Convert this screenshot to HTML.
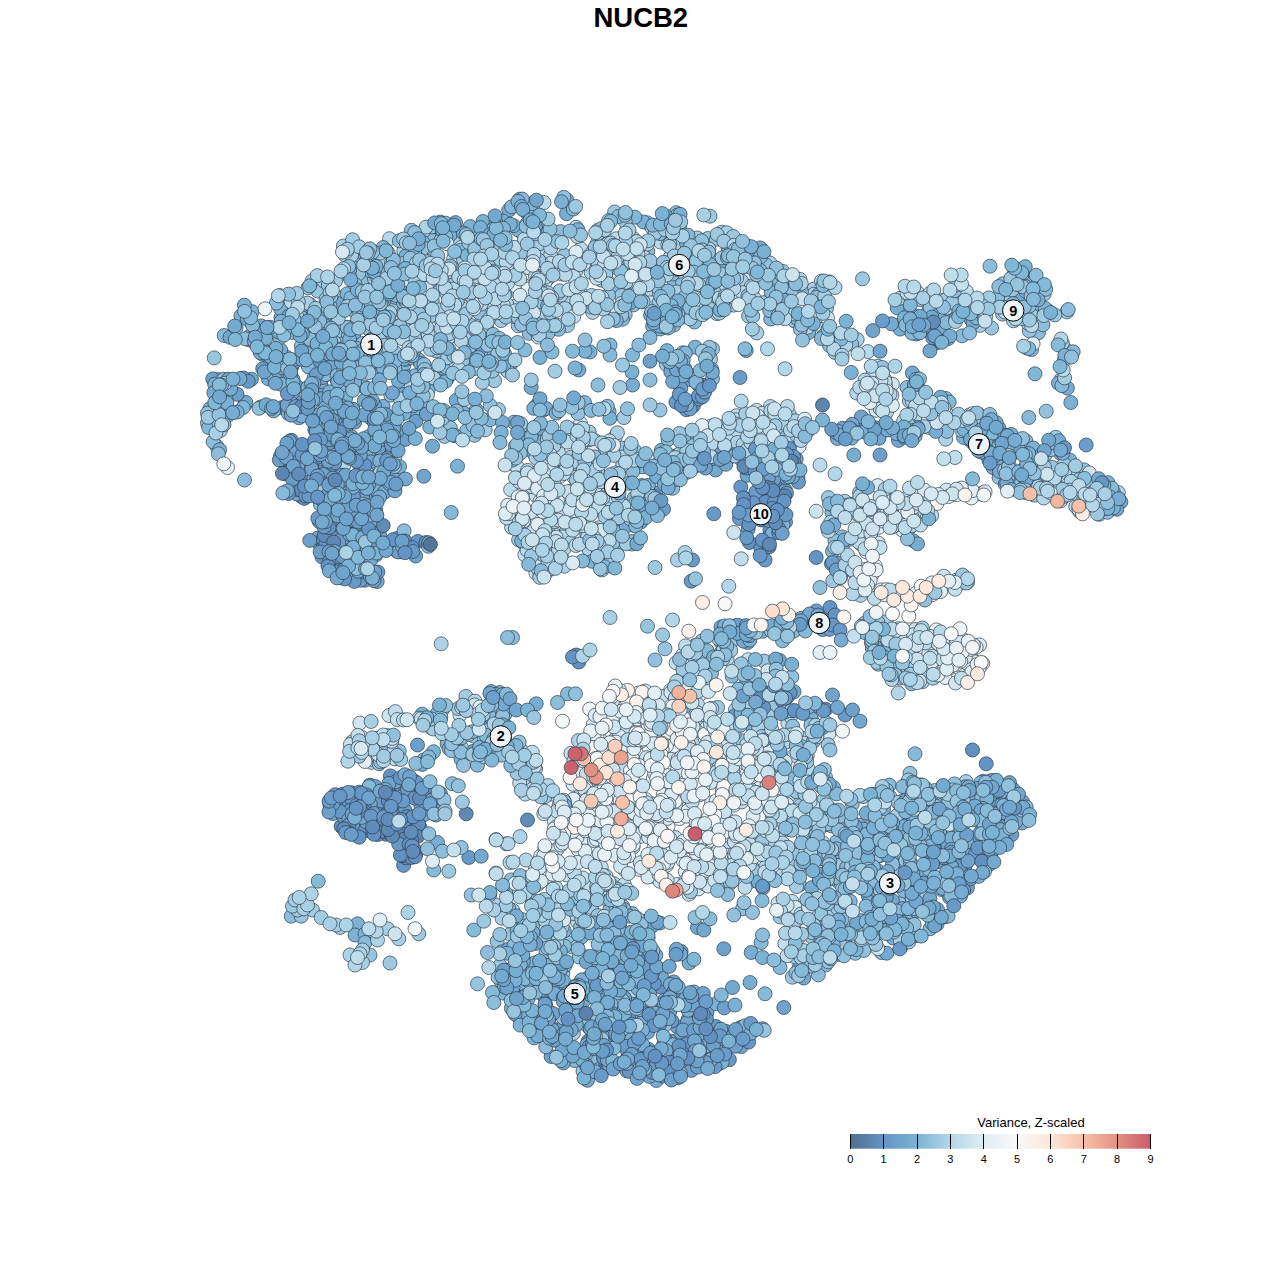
<!DOCTYPE html><html><head><meta charset="utf-8"><title>NUCB2</title><style>html,body{margin:0;padding:0;background:#fff}body{width:1280px;height:1280px;overflow:hidden;font-family:"Liberation Sans",sans-serif}svg{display:block}.p circle{r:7px}text{font-family:"Liberation Sans",sans-serif}</style></head><body><svg width="1280" height="1280" viewBox="0 0 1280 1280"><rect width="1280" height="1280" fill="#fff"/><text x="640.8" y="27" font-size="27.5" font-weight="bold" text-anchor="middle" fill="#000">NUCB2</text><g class="p" stroke="#2f3d4c" stroke-width="0.7"><g fill="#5c85b0"><circle cx="340.9" cy="577.5" r="7"/></g><g fill="#608cba"><circle cx="411.1" cy="848.7" r="7"/><circle cx="329.9" cy="805.1" r="7"/></g><g fill="#6290c0"><circle cx="353.4" cy="796.6" r="7"/><circle cx="588.1" cy="1041.3" r="7"/><circle cx="318.9" cy="421.2" r="7"/><circle cx="779.9" cy="469.7" r="7"/></g><g fill="#6494c5"><circle cx="400.6" cy="795.0" r="7"/><circle cx="687.1" cy="466.2" r="7"/><circle cx="390.4" cy="775.9" r="7"/><circle cx="660.7" cy="987.1" r="7"/><circle cx="377.7" cy="489.3" r="7"/><circle cx="693.4" cy="405.8" r="7"/><circle cx="598.3" cy="1060.5" r="7"/><circle cx="704.1" cy="385.3" r="7"/></g><g fill="#6697c7"><circle cx="740.7" cy="626.6" r="7"/><circle cx="383.3" cy="812.3" r="7"/><circle cx="630.3" cy="1003.3" r="7"/><circle cx="306.7" cy="482.0" r="7"/><circle cx="782.2" cy="453.9" r="7"/><circle cx="352.7" cy="811.2" r="7"/></g><g fill="#689ac8"><circle cx="319.1" cy="543.4" r="7"/><circle cx="325.2" cy="442.8" r="7"/><circle cx="575.7" cy="1052.3" r="7"/><circle cx="1015.8" cy="804.4" r="7"/><circle cx="729.4" cy="1059.7" r="7"/><circle cx="740.7" cy="1027.5" r="7"/></g><g fill="#6b9dca"><circle cx="673.4" cy="1071.4" r="7"/><circle cx="346.8" cy="818.3" r="7"/><circle cx="794.8" cy="468.9" r="7"/><circle cx="746.5" cy="498.9" r="7"/><circle cx="1013.8" cy="485.6" r="7"/></g><g fill="#6da0cb"><circle cx="551.1" cy="1056.5" r="7"/><circle cx="1114.5" cy="500.7" r="7"/><circle cx="590.0" cy="1028.7" r="7"/><circle cx="396.6" cy="791.2" r="7"/><circle cx="711.9" cy="466.2" r="7"/><circle cx="297.8" cy="491.7" r="7"/><circle cx="299.7" cy="458.7" r="7"/><circle cx="767.5" cy="545.9" r="7"/><circle cx="260.7" cy="406.9" r="7"/><circle cx="990.4" cy="856.1" r="7"/><circle cx="838.6" cy="436.0" r="7"/><circle cx="346.6" cy="440.1" r="7"/><circle cx="346.6" cy="497.1" r="7"/><circle cx="405.3" cy="439.4" r="7"/><circle cx="364.9" cy="580.2" r="7"/></g><g fill="#70a4cd"><circle cx="785.5" cy="522.0" r="7"/><circle cx="662.2" cy="1009.2" r="7"/><circle cx="331.1" cy="533.4" r="7"/><circle cx="788.3" cy="470.1" r="7"/><circle cx="829.4" cy="863.8" r="7"/><circle cx="316.1" cy="454.5" r="7"/><circle cx="354.8" cy="422.2" r="7"/><circle cx="283.5" cy="461.9" r="7"/><circle cx="702.2" cy="1036.6" r="7"/><circle cx="354.1" cy="567.9" r="7"/><circle cx="658.0" cy="305.2" r="7"/><circle cx="788.0" cy="696.2" r="7"/><circle cx="890.9" cy="904.9" r="7"/><circle cx="655.8" cy="493.0" r="7"/><circle cx="348.0" cy="483.4" r="7"/></g><g fill="#72a7cf"><circle cx="629.5" cy="995.4" r="7"/><circle cx="912.4" cy="373.0" r="7"/><circle cx="351.3" cy="502.2" r="7"/><circle cx="662.4" cy="978.3" r="7"/><circle cx="368.8" cy="830.9" r="7"/><circle cx="598.3" cy="917.6" r="7"/><circle cx="301.4" cy="307.8" r="7"/><circle cx="226.3" cy="390.0" r="7"/><circle cx="346.8" cy="552.5" r="7"/><circle cx="875.8" cy="427.9" r="7"/><circle cx="705.7" cy="1050.9" r="7"/><circle cx="998.9" cy="428.1" r="7"/><circle cx="397.2" cy="538.5" r="7"/><circle cx="381.2" cy="317.7" r="7"/><circle cx="290.4" cy="387.9" r="7"/></g><g fill="#74aad0"><circle cx="244.7" cy="405.0" r="7"/><circle cx="1013.3" cy="789.6" r="7"/><circle cx="712.4" cy="1042.3" r="7"/><circle cx="359.2" cy="817.7" r="7"/><circle cx="839.4" cy="954.4" r="7"/><circle cx="943.7" cy="851.6" r="7"/><circle cx="794.0" cy="691.7" r="7"/><circle cx="300.6" cy="468.0" r="7"/><circle cx="341.7" cy="357.7" r="7"/><circle cx="324.6" cy="452.5" r="7"/><circle cx="645.9" cy="937.2" r="7"/><circle cx="641.7" cy="1056.6" r="7"/><circle cx="721.0" cy="627.0" r="7"/><circle cx="708.5" cy="1066.6" r="7"/><circle cx="842.1" cy="838.5" r="7"/><circle cx="1020.2" cy="486.7" r="7"/><circle cx="763.8" cy="462.1" r="7"/><circle cx="541.7" cy="991.4" r="7"/><circle cx="331.9" cy="323.6" r="7"/><circle cx="351.7" cy="371.8" r="7"/><circle cx="245.9" cy="402.5" r="7"/></g><g fill="#77add2"><circle cx="283.0" cy="456.3" r="7"/><circle cx="338.9" cy="538.1" r="7"/><circle cx="860.7" cy="920.6" r="7"/><circle cx="354.4" cy="258.2" r="7"/><circle cx="899.5" cy="882.3" r="7"/><circle cx="1000.5" cy="460.2" r="7"/><circle cx="338.7" cy="493.3" r="7"/><circle cx="353.6" cy="549.5" r="7"/><circle cx="423.3" cy="810.7" r="7"/></g><g fill="#79b0d3"><circle cx="660.7" cy="323.5" r="7"/><circle cx="466.4" cy="363.7" r="7"/><circle cx="919.8" cy="392.2" r="7"/><circle cx="333.2" cy="361.2" r="7"/><circle cx="533.4" cy="452.7" r="7"/><circle cx="694.0" cy="992.0" r="7"/><circle cx="618.4" cy="1065.3" r="7"/><circle cx="853.7" cy="873.8" r="7"/><circle cx="907.5" cy="817.3" r="7"/><circle cx="1060.7" cy="453.6" r="7"/><circle cx="917.6" cy="935.6" r="7"/><circle cx="874.2" cy="891.9" r="7"/><circle cx="383.1" cy="406.4" r="7"/><circle cx="619.5" cy="927.8" r="7"/><circle cx="744.2" cy="269.0" r="7"/><circle cx="623.2" cy="1007.7" r="7"/></g><g fill="#7bb3d5"><circle cx="838.9" cy="947.3" r="7"/><circle cx="240.9" cy="316.0" r="7"/><circle cx="498.5" cy="971.1" r="7"/><circle cx="638.5" cy="1051.0" r="7"/><circle cx="536.1" cy="986.6" r="7"/><circle cx="1069.8" cy="460.0" r="7"/><circle cx="661.3" cy="450.3" r="7"/><circle cx="592.2" cy="1065.8" r="7"/><circle cx="997.3" cy="793.9" r="7"/><circle cx="499.1" cy="695.3" r="7"/><circle cx="729.4" cy="240.6" r="7"/><circle cx="417.4" cy="398.6" r="7"/><circle cx="484.4" cy="751.4" r="7"/><circle cx="695.2" cy="347.2" r="7"/><circle cx="709.9" cy="678.8" r="7"/><circle cx="220.4" cy="399.8" r="7"/><circle cx="320.9" cy="385.1" r="7"/><circle cx="598.8" cy="1011.9" r="7"/><circle cx="940.0" cy="841.8" r="7"/><circle cx="614.6" cy="917.0" r="7"/><circle cx="639.7" cy="958.3" r="7"/><circle cx="323.1" cy="313.5" r="7"/><circle cx="263.0" cy="349.8" r="7"/><circle cx="380.1" cy="422.8" r="7"/><circle cx="946.9" cy="799.5" r="7"/><circle cx="374.5" cy="405.9" r="7"/></g><g fill="#81b7d7"><circle cx="916.2" cy="379.3" r="7"/><circle cx="675.2" cy="307.8" r="7"/><circle cx="878.2" cy="930.6" r="7"/><circle cx="1107.9" cy="491.5" r="7"/><circle cx="221.1" cy="412.8" r="7"/><circle cx="804.2" cy="764.2" r="7"/><circle cx="499.4" cy="753.3" r="7"/><circle cx="997.9" cy="447.8" r="7"/><circle cx="399.6" cy="365.1" r="7"/><circle cx="499.4" cy="344.4" r="7"/><circle cx="502.6" cy="348.1" r="7"/><circle cx="502.6" cy="993.0" r="7"/><circle cx="353.6" cy="334.8" r="7"/></g><g fill="#86bad9"><circle cx="1013.7" cy="817.3" r="7"/><circle cx="535.0" cy="977.1" r="7"/><circle cx="428.2" cy="390.1" r="7"/><circle cx="962.1" cy="335.8" r="7"/><circle cx="641.1" cy="1017.5" r="7"/><circle cx="853.4" cy="878.6" r="7"/><circle cx="359.8" cy="541.8" r="7"/><circle cx="592.1" cy="1057.6" r="7"/><circle cx="368.6" cy="436.7" r="7"/><circle cx="632.1" cy="913.5" r="7"/><circle cx="881.6" cy="952.6" r="7"/><circle cx="531.0" cy="940.4" r="7"/><circle cx="301.5" cy="496.5" r="7"/><circle cx="1066.4" cy="467.8" r="7"/><circle cx="305.5" cy="406.3" r="7"/></g><g fill="#8cbedb"><circle cx="542.7" cy="320.7" r="7"/><circle cx="799.4" cy="885.0" r="7"/><circle cx="887.0" cy="643.8" r="7"/><circle cx="595.1" cy="476.8" r="7"/><circle cx="397.3" cy="310.0" r="7"/><circle cx="647.8" cy="251.3" r="7"/><circle cx="721.0" cy="642.0" r="7"/><circle cx="355.7" cy="312.4" r="7"/><circle cx="1018.9" cy="481.6" r="7"/><circle cx="363.5" cy="278.3" r="7"/><circle cx="324.4" cy="353.0" r="7"/><circle cx="889.1" cy="429.6" r="7"/><circle cx="585.5" cy="1054.9" r="7"/><circle cx="1117.3" cy="498.7" r="7"/><circle cx="617.8" cy="531.6" r="7"/><circle cx="721.4" cy="652.1" r="7"/><circle cx="673.9" cy="325.0" r="7"/><circle cx="1002.3" cy="801.1" r="7"/><circle cx="391.0" cy="274.0" r="7"/><circle cx="556.7" cy="437.1" r="7"/></g><g fill="#92c1dd"><circle cx="846.2" cy="830.7" r="7"/><circle cx="808.4" cy="848.0" r="7"/><circle cx="362.5" cy="317.5" r="7"/><circle cx="999.1" cy="477.4" r="7"/><circle cx="933.7" cy="834.3" r="7"/><circle cx="956.4" cy="803.6" r="7"/><circle cx="633.6" cy="304.9" r="7"/><circle cx="540.4" cy="318.7" r="7"/><circle cx="1045.0" cy="454.9" r="7"/><circle cx="384.5" cy="315.1" r="7"/></g><g fill="#97c5de"><circle cx="494.5" cy="364.2" r="7"/><circle cx="442.7" cy="709.3" r="7"/><circle cx="773.4" cy="708.0" r="7"/><circle cx="564.0" cy="261.1" r="7"/><circle cx="900.9" cy="811.8" r="7"/><circle cx="579.6" cy="913.2" r="7"/><circle cx="874.2" cy="907.0" r="7"/><circle cx="518.2" cy="325.8" r="7"/><circle cx="830.2" cy="882.9" r="7"/><circle cx="636.7" cy="511.2" r="7"/><circle cx="487.5" cy="310.9" r="7"/><circle cx="1030.0" cy="488.2" r="7"/><circle cx="686.8" cy="434.7" r="7"/><circle cx="606.6" cy="479.5" r="7"/><circle cx="817.4" cy="951.8" r="7"/><circle cx="679.4" cy="226.8" r="7"/><circle cx="609.8" cy="558.0" r="7"/><circle cx="805.4" cy="292.9" r="7"/><circle cx="770.3" cy="284.7" r="7"/><circle cx="828.7" cy="945.3" r="7"/><circle cx="697.7" cy="689.5" r="7"/></g><g fill="#9dc8e0"><circle cx="603.9" cy="252.0" r="7"/><circle cx="792.3" cy="977.2" r="7"/><circle cx="359.2" cy="310.9" r="7"/><circle cx="840.0" cy="511.6" r="7"/><circle cx="454.5" cy="264.3" r="7"/><circle cx="1064.1" cy="464.2" r="7"/><circle cx="535.8" cy="270.6" r="7"/><circle cx="855.5" cy="427.7" r="7"/><circle cx="473.8" cy="736.1" r="7"/><circle cx="605.4" cy="488.2" r="7"/><circle cx="666.4" cy="364.3" r="7"/><circle cx="419.8" cy="280.8" r="7"/><circle cx="647.3" cy="222.8" r="7"/><circle cx="522.2" cy="259.3" r="7"/><circle cx="389.3" cy="321.1" r="7"/><circle cx="829.6" cy="881.6" r="7"/><circle cx="529.6" cy="927.1" r="7"/><circle cx="447.3" cy="738.5" r="7"/><circle cx="878.2" cy="664.2" r="7"/><circle cx="621.4" cy="448.1" r="7"/></g><g fill="#a2cce2"><circle cx="1074.4" cy="485.4" r="7"/><circle cx="589.2" cy="432.0" r="7"/><circle cx="417.6" cy="322.1" r="7"/><circle cx="601.9" cy="570.0" r="7"/><circle cx="902.4" cy="800.9" r="7"/><circle cx="864.7" cy="623.2" r="7"/><circle cx="216.7" cy="446.1" r="7"/><circle cx="597.5" cy="891.5" r="7"/><circle cx="379.1" cy="269.5" r="7"/><circle cx="904.5" cy="649.4" r="7"/><circle cx="630.7" cy="252.0" r="7"/><circle cx="322.8" cy="324.6" r="7"/><circle cx="701.8" cy="641.1" r="7"/><circle cx="451.3" cy="274.4" r="7"/><circle cx="805.2" cy="766.6" r="7"/></g><g fill="#a8cfe4"><circle cx="1040.9" cy="310.9" r="7"/><circle cx="510.0" cy="463.2" r="7"/><circle cx="957.1" cy="585.2" r="7"/><circle cx="459.3" cy="286.5" r="7"/><circle cx="455.6" cy="267.6" r="7"/><circle cx="559.5" cy="457.7" r="7"/><circle cx="352.4" cy="741.8" r="7"/><circle cx="813.7" cy="289.1" r="7"/><circle cx="857.2" cy="339.6" r="7"/><circle cx="423.7" cy="716.4" r="7"/></g><g fill="#add3e6"><circle cx="710.8" cy="426.1" r="7"/><circle cx="782.5" cy="295.5" r="7"/><circle cx="1086.9" cy="490.2" r="7"/><circle cx="495.2" cy="904.8" r="7"/><circle cx="813.9" cy="294.2" r="7"/><circle cx="546.5" cy="252.5" r="7"/><circle cx="910.2" cy="420.3" r="7"/><circle cx="928.7" cy="675.7" r="7"/><circle cx="588.9" cy="549.3" r="7"/><circle cx="522.5" cy="766.4" r="7"/><circle cx="592.7" cy="312.4" r="7"/><circle cx="532.3" cy="782.1" r="7"/><circle cx="532.5" cy="901.9" r="7"/><circle cx="726.0" cy="883.5" r="7"/><circle cx="845.8" cy="945.6" r="7"/></g><g fill="#b3d6e8"><circle cx="894.9" cy="669.7" r="7"/><circle cx="683.3" cy="675.8" r="7"/><circle cx="789.7" cy="795.0" r="7"/><circle cx="425.1" cy="335.3" r="7"/><circle cx="610.0" cy="452.2" r="7"/><circle cx="306.5" cy="403.3" r="7"/><circle cx="727.2" cy="658.9" r="7"/><circle cx="706.0" cy="443.8" r="7"/><circle cx="651.5" cy="803.6" r="7"/><circle cx="394.8" cy="457.3" r="7"/></g><g fill="#b7d9e9"><circle cx="719.0" cy="276.6" r="7"/><circle cx="860.5" cy="543.9" r="7"/><circle cx="707.5" cy="362.3" r="7"/><circle cx="568.1" cy="512.6" r="7"/><circle cx="549.1" cy="271.0" r="7"/><circle cx="646.2" cy="732.1" r="7"/><circle cx="808.1" cy="768.8" r="7"/><circle cx="576.0" cy="270.9" r="7"/><circle cx="737.4" cy="715.9" r="7"/><circle cx="738.6" cy="852.1" r="7"/><circle cx="779.2" cy="310.3" r="7"/><circle cx="389.5" cy="238.7" r="7"/><circle cx="578.0" cy="495.1" r="7"/><circle cx="551.2" cy="540.8" r="7"/><circle cx="759.3" cy="786.8" r="7"/><circle cx="547.2" cy="279.2" r="7"/><circle cx="550.7" cy="254.8" r="7"/></g><g fill="#bcdbea"><circle cx="780.0" cy="428.9" r="7"/><circle cx="613.0" cy="271.4" r="7"/><circle cx="792.5" cy="783.1" r="7"/><circle cx="766.1" cy="438.1" r="7"/><circle cx="558.0" cy="454.2" r="7"/><circle cx="688.2" cy="675.0" r="7"/><circle cx="437.3" cy="259.2" r="7"/><circle cx="580.9" cy="249.0" r="7"/><circle cx="826.2" cy="334.8" r="7"/></g><g fill="#c0ddec"><circle cx="727.3" cy="870.9" r="7"/><circle cx="891.0" cy="524.6" r="7"/><circle cx="722.8" cy="756.9" r="7"/><circle cx="802.6" cy="738.3" r="7"/><circle cx="746.1" cy="852.8" r="7"/><circle cx="931.7" cy="515.5" r="7"/><circle cx="791.9" cy="901.4" r="7"/></g><g fill="#c4dfed"><circle cx="494.1" cy="262.4" r="7"/><circle cx="949.0" cy="493.2" r="7"/><circle cx="728.2" cy="852.7" r="7"/><circle cx="779.0" cy="836.9" r="7"/><circle cx="624.7" cy="238.7" r="7"/><circle cx="586.0" cy="886.9" r="7"/></g><g fill="#c9e2ee"><circle cx="574.9" cy="772.5" r="7"/><circle cx="938.2" cy="310.0" r="7"/><circle cx="884.5" cy="508.3" r="7"/><circle cx="628.0" cy="290.4" r="7"/><circle cx="589.4" cy="745.0" r="7"/><circle cx="794.4" cy="755.4" r="7"/><circle cx="415.8" cy="239.2" r="7"/></g><g fill="#cde4ef"><circle cx="884.8" cy="407.6" r="7"/><circle cx="574.1" cy="477.6" r="7"/><circle cx="728.6" cy="284.4" r="7"/><circle cx="534.2" cy="530.3" r="7"/><circle cx="535.9" cy="572.9" r="7"/><circle cx="708.9" cy="847.1" r="7"/><circle cx="921.2" cy="595.2" r="7"/></g><g fill="#d2e6f1"><circle cx="624.8" cy="869.9" r="7"/><circle cx="645.2" cy="691.0" r="7"/><circle cx="640.1" cy="836.4" r="7"/><circle cx="714.4" cy="767.7" r="7"/><circle cx="559.9" cy="476.4" r="7"/><circle cx="436.9" cy="725.5" r="7"/><circle cx="540.6" cy="856.1" r="7"/><circle cx="761.7" cy="774.9" r="7"/><circle cx="884.8" cy="499.6" r="7"/><circle cx="892.4" cy="384.2" r="7"/><circle cx="946.4" cy="490.1" r="7"/><circle cx="699.9" cy="794.8" r="7"/></g><g fill="#d6e8f2"><circle cx="580.5" cy="423.4" r="7"/><circle cx="621.2" cy="825.5" r="7"/><circle cx="559.9" cy="831.5" r="7"/><circle cx="828.9" cy="733.8" r="7"/><circle cx="544.9" cy="848.3" r="7"/></g><g fill="#daebf3"><circle cx="937.9" cy="633.8" r="7"/><circle cx="558.0" cy="869.3" r="7"/></g><g fill="#dfedf4"><circle cx="968.2" cy="670.7" r="7"/><circle cx="902.0" cy="529.9" r="7"/><circle cx="682.2" cy="782.4" r="7"/><circle cx="683.2" cy="860.8" r="7"/></g><g fill="#e1eef5"><circle cx="708.4" cy="763.2" r="7"/><circle cx="676.8" cy="771.4" r="7"/><circle cx="645.9" cy="807.0" r="7"/></g><g fill="#e4eff5"><circle cx="951.6" cy="643.6" r="7"/><circle cx="609.7" cy="839.1" r="7"/><circle cx="625.6" cy="824.3" r="7"/><circle cx="743.9" cy="839.7" r="7"/><circle cx="590.2" cy="811.3" r="7"/></g><g fill="#e7f1f6"><circle cx="952.2" cy="653.6" r="7"/><circle cx="936.3" cy="629.9" r="7"/><circle cx="564.5" cy="817.0" r="7"/><circle cx="651.5" cy="819.6" r="7"/><circle cx="618.5" cy="761.6" r="7"/></g><g fill="#e9f2f6"><circle cx="720.2" cy="839.6" r="7"/><circle cx="663.3" cy="794.8" r="7"/></g><g fill="#ecf3f7"><circle cx="694.0" cy="739.9" r="7"/></g><g fill="#eff4f7"><circle cx="666.8" cy="733.6" r="7"/><circle cx="904.8" cy="511.3" r="7"/></g><g fill="#f4f7f8"><circle cx="596.5" cy="779.4" r="7"/></g><g fill="#f7f8f9"><circle cx="638.3" cy="693.1" r="7"/></g><g fill="#faf7f6"><circle cx="700.9" cy="836.4" r="7"/><circle cx="597.3" cy="734.0" r="7"/></g><g fill="#fbf2ec"><circle cx="678.0" cy="798.8" r="7"/></g><g fill="#fcf0e9"><circle cx="592.0" cy="754.4" r="7"/></g><g fill="#fcece2"><circle cx="595.7" cy="724.4" r="7"/><circle cx="599.3" cy="783.2" r="7"/></g><g fill="#fbf4ef"><circle cx="627.9" cy="758.7" r="7"/></g><g fill="#f9f9f9"><circle cx="725.0" cy="753.2" r="7"/></g><g fill="#f1f6f8"><circle cx="736.6" cy="773.8" r="7"/><circle cx="715.2" cy="830.1" r="7"/><circle cx="737.3" cy="801.3" r="7"/></g><g fill="#eff4f7"><circle cx="605.1" cy="780.3" r="7"/><circle cx="637.6" cy="719.2" r="7"/></g><g fill="#e9f2f6"><circle cx="966.2" cy="671.9" r="7"/><circle cx="963.4" cy="644.7" r="7"/><circle cx="583.6" cy="523.6" r="7"/><circle cx="603.5" cy="792.9" r="7"/></g><g fill="#e4eff5"><circle cx="759.9" cy="779.3" r="7"/><circle cx="686.1" cy="841.3" r="7"/><circle cx="697.6" cy="763.5" r="7"/></g><g fill="#e1eef5"><circle cx="710.2" cy="822.4" r="7"/><circle cx="656.6" cy="740.6" r="7"/><circle cx="925.7" cy="514.2" r="7"/></g><g fill="#dfedf4"><circle cx="758.3" cy="837.2" r="7"/><circle cx="950.1" cy="663.8" r="7"/><circle cx="644.0" cy="823.4" r="7"/><circle cx="786.9" cy="804.4" r="7"/><circle cx="670.5" cy="690.4" r="7"/><circle cx="628.1" cy="745.3" r="7"/><circle cx="608.2" cy="504.5" r="7"/><circle cx="582.3" cy="839.8" r="7"/></g><g fill="#daebf3"><circle cx="599.5" cy="757.3" r="7"/><circle cx="686.9" cy="846.5" r="7"/><circle cx="553.5" cy="851.1" r="7"/></g><g fill="#d6e8f2"><circle cx="891.9" cy="507.3" r="7"/><circle cx="763.1" cy="849.0" r="7"/><circle cx="865.6" cy="393.6" r="7"/><circle cx="543.6" cy="856.1" r="7"/><circle cx="651.8" cy="728.6" r="7"/><circle cx="634.9" cy="834.1" r="7"/><circle cx="872.0" cy="574.7" r="7"/><circle cx="605.0" cy="302.4" r="7"/><circle cx="854.0" cy="572.1" r="7"/></g><g fill="#d2e6f1"><circle cx="451.3" cy="335.2" r="7"/><circle cx="721.9" cy="810.6" r="7"/></g><g fill="#cde4ef"><circle cx="389.0" cy="715.5" r="7"/><circle cx="915.2" cy="629.5" r="7"/><circle cx="885.4" cy="385.4" r="7"/></g><g fill="#c9e2ee"><circle cx="555.6" cy="498.3" r="7"/><circle cx="459.9" cy="715.1" r="7"/><circle cx="891.6" cy="512.7" r="7"/><circle cx="581.0" cy="790.2" r="7"/><circle cx="523.5" cy="877.4" r="7"/><circle cx="461.6" cy="265.4" r="7"/><circle cx="589.8" cy="443.3" r="7"/><circle cx="479.5" cy="276.5" r="7"/></g><g fill="#c4dfed"><circle cx="914.1" cy="293.6" r="7"/><circle cx="511.0" cy="913.9" r="7"/><circle cx="784.9" cy="943.6" r="7"/><circle cx="661.5" cy="696.4" r="7"/><circle cx="599.2" cy="527.7" r="7"/><circle cx="550.8" cy="263.3" r="7"/><circle cx="566.4" cy="874.9" r="7"/><circle cx="517.3" cy="467.2" r="7"/></g><g fill="#c0ddec"><circle cx="727.7" cy="873.9" r="7"/><circle cx="575.5" cy="458.3" r="7"/><circle cx="582.9" cy="878.0" r="7"/><circle cx="930.9" cy="409.9" r="7"/><circle cx="616.7" cy="791.8" r="7"/><circle cx="884.6" cy="379.0" r="7"/><circle cx="550.8" cy="523.7" r="7"/><circle cx="633.0" cy="847.3" r="7"/></g><g fill="#bcdbea"><circle cx="577.4" cy="921.7" r="7"/><circle cx="705.1" cy="465.6" r="7"/><circle cx="608.2" cy="743.9" r="7"/><circle cx="511.6" cy="527.3" r="7"/><circle cx="532.9" cy="879.8" r="7"/><circle cx="533.1" cy="243.1" r="7"/><circle cx="917.1" cy="292.1" r="7"/><circle cx="510.6" cy="489.6" r="7"/></g><g fill="#b7d9e9"><circle cx="765.7" cy="803.9" r="7"/><circle cx="558.0" cy="467.7" r="7"/><circle cx="1039.1" cy="305.6" r="7"/><circle cx="589.9" cy="263.9" r="7"/><circle cx="918.7" cy="673.6" r="7"/><circle cx="506.6" cy="292.7" r="7"/><circle cx="371.4" cy="762.4" r="7"/><circle cx="373.9" cy="760.0" r="7"/><circle cx="561.1" cy="523.0" r="7"/><circle cx="574.3" cy="873.5" r="7"/><circle cx="803.1" cy="835.5" r="7"/><circle cx="878.4" cy="370.8" r="7"/><circle cx="437.6" cy="316.7" r="7"/></g><g fill="#b3d6e8"><circle cx="740.0" cy="794.0" r="7"/><circle cx="791.1" cy="852.3" r="7"/><circle cx="824.8" cy="309.6" r="7"/><circle cx="814.6" cy="823.5" r="7"/><circle cx="722.0" cy="291.7" r="7"/><circle cx="595.1" cy="440.7" r="7"/><circle cx="1059.8" cy="490.1" r="7"/><circle cx="600.6" cy="880.2" r="7"/><circle cx="1064.8" cy="348.8" r="7"/><circle cx="1075.7" cy="506.5" r="7"/><circle cx="721.6" cy="448.7" r="7"/><circle cx="772.7" cy="816.4" r="7"/><circle cx="1000.1" cy="436.5" r="7"/><circle cx="558.3" cy="539.5" r="7"/><circle cx="496.8" cy="362.5" r="7"/><circle cx="776.8" cy="849.7" r="7"/><circle cx="623.5" cy="993.4" r="7"/><circle cx="549.6" cy="794.3" r="7"/><circle cx="563.4" cy="560.3" r="7"/></g><g fill="#add3e6"><circle cx="564.5" cy="566.2" r="7"/><circle cx="752.6" cy="868.2" r="7"/><circle cx="482.2" cy="322.4" r="7"/><circle cx="627.0" cy="260.6" r="7"/><circle cx="596.1" cy="481.5" r="7"/><circle cx="860.6" cy="506.3" r="7"/><circle cx="806.3" cy="812.8" r="7"/><circle cx="567.8" cy="507.4" r="7"/><circle cx="780.3" cy="818.4" r="7"/><circle cx="807.3" cy="793.9" r="7"/><circle cx="723.3" cy="650.1" r="7"/></g><g fill="#a8cfe4"><circle cx="551.4" cy="443.5" r="7"/><circle cx="756.8" cy="332.9" r="7"/><circle cx="812.3" cy="811.2" r="7"/><circle cx="393.5" cy="301.5" r="7"/><circle cx="723.0" cy="880.5" r="7"/><circle cx="343.4" cy="246.0" r="7"/><circle cx="819.0" cy="882.6" r="7"/><circle cx="889.9" cy="796.8" r="7"/><circle cx="591.1" cy="272.5" r="7"/><circle cx="795.8" cy="782.8" r="7"/><circle cx="622.7" cy="906.5" r="7"/><circle cx="566.2" cy="532.1" r="7"/><circle cx="535.5" cy="768.7" r="7"/><circle cx="561.9" cy="274.1" r="7"/><circle cx="850.5" cy="504.4" r="7"/><circle cx="713.6" cy="291.2" r="7"/><circle cx="791.7" cy="866.0" r="7"/><circle cx="1066.3" cy="488.7" r="7"/><circle cx="840.5" cy="577.6" r="7"/><circle cx="718.7" cy="638.9" r="7"/></g><g fill="#a2cce2"><circle cx="544.3" cy="899.4" r="7"/><circle cx="408.9" cy="287.3" r="7"/><circle cx="465.9" cy="696.4" r="7"/><circle cx="733.5" cy="305.1" r="7"/><circle cx="501.2" cy="320.6" r="7"/><circle cx="915.1" cy="416.2" r="7"/><circle cx="530.4" cy="562.3" r="7"/><circle cx="518.6" cy="539.9" r="7"/><circle cx="323.6" cy="441.3" r="7"/><circle cx="537.6" cy="884.6" r="7"/><circle cx="768.1" cy="715.6" r="7"/><circle cx="777.2" cy="801.3" r="7"/><circle cx="684.4" cy="443.1" r="7"/><circle cx="686.5" cy="472.5" r="7"/><circle cx="597.7" cy="230.3" r="7"/><circle cx="461.6" cy="747.8" r="7"/><circle cx="970.6" cy="430.9" r="7"/><circle cx="539.8" cy="243.6" r="7"/><circle cx="789.4" cy="414.4" r="7"/><circle cx="824.9" cy="920.3" r="7"/><circle cx="923.5" cy="397.9" r="7"/><circle cx="825.5" cy="777.2" r="7"/><circle cx="979.6" cy="321.7" r="7"/><circle cx="383.5" cy="338.8" r="7"/><circle cx="560.7" cy="470.1" r="7"/></g><g fill="#9dc8e0"><circle cx="857.8" cy="507.4" r="7"/><circle cx="828.4" cy="497.6" r="7"/><circle cx="706.5" cy="306.4" r="7"/><circle cx="385.7" cy="354.6" r="7"/><circle cx="567.5" cy="325.5" r="7"/><circle cx="764.0" cy="302.6" r="7"/><circle cx="1016.7" cy="487.2" r="7"/><circle cx="584.0" cy="1017.6" r="7"/><circle cx="707.9" cy="238.5" r="7"/><circle cx="991.6" cy="840.2" r="7"/><circle cx="583.0" cy="1071.1" r="7"/><circle cx="987.7" cy="451.2" r="7"/><circle cx="826.5" cy="308.3" r="7"/><circle cx="539.8" cy="573.3" r="7"/><circle cx="730.4" cy="882.9" r="7"/><circle cx="1060.9" cy="379.9" r="7"/><circle cx="371.6" cy="292.2" r="7"/><circle cx="1086.3" cy="505.3" r="7"/></g><g fill="#97c5de"><circle cx="692.7" cy="257.5" r="7"/><circle cx="1004.3" cy="809.6" r="7"/><circle cx="510.2" cy="934.4" r="7"/><circle cx="207.4" cy="423.1" r="7"/><circle cx="773.5" cy="675.6" r="7"/><circle cx="471.1" cy="362.9" r="7"/><circle cx="823.5" cy="800.3" r="7"/><circle cx="834.7" cy="892.4" r="7"/><circle cx="706.0" cy="450.1" r="7"/><circle cx="572.2" cy="946.9" r="7"/><circle cx="829.8" cy="816.3" r="7"/><circle cx="716.4" cy="239.3" r="7"/><circle cx="310.3" cy="304.7" r="7"/><circle cx="913.7" cy="839.9" r="7"/><circle cx="925.7" cy="890.7" r="7"/><circle cx="625.2" cy="314.8" r="7"/><circle cx="668.0" cy="475.9" r="7"/><circle cx="928.1" cy="851.8" r="7"/><circle cx="801.6" cy="317.5" r="7"/><circle cx="562.8" cy="973.6" r="7"/><circle cx="526.8" cy="552.1" r="7"/><circle cx="796.1" cy="791.6" r="7"/><circle cx="1056.2" cy="493.5" r="7"/><circle cx="903.7" cy="838.9" r="7"/><circle cx="497.2" cy="941.4" r="7"/><circle cx="694.6" cy="288.0" r="7"/><circle cx="660.1" cy="272.9" r="7"/><circle cx="388.3" cy="253.2" r="7"/></g><g fill="#92c1dd"><circle cx="356.2" cy="255.6" r="7"/><circle cx="528.8" cy="231.2" r="7"/><circle cx="964.0" cy="837.8" r="7"/><circle cx="852.4" cy="857.4" r="7"/><circle cx="723.2" cy="1056.1" r="7"/><circle cx="851.7" cy="344.2" r="7"/><circle cx="474.4" cy="435.3" r="7"/><circle cx="801.2" cy="827.6" r="7"/><circle cx="895.3" cy="851.9" r="7"/><circle cx="567.3" cy="942.4" r="7"/><circle cx="1051.3" cy="449.6" r="7"/><circle cx="1084.2" cy="469.9" r="7"/><circle cx="754.8" cy="273.0" r="7"/><circle cx="527.7" cy="886.2" r="7"/><circle cx="384.1" cy="753.5" r="7"/><circle cx="518.4" cy="204.6" r="7"/><circle cx="480.9" cy="338.7" r="7"/><circle cx="800.8" cy="321.2" r="7"/><circle cx="880.3" cy="880.4" r="7"/><circle cx="501.9" cy="951.8" r="7"/><circle cx="957.7" cy="849.9" r="7"/></g><g fill="#8cbedb"><circle cx="1013.8" cy="275.0" r="7"/><circle cx="352.2" cy="267.2" r="7"/><circle cx="679.7" cy="281.6" r="7"/><circle cx="586.7" cy="957.4" r="7"/><circle cx="971.5" cy="441.6" r="7"/><circle cx="514.0" cy="422.2" r="7"/><circle cx="694.7" cy="645.7" r="7"/><circle cx="672.7" cy="488.3" r="7"/><circle cx="695.8" cy="437.0" r="7"/><circle cx="543.3" cy="410.1" r="7"/><circle cx="560.5" cy="231.6" r="7"/><circle cx="1023.1" cy="448.2" r="7"/><circle cx="868.3" cy="895.9" r="7"/><circle cx="1051.6" cy="442.5" r="7"/><circle cx="490.2" cy="227.5" r="7"/><circle cx="1037.2" cy="316.8" r="7"/><circle cx="999.9" cy="462.3" r="7"/><circle cx="506.9" cy="223.1" r="7"/><circle cx="777.7" cy="278.5" r="7"/><circle cx="751.5" cy="744.2" r="7"/></g><g fill="#86bad9"><circle cx="810.0" cy="709.5" r="7"/><circle cx="694.5" cy="322.0" r="7"/><circle cx="930.1" cy="928.7" r="7"/><circle cx="821.0" cy="962.0" r="7"/><circle cx="626.7" cy="465.7" r="7"/><circle cx="932.2" cy="923.2" r="7"/><circle cx="955.6" cy="846.9" r="7"/><circle cx="945.7" cy="398.4" r="7"/><circle cx="404.1" cy="321.5" r="7"/><circle cx="902.2" cy="858.5" r="7"/><circle cx="709.9" cy="305.9" r="7"/><circle cx="841.0" cy="432.5" r="7"/><circle cx="501.0" cy="981.2" r="7"/><circle cx="631.4" cy="1016.7" r="7"/><circle cx="473.3" cy="256.7" r="7"/><circle cx="404.0" cy="365.0" r="7"/><circle cx="674.0" cy="281.1" r="7"/><circle cx="1006.0" cy="829.1" r="7"/><circle cx="558.5" cy="329.3" r="7"/><circle cx="415.7" cy="413.9" r="7"/><circle cx="418.9" cy="360.0" r="7"/><circle cx="609.1" cy="411.6" r="7"/><circle cx="320.4" cy="504.4" r="7"/><circle cx="984.8" cy="436.2" r="7"/><circle cx="694.0" cy="682.3" r="7"/><circle cx="224.2" cy="335.5" r="7"/><circle cx="824.4" cy="298.2" r="7"/></g><g fill="#81b7d7"><circle cx="428.3" cy="370.7" r="7"/><circle cx="925.5" cy="795.3" r="7"/><circle cx="664.9" cy="306.5" r="7"/><circle cx="649.7" cy="919.3" r="7"/><circle cx="642.3" cy="1011.2" r="7"/><circle cx="262.8" cy="354.3" r="7"/><circle cx="1008.6" cy="804.0" r="7"/><circle cx="491.1" cy="691.5" r="7"/><circle cx="697.2" cy="1038.9" r="7"/></g><g fill="#7bb3d5"><circle cx="413.6" cy="385.7" r="7"/><circle cx="360.2" cy="465.3" r="7"/><circle cx="1003.4" cy="817.6" r="7"/><circle cx="440.3" cy="222.1" r="7"/><circle cx="500.2" cy="727.4" r="7"/><circle cx="912.7" cy="806.0" r="7"/><circle cx="1058.5" cy="383.2" r="7"/><circle cx="447.1" cy="743.9" r="7"/><circle cx="913.4" cy="934.7" r="7"/><circle cx="628.3" cy="1018.6" r="7"/><circle cx="883.8" cy="847.1" r="7"/><circle cx="486.6" cy="328.0" r="7"/><circle cx="422.1" cy="714.2" r="7"/><circle cx="511.4" cy="1008.4" r="7"/><circle cx="433.5" cy="751.7" r="7"/></g><g fill="#79b0d3"><circle cx="837.2" cy="884.8" r="7"/><circle cx="335.1" cy="325.9" r="7"/><circle cx="696.4" cy="1056.7" r="7"/><circle cx="828.2" cy="811.6" r="7"/><circle cx="328.0" cy="481.3" r="7"/><circle cx="734.8" cy="261.5" r="7"/><circle cx="655.8" cy="955.3" r="7"/><circle cx="647.7" cy="501.0" r="7"/><circle cx="660.1" cy="923.0" r="7"/><circle cx="333.1" cy="346.5" r="7"/><circle cx="996.0" cy="800.8" r="7"/><circle cx="1070.8" cy="402.5" r="7"/><circle cx="747.7" cy="246.2" r="7"/><circle cx="461.0" cy="759.0" r="7"/><circle cx="337.5" cy="398.7" r="7"/><circle cx="684.6" cy="316.7" r="7"/><circle cx="678.0" cy="1061.7" r="7"/><circle cx="883.6" cy="808.9" r="7"/><circle cx="355.2" cy="565.9" r="7"/></g><g fill="#77add2"><circle cx="734.8" cy="275.6" r="7"/><circle cx="366.0" cy="451.5" r="7"/><circle cx="518.7" cy="1017.1" r="7"/><circle cx="772.4" cy="494.7" r="7"/><circle cx="598.6" cy="1072.8" r="7"/><circle cx="381.2" cy="424.6" r="7"/><circle cx="377.2" cy="581.5" r="7"/><circle cx="544.5" cy="996.6" r="7"/><circle cx="656.4" cy="1080.5" r="7"/><circle cx="643.4" cy="962.7" r="7"/><circle cx="284.1" cy="371.8" r="7"/><circle cx="268.4" cy="378.9" r="7"/><circle cx="587.5" cy="978.4" r="7"/></g><g fill="#74aad0"><circle cx="739.2" cy="1033.3" r="7"/><circle cx="322.7" cy="377.5" r="7"/><circle cx="334.8" cy="504.5" r="7"/><circle cx="872.3" cy="907.0" r="7"/><circle cx="349.3" cy="486.9" r="7"/><circle cx="309.1" cy="344.2" r="7"/><circle cx="327.9" cy="540.8" r="7"/><circle cx="315.3" cy="426.0" r="7"/><circle cx="918.3" cy="841.8" r="7"/><circle cx="797.8" cy="628.1" r="7"/><circle cx="677.2" cy="1043.0" r="7"/><circle cx="715.5" cy="470.0" r="7"/><circle cx="613.2" cy="966.0" r="7"/></g><g fill="#72a7cf"><circle cx="980.4" cy="795.5" r="7"/><circle cx="354.5" cy="447.8" r="7"/><circle cx="922.2" cy="391.7" r="7"/><circle cx="932.3" cy="333.3" r="7"/><circle cx="359.3" cy="566.4" r="7"/><circle cx="785.4" cy="449.1" r="7"/><circle cx="900.9" cy="436.7" r="7"/><circle cx="643.6" cy="964.9" r="7"/><circle cx="689.3" cy="379.5" r="7"/><circle cx="331.5" cy="491.9" r="7"/><circle cx="1022.5" cy="801.7" r="7"/><circle cx="741.3" cy="1046.6" r="7"/><circle cx="587.5" cy="1080.3" r="7"/><circle cx="1035.9" cy="469.9" r="7"/><circle cx="632.1" cy="977.9" r="7"/><circle cx="725.4" cy="630.9" r="7"/><circle cx="520.5" cy="992.0" r="7"/></g><g fill="#70a4cd"><circle cx="320.7" cy="449.4" r="7"/><circle cx="352.9" cy="409.2" r="7"/><circle cx="299.2" cy="410.8" r="7"/><circle cx="341.4" cy="469.4" r="7"/><circle cx="842.6" cy="428.3" r="7"/><circle cx="844.8" cy="433.0" r="7"/><circle cx="709.5" cy="1027.0" r="7"/><circle cx="983.2" cy="781.3" r="7"/><circle cx="936.7" cy="342.7" r="7"/><circle cx="673.8" cy="990.7" r="7"/></g><g fill="#6da0cb"><circle cx="354.1" cy="414.5" r="7"/><circle cx="326.1" cy="424.4" r="7"/><circle cx="564.1" cy="1047.6" r="7"/><circle cx="596.4" cy="1013.8" r="7"/><circle cx="415.9" cy="421.2" r="7"/><circle cx="311.6" cy="449.1" r="7"/><circle cx="607.9" cy="1052.7" r="7"/><circle cx="388.1" cy="546.3" r="7"/><circle cx="415.7" cy="556.0" r="7"/><circle cx="742.6" cy="692.4" r="7"/><circle cx="613.3" cy="979.9" r="7"/><circle cx="720.4" cy="454.4" r="7"/><circle cx="900.6" cy="934.6" r="7"/></g><g fill="#6b9dca"><circle cx="964.8" cy="866.9" r="7"/><circle cx="649.4" cy="1057.3" r="7"/><circle cx="360.6" cy="580.2" r="7"/><circle cx="357.8" cy="457.6" r="7"/><circle cx="380.8" cy="454.7" r="7"/><circle cx="847.8" cy="437.7" r="7"/><circle cx="681.4" cy="1057.2" r="7"/><circle cx="980.2" cy="421.5" r="7"/></g><g fill="#689ac8"><circle cx="377.9" cy="474.5" r="7"/><circle cx="393.6" cy="785.6" r="7"/><circle cx="743.3" cy="627.2" r="7"/><circle cx="769.8" cy="459.8" r="7"/><circle cx="789.2" cy="464.6" r="7"/><circle cx="683.3" cy="1063.0" r="7"/><circle cx="376.3" cy="518.5" r="7"/><circle cx="360.7" cy="795.5" r="7"/></g><g fill="#6697c7"><circle cx="291.5" cy="440.3" r="7"/><circle cx="369.1" cy="821.3" r="7"/><circle cx="396.9" cy="806.5" r="7"/><circle cx="713.2" cy="458.5" r="7"/><circle cx="353.5" cy="809.7" r="7"/><circle cx="695.0" cy="1035.2" r="7"/><circle cx="715.2" cy="1057.3" r="7"/><circle cx="375.7" cy="510.5" r="7"/><circle cx="692.0" cy="1021.8" r="7"/><circle cx="740.8" cy="487.0" r="7"/></g><g fill="#6494c5"><circle cx="352.4" cy="533.0" r="7"/><circle cx="351.4" cy="819.7" r="7"/><circle cx="698.5" cy="399.1" r="7"/></g><g fill="#6290c0"><circle cx="749.4" cy="542.5" r="7"/><circle cx="603.5" cy="1058.0" r="7"/></g><g fill="#608cba"><circle cx="340.7" cy="809.1" r="7"/></g><g fill="#5c85b0"><circle cx="363.1" cy="819.3" r="7"/></g><g fill="#5a81ab"><circle cx="782.3" cy="495.7" r="7"/></g><g fill="#5e89b5"><circle cx="363.8" cy="821.0" r="7"/><circle cx="416.0" cy="854.0" r="7"/></g><g fill="#6290c0"><circle cx="410.0" cy="840.5" r="7"/><circle cx="382.2" cy="457.2" r="7"/></g><g fill="#6494c5"><circle cx="290.5" cy="445.3" r="7"/><circle cx="790.1" cy="692.8" r="7"/><circle cx="307.0" cy="414.1" r="7"/><circle cx="395.3" cy="812.6" r="7"/></g><g fill="#6697c7"><circle cx="696.7" cy="1041.0" r="7"/><circle cx="334.0" cy="483.3" r="7"/><circle cx="727.9" cy="1033.1" r="7"/></g><g fill="#689ac8"><circle cx="715.9" cy="1026.5" r="7"/><circle cx="328.6" cy="472.5" r="7"/><circle cx="858.8" cy="428.2" r="7"/><circle cx="691.6" cy="1011.5" r="7"/><circle cx="671.7" cy="984.1" r="7"/><circle cx="386.9" cy="813.9" r="7"/></g><g fill="#6b9dca"><circle cx="585.9" cy="980.0" r="7"/><circle cx="387.1" cy="821.3" r="7"/><circle cx="583.9" cy="956.6" r="7"/><circle cx="667.7" cy="1013.4" r="7"/><circle cx="378.9" cy="448.0" r="7"/><circle cx="816.4" cy="610.9" r="7"/><circle cx="672.2" cy="1003.2" r="7"/><circle cx="645.5" cy="1001.1" r="7"/><circle cx="954.5" cy="869.6" r="7"/><circle cx="328.6" cy="506.5" r="7"/><circle cx="693.1" cy="451.1" r="7"/></g><g fill="#6da0cb"><circle cx="332.3" cy="545.1" r="7"/><circle cx="328.5" cy="446.4" r="7"/><circle cx="967.4" cy="887.9" r="7"/><circle cx="677.0" cy="1026.7" r="7"/><circle cx="338.8" cy="532.1" r="7"/><circle cx="652.7" cy="972.4" r="7"/><circle cx="358.4" cy="816.1" r="7"/><circle cx="398.7" cy="826.2" r="7"/><circle cx="326.3" cy="395.8" r="7"/><circle cx="374.0" cy="580.7" r="7"/><circle cx="413.8" cy="790.0" r="7"/></g><g fill="#70a4cd"><circle cx="218.2" cy="379.6" r="7"/><circle cx="568.3" cy="1048.2" r="7"/><circle cx="397.6" cy="430.4" r="7"/><circle cx="304.5" cy="334.6" r="7"/><circle cx="647.6" cy="992.7" r="7"/><circle cx="585.7" cy="1048.8" r="7"/><circle cx="673.8" cy="981.9" r="7"/><circle cx="937.1" cy="924.1" r="7"/><circle cx="392.7" cy="477.3" r="7"/><circle cx="861.3" cy="417.0" r="7"/><circle cx="570.3" cy="1006.5" r="7"/></g><g fill="#72a7cf"><circle cx="632.0" cy="999.8" r="7"/><circle cx="747.7" cy="642.5" r="7"/><circle cx="798.0" cy="477.2" r="7"/><circle cx="361.4" cy="493.2" r="7"/><circle cx="884.8" cy="889.7" r="7"/><circle cx="950.5" cy="846.0" r="7"/><circle cx="326.7" cy="528.4" r="7"/><circle cx="608.1" cy="1067.9" r="7"/><circle cx="647.7" cy="990.3" r="7"/><circle cx="372.1" cy="347.4" r="7"/><circle cx="859.6" cy="865.2" r="7"/><circle cx="539.4" cy="229.2" r="7"/><circle cx="473.4" cy="751.3" r="7"/><circle cx="216.3" cy="398.3" r="7"/></g><g fill="#74aad0"><circle cx="364.6" cy="386.9" r="7"/><circle cx="394.2" cy="489.0" r="7"/><circle cx="321.1" cy="465.7" r="7"/><circle cx="908.2" cy="919.2" r="7"/><circle cx="692.4" cy="1028.3" r="7"/><circle cx="803.3" cy="757.5" r="7"/><circle cx="546.4" cy="982.9" r="7"/><circle cx="379.9" cy="439.9" r="7"/></g><g fill="#77add2"><circle cx="650.6" cy="315.2" r="7"/><circle cx="959.8" cy="843.4" r="7"/><circle cx="948.4" cy="838.2" r="7"/><circle cx="508.8" cy="210.2" r="7"/><circle cx="886.5" cy="926.2" r="7"/><circle cx="1003.4" cy="785.8" r="7"/><circle cx="944.9" cy="916.8" r="7"/><circle cx="775.5" cy="690.9" r="7"/><circle cx="341.6" cy="575.5" r="7"/><circle cx="953.3" cy="830.1" r="7"/><circle cx="370.2" cy="417.7" r="7"/><circle cx="810.9" cy="619.7" r="7"/><circle cx="625.7" cy="958.8" r="7"/><circle cx="1067.4" cy="388.1" r="7"/></g><g fill="#79b0d3"><circle cx="417.5" cy="785.0" r="7"/><circle cx="688.1" cy="1019.3" r="7"/><circle cx="542.4" cy="993.9" r="7"/><circle cx="482.9" cy="221.5" r="7"/><circle cx="725.3" cy="628.6" r="7"/><circle cx="439.1" cy="236.7" r="7"/><circle cx="593.7" cy="982.6" r="7"/><circle cx="867.9" cy="827.5" r="7"/><circle cx="647.0" cy="508.8" r="7"/><circle cx="283.1" cy="297.2" r="7"/><circle cx="655.4" cy="1013.3" r="7"/><circle cx="328.2" cy="492.0" r="7"/><circle cx="299.0" cy="417.8" r="7"/><circle cx="375.8" cy="490.0" r="7"/><circle cx="1103.1" cy="501.2" r="7"/><circle cx="988.0" cy="455.3" r="7"/><circle cx="970.4" cy="819.5" r="7"/><circle cx="542.0" cy="990.8" r="7"/></g><g fill="#7bb3d5"><circle cx="225.8" cy="392.6" r="7"/><circle cx="510.0" cy="365.2" r="7"/><circle cx="341.6" cy="518.4" r="7"/><circle cx="609.9" cy="418.2" r="7"/><circle cx="524.0" cy="1003.1" r="7"/><circle cx="883.5" cy="907.9" r="7"/><circle cx="811.2" cy="718.3" r="7"/><circle cx="626.8" cy="1070.8" r="7"/><circle cx="459.3" cy="366.1" r="7"/><circle cx="896.9" cy="863.0" r="7"/><circle cx="643.3" cy="221.9" r="7"/><circle cx="930.2" cy="813.9" r="7"/><circle cx="971.4" cy="319.9" r="7"/><circle cx="753.3" cy="728.2" r="7"/><circle cx="517.5" cy="886.7" r="7"/><circle cx="574.9" cy="1021.4" r="7"/><circle cx="363.0" cy="491.5" r="7"/><circle cx="579.6" cy="987.1" r="7"/><circle cx="404.6" cy="282.4" r="7"/><circle cx="1011.2" cy="434.5" r="7"/><circle cx="808.6" cy="332.6" r="7"/><circle cx="869.0" cy="902.0" r="7"/></g><g fill="#81b7d7"><circle cx="685.1" cy="302.9" r="7"/><circle cx="908.1" cy="782.6" r="7"/><circle cx="770.7" cy="319.0" r="7"/><circle cx="616.1" cy="545.8" r="7"/><circle cx="660.1" cy="329.0" r="7"/><circle cx="564.3" cy="930.9" r="7"/><circle cx="375.7" cy="555.2" r="7"/><circle cx="977.5" cy="790.0" r="7"/><circle cx="388.3" cy="304.2" r="7"/><circle cx="565.1" cy="965.4" r="7"/><circle cx="1022.5" cy="819.7" r="7"/><circle cx="348.9" cy="520.6" r="7"/><circle cx="910.7" cy="911.9" r="7"/><circle cx="801.5" cy="291.5" r="7"/><circle cx="423.6" cy="402.2" r="7"/><circle cx="866.9" cy="864.3" r="7"/><circle cx="991.6" cy="444.0" r="7"/><circle cx="527.4" cy="213.3" r="7"/><circle cx="663.3" cy="326.6" r="7"/><circle cx="543.5" cy="226.5" r="7"/><circle cx="608.3" cy="979.4" r="7"/><circle cx="486.9" cy="370.8" r="7"/><circle cx="274.3" cy="377.0" r="7"/></g><g fill="#86bad9"><circle cx="426.5" cy="379.8" r="7"/><circle cx="622.5" cy="319.3" r="7"/><circle cx="343.7" cy="344.2" r="7"/><circle cx="1031.6" cy="349.6" r="7"/><circle cx="769.7" cy="310.6" r="7"/><circle cx="371.6" cy="370.5" r="7"/><circle cx="604.0" cy="941.0" r="7"/><circle cx="825.6" cy="965.0" r="7"/><circle cx="980.9" cy="811.2" r="7"/><circle cx="836.9" cy="841.4" r="7"/><circle cx="434.0" cy="226.8" r="7"/><circle cx="312.1" cy="402.6" r="7"/><circle cx="368.1" cy="308.7" r="7"/><circle cx="884.1" cy="903.0" r="7"/><circle cx="793.7" cy="631.2" r="7"/><circle cx="987.3" cy="826.7" r="7"/><circle cx="291.8" cy="367.0" r="7"/><circle cx="942.3" cy="838.1" r="7"/><circle cx="875.4" cy="634.3" r="7"/><circle cx="596.9" cy="974.9" r="7"/><circle cx="619.9" cy="945.0" r="7"/><circle cx="381.7" cy="349.4" r="7"/></g><g fill="#8cbedb"><circle cx="619.2" cy="925.3" r="7"/><circle cx="406.4" cy="359.3" r="7"/><circle cx="213.1" cy="441.8" r="7"/><circle cx="428.9" cy="237.5" r="7"/><circle cx="616.4" cy="550.9" r="7"/><circle cx="527.3" cy="223.2" r="7"/><circle cx="540.1" cy="433.9" r="7"/><circle cx="401.1" cy="261.5" r="7"/><circle cx="860.5" cy="847.1" r="7"/><circle cx="487.0" cy="256.8" r="7"/><circle cx="818.3" cy="974.9" r="7"/><circle cx="676.3" cy="212.7" r="7"/><circle cx="719.9" cy="305.5" r="7"/><circle cx="440.1" cy="371.1" r="7"/><circle cx="339.2" cy="338.2" r="7"/><circle cx="539.8" cy="990.2" r="7"/><circle cx="682.6" cy="282.1" r="7"/></g><g fill="#92c1dd"><circle cx="618.1" cy="243.9" r="7"/><circle cx="450.2" cy="427.8" r="7"/><circle cx="421.7" cy="291.7" r="7"/><circle cx="489.0" cy="239.6" r="7"/><circle cx="810.9" cy="725.1" r="7"/><circle cx="314.1" cy="377.8" r="7"/><circle cx="798.2" cy="972.4" r="7"/><circle cx="701.5" cy="1002.9" r="7"/><circle cx="613.0" cy="542.9" r="7"/><circle cx="259.1" cy="408.3" r="7"/><circle cx="889.1" cy="837.3" r="7"/><circle cx="773.4" cy="748.3" r="7"/></g><g fill="#97c5de"><circle cx="1022.1" cy="482.9" r="7"/><circle cx="521.9" cy="919.6" r="7"/><circle cx="634.4" cy="450.5" r="7"/><circle cx="831.4" cy="825.9" r="7"/><circle cx="602.8" cy="1033.6" r="7"/><circle cx="317.7" cy="291.0" r="7"/><circle cx="477.7" cy="340.2" r="7"/><circle cx="538.9" cy="302.0" r="7"/><circle cx="799.3" cy="916.1" r="7"/><circle cx="486.5" cy="740.6" r="7"/><circle cx="991.5" cy="328.0" r="7"/><circle cx="562.2" cy="460.1" r="7"/><circle cx="643.1" cy="295.2" r="7"/><circle cx="828.2" cy="961.8" r="7"/><circle cx="274.3" cy="359.9" r="7"/><circle cx="863.3" cy="796.6" r="7"/><circle cx="534.3" cy="322.2" r="7"/><circle cx="633.0" cy="259.2" r="7"/><circle cx="498.1" cy="235.8" r="7"/><circle cx="440.8" cy="240.5" r="7"/><circle cx="876.5" cy="657.0" r="7"/><circle cx="733.1" cy="639.8" r="7"/><circle cx="838.9" cy="899.1" r="7"/><circle cx="828.1" cy="334.9" r="7"/><circle cx="763.0" cy="734.6" r="7"/><circle cx="546.4" cy="572.4" r="7"/></g><g fill="#9dc8e0"><circle cx="554.2" cy="554.1" r="7"/><circle cx="580.5" cy="927.3" r="7"/><circle cx="602.5" cy="501.6" r="7"/><circle cx="604.7" cy="551.2" r="7"/><circle cx="717.6" cy="707.5" r="7"/><circle cx="464.4" cy="251.1" r="7"/><circle cx="577.1" cy="946.6" r="7"/><circle cx="804.3" cy="859.9" r="7"/><circle cx="1007.6" cy="297.9" r="7"/><circle cx="617.0" cy="214.2" r="7"/><circle cx="345.2" cy="255.1" r="7"/><circle cx="553.5" cy="988.2" r="7"/><circle cx="838.6" cy="865.0" r="7"/><circle cx="764.2" cy="661.1" r="7"/><circle cx="379.1" cy="763.7" r="7"/><circle cx="804.4" cy="317.1" r="7"/></g><g fill="#a2cce2"><circle cx="454.8" cy="256.3" r="7"/><circle cx="418.3" cy="285.8" r="7"/><circle cx="507.0" cy="307.8" r="7"/><circle cx="220.5" cy="430.4" r="7"/><circle cx="709.3" cy="308.4" r="7"/><circle cx="454.4" cy="283.6" r="7"/><circle cx="515.4" cy="760.7" r="7"/><circle cx="816.4" cy="921.0" r="7"/><circle cx="690.1" cy="318.9" r="7"/><circle cx="825.6" cy="327.6" r="7"/><circle cx="659.7" cy="270.4" r="7"/><circle cx="553.5" cy="975.3" r="7"/><circle cx="457.5" cy="240.1" r="7"/><circle cx="811.8" cy="936.9" r="7"/><circle cx="545.0" cy="796.7" r="7"/><circle cx="529.9" cy="756.2" r="7"/><circle cx="387.3" cy="735.6" r="7"/><circle cx="792.3" cy="738.8" r="7"/><circle cx="969.8" cy="414.9" r="7"/><circle cx="652.0" cy="227.8" r="7"/><circle cx="494.8" cy="256.7" r="7"/></g><g fill="#a8cfe4"><circle cx="527.1" cy="782.8" r="7"/><circle cx="765.0" cy="626.1" r="7"/><circle cx="739.6" cy="265.7" r="7"/><circle cx="433.6" cy="377.9" r="7"/><circle cx="1090.8" cy="479.8" r="7"/><circle cx="1076.5" cy="493.6" r="7"/><circle cx="536.6" cy="334.8" r="7"/><circle cx="406.1" cy="304.1" r="7"/><circle cx="312.1" cy="280.9" r="7"/><circle cx="458.3" cy="708.5" r="7"/><circle cx="351.6" cy="255.2" r="7"/><circle cx="1099.3" cy="514.3" r="7"/><circle cx="597.7" cy="471.0" r="7"/></g><g fill="#add3e6"><circle cx="642.1" cy="255.4" r="7"/><circle cx="371.9" cy="751.9" r="7"/><circle cx="403.8" cy="250.7" r="7"/><circle cx="431.0" cy="286.6" r="7"/><circle cx="860.5" cy="392.8" r="7"/><circle cx="849.7" cy="876.1" r="7"/><circle cx="624.4" cy="513.0" r="7"/><circle cx="645.7" cy="293.5" r="7"/><circle cx="915.3" cy="665.7" r="7"/><circle cx="474.8" cy="711.1" r="7"/><circle cx="1083.6" cy="499.5" r="7"/><circle cx="510.1" cy="277.3" r="7"/></g><g fill="#b3d6e8"><circle cx="577.4" cy="236.5" r="7"/><circle cx="523.9" cy="285.2" r="7"/><circle cx="420.9" cy="304.9" r="7"/><circle cx="886.6" cy="412.1" r="7"/><circle cx="605.1" cy="886.1" r="7"/><circle cx="687.4" cy="702.2" r="7"/><circle cx="1027.7" cy="303.3" r="7"/><circle cx="502.1" cy="312.1" r="7"/><circle cx="612.8" cy="566.6" r="7"/><circle cx="424.9" cy="229.9" r="7"/><circle cx="942.2" cy="580.4" r="7"/><circle cx="653.2" cy="281.1" r="7"/><circle cx="781.9" cy="434.6" r="7"/><circle cx="1027.9" cy="313.6" r="7"/><circle cx="685.2" cy="699.3" r="7"/><circle cx="711.8" cy="439.1" r="7"/><circle cx="895.8" cy="921.6" r="7"/><circle cx="675.0" cy="1063.6" r="7"/><circle cx="700.4" cy="739.2" r="7"/><circle cx="859.9" cy="499.5" r="7"/></g><g fill="#b7d9e9"><circle cx="590.4" cy="254.6" r="7"/><circle cx="578.8" cy="479.0" r="7"/><circle cx="728.4" cy="433.8" r="7"/><circle cx="343.8" cy="465.5" r="7"/><circle cx="632.7" cy="990.6" r="7"/><circle cx="515.0" cy="306.3" r="7"/><circle cx="615.3" cy="436.8" r="7"/><circle cx="506.8" cy="304.4" r="7"/><circle cx="562.8" cy="536.9" r="7"/><circle cx="756.6" cy="422.7" r="7"/><circle cx="375.5" cy="738.8" r="7"/><circle cx="744.1" cy="278.9" r="7"/><circle cx="563.2" cy="453.9" r="7"/></g><g fill="#bcdbea"><circle cx="737.9" cy="431.7" r="7"/><circle cx="395.0" cy="758.9" r="7"/><circle cx="501.2" cy="354.6" r="7"/><circle cx="721.9" cy="426.8" r="7"/><circle cx="907.3" cy="497.7" r="7"/><circle cx="596.8" cy="451.9" r="7"/><circle cx="874.4" cy="598.4" r="7"/><circle cx="489.9" cy="300.2" r="7"/><circle cx="734.6" cy="754.8" r="7"/></g><g fill="#c0ddec"><circle cx="619.5" cy="1004.5" r="7"/><circle cx="594.5" cy="473.1" r="7"/><circle cx="877.9" cy="366.2" r="7"/><circle cx="787.8" cy="723.0" r="7"/><circle cx="651.0" cy="302.8" r="7"/><circle cx="538.8" cy="551.9" r="7"/><circle cx="661.4" cy="870.4" r="7"/><circle cx="467.2" cy="293.7" r="7"/><circle cx="442.6" cy="337.2" r="7"/><circle cx="582.5" cy="295.0" r="7"/></g><g fill="#c4dfed"><circle cx="710.1" cy="748.8" r="7"/><circle cx="676.1" cy="662.9" r="7"/><circle cx="346.8" cy="251.1" r="7"/><circle cx="871.2" cy="538.4" r="7"/><circle cx="731.3" cy="847.7" r="7"/><circle cx="758.5" cy="844.7" r="7"/><circle cx="682.7" cy="812.6" r="7"/></g><g fill="#c9e2ee"><circle cx="561.5" cy="905.1" r="7"/><circle cx="919.7" cy="500.5" r="7"/><circle cx="598.0" cy="863.3" r="7"/><circle cx="556.3" cy="561.9" r="7"/><circle cx="804.3" cy="743.3" r="7"/></g><g fill="#cde4ef"><circle cx="545.1" cy="282.4" r="7"/><circle cx="557.2" cy="849.2" r="7"/><circle cx="545.8" cy="522.0" r="7"/><circle cx="873.6" cy="398.2" r="7"/><circle cx="778.3" cy="806.5" r="7"/><circle cx="528.9" cy="486.9" r="7"/><circle cx="554.3" cy="821.3" r="7"/><circle cx="891.9" cy="395.1" r="7"/></g><g fill="#d2e6f1"><circle cx="692.3" cy="885.2" r="7"/></g><g fill="#d6e8f2"><circle cx="680.7" cy="691.7" r="7"/><circle cx="870.0" cy="544.2" r="7"/><circle cx="535.5" cy="868.8" r="7"/><circle cx="929.5" cy="636.3" r="7"/><circle cx="877.7" cy="485.6" r="7"/><circle cx="539.7" cy="545.6" r="7"/><circle cx="595.1" cy="745.2" r="7"/><circle cx="620.5" cy="802.8" r="7"/></g><g fill="#daebf3"><circle cx="949.9" cy="667.9" r="7"/><circle cx="711.5" cy="802.8" r="7"/><circle cx="868.2" cy="525.3" r="7"/></g><g fill="#dfedf4"><circle cx="564.0" cy="825.8" r="7"/><circle cx="716.2" cy="800.8" r="7"/><circle cx="573.6" cy="799.2" r="7"/><circle cx="582.8" cy="305.8" r="7"/><circle cx="889.0" cy="501.4" r="7"/></g><g fill="#e1eef5"><circle cx="581.1" cy="481.3" r="7"/><circle cx="577.0" cy="837.7" r="7"/><circle cx="744.5" cy="858.8" r="7"/><circle cx="723.9" cy="807.5" r="7"/><circle cx="578.8" cy="770.9" r="7"/><circle cx="923.0" cy="666.3" r="7"/></g><g fill="#e4eff5"><circle cx="696.4" cy="853.3" r="7"/><circle cx="597.3" cy="761.5" r="7"/></g><g fill="#e7f1f6"><circle cx="897.0" cy="591.2" r="7"/><circle cx="546.2" cy="865.5" r="7"/><circle cx="726.4" cy="832.0" r="7"/><circle cx="546.6" cy="876.7" r="7"/></g><g fill="#e9f2f6"><circle cx="662.3" cy="758.9" r="7"/><circle cx="672.6" cy="749.9" r="7"/><circle cx="609.1" cy="796.7" r="7"/><circle cx="654.6" cy="819.7" r="7"/><circle cx="761.5" cy="750.0" r="7"/><circle cx="562.1" cy="518.2" r="7"/></g><g fill="#ecf3f7"><circle cx="948.7" cy="646.7" r="7"/><circle cx="591.4" cy="793.5" r="7"/><circle cx="611.9" cy="800.6" r="7"/><circle cx="637.6" cy="737.6" r="7"/></g><g fill="#f1f6f8"><circle cx="666.5" cy="745.8" r="7"/><circle cx="725.8" cy="784.7" r="7"/><circle cx="600.2" cy="753.2" r="7"/></g><g fill="#f9f9f9"><circle cx="569.1" cy="820.1" r="7"/><circle cx="641.3" cy="764.0" r="7"/></g><g fill="#faf7f6"><circle cx="657.4" cy="837.9" r="7"/></g><g fill="#fcece2"><circle cx="616.9" cy="759.2" r="7"/></g><g fill="#fbf2ec"><circle cx="608.8" cy="756.6" r="7"/><circle cx="607.8" cy="787.3" r="7"/></g><g fill="#fbf4ef"><circle cx="649.7" cy="722.6" r="7"/><circle cx="642.1" cy="692.1" r="7"/></g><g fill="#faf7f6"><circle cx="620.9" cy="805.8" r="7"/></g><g fill="#f7f8f9"><circle cx="645.9" cy="774.9" r="7"/><circle cx="737.0" cy="785.1" r="7"/></g><g fill="#f4f7f8"><circle cx="605.6" cy="814.6" r="7"/><circle cx="522.4" cy="516.4" r="7"/></g><g fill="#f1f6f8"><circle cx="603.1" cy="749.7" r="7"/></g><g fill="#eff4f7"><circle cx="734.5" cy="738.5" r="7"/><circle cx="648.6" cy="746.9" r="7"/><circle cx="621.5" cy="717.9" r="7"/><circle cx="598.5" cy="714.6" r="7"/></g><g fill="#e9f2f6"><circle cx="527.6" cy="289.2" r="7"/><circle cx="557.5" cy="500.8" r="7"/><circle cx="514.4" cy="285.5" r="7"/><circle cx="616.7" cy="708.3" r="7"/></g><g fill="#e7f1f6"><circle cx="706.4" cy="833.2" r="7"/><circle cx="702.2" cy="721.7" r="7"/><circle cx="639.3" cy="869.4" r="7"/></g><g fill="#e4eff5"><circle cx="622.5" cy="746.6" r="7"/><circle cx="679.4" cy="818.6" r="7"/><circle cx="722.0" cy="849.0" r="7"/></g><g fill="#e1eef5"><circle cx="969.8" cy="488.8" r="7"/><circle cx="663.4" cy="818.4" r="7"/><circle cx="654.0" cy="848.0" r="7"/><circle cx="633.1" cy="787.1" r="7"/></g><g fill="#dfedf4"><circle cx="685.4" cy="871.9" r="7"/><circle cx="688.1" cy="734.7" r="7"/><circle cx="799.1" cy="446.6" r="7"/><circle cx="614.4" cy="280.7" r="7"/><circle cx="430.7" cy="727.4" r="7"/><circle cx="688.2" cy="759.7" r="7"/></g><g fill="#daebf3"><circle cx="621.2" cy="813.5" r="7"/><circle cx="979.6" cy="644.9" r="7"/><circle cx="676.0" cy="793.3" r="7"/><circle cx="751.2" cy="849.4" r="7"/><circle cx="972.8" cy="413.6" r="7"/></g><g fill="#d6e8f2"><circle cx="783.4" cy="788.6" r="7"/><circle cx="707.3" cy="825.0" r="7"/><circle cx="599.3" cy="853.6" r="7"/><circle cx="573.0" cy="784.3" r="7"/><circle cx="712.2" cy="847.1" r="7"/></g><g fill="#d2e6f1"><circle cx="542.3" cy="522.9" r="7"/><circle cx="748.1" cy="279.9" r="7"/><circle cx="787.8" cy="907.9" r="7"/><circle cx="654.8" cy="756.5" r="7"/><circle cx="583.8" cy="535.6" r="7"/><circle cx="520.0" cy="295.3" r="7"/><circle cx="539.6" cy="473.5" r="7"/><circle cx="778.7" cy="299.1" r="7"/><circle cx="717.9" cy="832.5" r="7"/><circle cx="377.5" cy="738.5" r="7"/><circle cx="561.5" cy="515.7" r="7"/></g><g fill="#cde4ef"><circle cx="743.2" cy="832.5" r="7"/><circle cx="720.1" cy="234.5" r="7"/><circle cx="555.3" cy="890.2" r="7"/><circle cx="683.2" cy="730.6" r="7"/><circle cx="578.3" cy="849.8" r="7"/><circle cx="876.1" cy="403.1" r="7"/></g><g fill="#c9e2ee"><circle cx="713.8" cy="763.8" r="7"/><circle cx="672.1" cy="792.3" r="7"/><circle cx="931.3" cy="500.1" r="7"/><circle cx="1016.3" cy="483.6" r="7"/><circle cx="524.9" cy="554.9" r="7"/><circle cx="534.5" cy="766.5" r="7"/><circle cx="878.7" cy="403.1" r="7"/></g><g fill="#c4dfed"><circle cx="895.1" cy="525.6" r="7"/><circle cx="535.9" cy="495.5" r="7"/><circle cx="927.5" cy="516.6" r="7"/><circle cx="723.8" cy="266.4" r="7"/><circle cx="775.7" cy="828.2" r="7"/><circle cx="601.3" cy="867.3" r="7"/><circle cx="570.9" cy="753.4" r="7"/></g><g fill="#c0ddec"><circle cx="461.5" cy="247.3" r="7"/><circle cx="610.7" cy="786.1" r="7"/><circle cx="555.8" cy="887.8" r="7"/><circle cx="733.9" cy="748.5" r="7"/><circle cx="1024.1" cy="809.4" r="7"/><circle cx="630.6" cy="808.6" r="7"/><circle cx="555.4" cy="304.7" r="7"/><circle cx="362.8" cy="296.5" r="7"/><circle cx="696.1" cy="730.3" r="7"/></g><g fill="#bcdbea"><circle cx="823.5" cy="329.2" r="7"/><circle cx="615.0" cy="509.9" r="7"/><circle cx="788.2" cy="915.5" r="7"/><circle cx="791.3" cy="442.4" r="7"/><circle cx="468.8" cy="710.2" r="7"/><circle cx="579.6" cy="497.5" r="7"/><circle cx="443.6" cy="284.7" r="7"/><circle cx="573.5" cy="276.5" r="7"/><circle cx="843.4" cy="504.6" r="7"/><circle cx="736.5" cy="300.2" r="7"/><circle cx="375.7" cy="305.9" r="7"/><circle cx="865.8" cy="852.0" r="7"/></g><g fill="#b7d9e9"><circle cx="418.9" cy="330.3" r="7"/><circle cx="527.6" cy="470.4" r="7"/><circle cx="781.2" cy="419.6" r="7"/><circle cx="476.5" cy="276.4" r="7"/><circle cx="532.1" cy="486.7" r="7"/><circle cx="898.7" cy="628.7" r="7"/><circle cx="928.4" cy="427.3" r="7"/></g><g fill="#b3d6e8"><circle cx="669.9" cy="257.8" r="7"/><circle cx="550.9" cy="922.0" r="7"/><circle cx="1074.1" cy="476.6" r="7"/><circle cx="903.9" cy="835.2" r="7"/><circle cx="497.8" cy="275.8" r="7"/><circle cx="956.3" cy="580.1" r="7"/><circle cx="565.3" cy="464.7" r="7"/><circle cx="684.9" cy="685.9" r="7"/><circle cx="565.6" cy="301.1" r="7"/><circle cx="547.8" cy="785.5" r="7"/></g><g fill="#add3e6"><circle cx="770.3" cy="859.4" r="7"/><circle cx="968.4" cy="438.5" r="7"/><circle cx="778.2" cy="315.4" r="7"/><circle cx="545.1" cy="528.5" r="7"/><circle cx="783.3" cy="423.0" r="7"/><circle cx="472.7" cy="273.3" r="7"/><circle cx="613.8" cy="883.6" r="7"/><circle cx="795.3" cy="420.8" r="7"/><circle cx="622.4" cy="457.0" r="7"/><circle cx="414.3" cy="301.6" r="7"/><circle cx="945.7" cy="439.2" r="7"/><circle cx="510.0" cy="313.6" r="7"/><circle cx="790.6" cy="716.4" r="7"/><circle cx="597.9" cy="262.1" r="7"/><circle cx="560.9" cy="295.1" r="7"/><circle cx="914.6" cy="892.7" r="7"/><circle cx="461.6" cy="707.3" r="7"/><circle cx="877.1" cy="516.3" r="7"/><circle cx="596.8" cy="529.9" r="7"/><circle cx="861.2" cy="514.0" r="7"/></g><g fill="#a8cfe4"><circle cx="679.0" cy="233.6" r="7"/><circle cx="880.4" cy="807.5" r="7"/><circle cx="718.9" cy="763.0" r="7"/><circle cx="793.3" cy="289.1" r="7"/><circle cx="601.6" cy="280.2" r="7"/><circle cx="922.6" cy="681.7" r="7"/><circle cx="917.5" cy="409.5" r="7"/><circle cx="307.3" cy="303.1" r="7"/><circle cx="736.6" cy="283.5" r="7"/><circle cx="512.7" cy="910.3" r="7"/><circle cx="775.6" cy="846.2" r="7"/><circle cx="443.0" cy="286.7" r="7"/><circle cx="930.0" cy="299.2" r="7"/><circle cx="685.0" cy="708.9" r="7"/><circle cx="676.6" cy="291.9" r="7"/></g><g fill="#a2cce2"><circle cx="904.3" cy="655.4" r="7"/><circle cx="598.8" cy="483.8" r="7"/><circle cx="326.1" cy="299.2" r="7"/><circle cx="751.7" cy="289.7" r="7"/><circle cx="754.4" cy="708.1" r="7"/><circle cx="1031.0" cy="314.3" r="7"/><circle cx="1055.7" cy="437.3" r="7"/><circle cx="705.8" cy="460.2" r="7"/><circle cx="877.2" cy="662.4" r="7"/><circle cx="383.6" cy="264.0" r="7"/><circle cx="815.5" cy="299.9" r="7"/><circle cx="750.2" cy="295.0" r="7"/><circle cx="839.5" cy="917.9" r="7"/><circle cx="489.4" cy="261.7" r="7"/></g><g fill="#9dc8e0"><circle cx="811.5" cy="705.0" r="7"/><circle cx="923.1" cy="672.3" r="7"/><circle cx="514.9" cy="316.8" r="7"/><circle cx="539.1" cy="321.0" r="7"/><circle cx="498.5" cy="409.7" r="7"/><circle cx="824.5" cy="335.1" r="7"/><circle cx="481.4" cy="359.7" r="7"/><circle cx="432.3" cy="300.6" r="7"/><circle cx="410.2" cy="357.6" r="7"/><circle cx="812.1" cy="932.6" r="7"/><circle cx="659.0" cy="303.0" r="7"/><circle cx="1034.6" cy="495.2" r="7"/><circle cx="582.6" cy="921.4" r="7"/><circle cx="1044.2" cy="293.9" r="7"/><circle cx="540.9" cy="796.9" r="7"/><circle cx="825.6" cy="824.7" r="7"/><circle cx="722.9" cy="659.0" r="7"/><circle cx="800.6" cy="805.5" r="7"/><circle cx="712.6" cy="348.8" r="7"/><circle cx="499.0" cy="255.4" r="7"/></g><g fill="#97c5de"><circle cx="624.0" cy="270.6" r="7"/><circle cx="1041.6" cy="463.1" r="7"/><circle cx="899.7" cy="903.5" r="7"/><circle cx="621.8" cy="315.3" r="7"/><circle cx="709.5" cy="274.1" r="7"/><circle cx="701.4" cy="1045.1" r="7"/><circle cx="623.4" cy="298.9" r="7"/><circle cx="816.8" cy="853.2" r="7"/><circle cx="214.2" cy="357.9" r="7"/><circle cx="493.8" cy="246.7" r="7"/><circle cx="934.6" cy="790.5" r="7"/><circle cx="374.5" cy="278.9" r="7"/><circle cx="892.5" cy="667.4" r="7"/><circle cx="534.6" cy="901.4" r="7"/><circle cx="840.0" cy="944.3" r="7"/><circle cx="357.5" cy="319.9" r="7"/></g><g fill="#92c1dd"><circle cx="712.2" cy="275.6" r="7"/><circle cx="682.6" cy="352.8" r="7"/><circle cx="380.5" cy="761.9" r="7"/><circle cx="828.4" cy="823.9" r="7"/><circle cx="407.7" cy="332.3" r="7"/><circle cx="377.7" cy="277.3" r="7"/><circle cx="1006.2" cy="476.2" r="7"/><circle cx="664.2" cy="266.2" r="7"/><circle cx="626.5" cy="230.5" r="7"/><circle cx="792.7" cy="726.2" r="7"/><circle cx="479.5" cy="313.0" r="7"/><circle cx="794.6" cy="321.0" r="7"/><circle cx="730.7" cy="725.0" r="7"/><circle cx="506.0" cy="317.2" r="7"/><circle cx="391.3" cy="306.6" r="7"/></g><g fill="#8cbedb"><circle cx="747.1" cy="286.4" r="7"/><circle cx="466.7" cy="430.7" r="7"/><circle cx="958.3" cy="810.3" r="7"/><circle cx="899.6" cy="852.8" r="7"/><circle cx="449.5" cy="367.5" r="7"/><circle cx="842.5" cy="536.9" r="7"/><circle cx="821.7" cy="950.3" r="7"/><circle cx="519.8" cy="199.2" r="7"/><circle cx="1113.4" cy="497.4" r="7"/><circle cx="1037.2" cy="291.1" r="7"/><circle cx="677.0" cy="309.2" r="7"/><circle cx="545.8" cy="1046.8" r="7"/><circle cx="906.0" cy="787.7" r="7"/><circle cx="395.4" cy="297.3" r="7"/><circle cx="422.6" cy="259.0" r="7"/><circle cx="595.5" cy="926.5" r="7"/><circle cx="839.1" cy="851.7" r="7"/><circle cx="712.5" cy="378.8" r="7"/><circle cx="881.7" cy="907.8" r="7"/><circle cx="404.1" cy="530.8" r="7"/><circle cx="319.5" cy="355.7" r="7"/></g><g fill="#86bad9"><circle cx="900.4" cy="818.7" r="7"/><circle cx="792.4" cy="778.8" r="7"/><circle cx="499.7" cy="692.6" r="7"/><circle cx="532.6" cy="926.2" r="7"/><circle cx="285.6" cy="307.4" r="7"/><circle cx="804.2" cy="968.9" r="7"/><circle cx="370.6" cy="572.9" r="7"/><circle cx="382.6" cy="428.3" r="7"/><circle cx="930.3" cy="853.1" r="7"/><circle cx="887.4" cy="844.5" r="7"/><circle cx="757.5" cy="734.5" r="7"/><circle cx="330.3" cy="317.1" r="7"/><circle cx="380.5" cy="432.4" r="7"/><circle cx="404.1" cy="271.2" r="7"/><circle cx="850.2" cy="830.5" r="7"/><circle cx="782.5" cy="640.8" r="7"/><circle cx="805.3" cy="631.0" r="7"/><circle cx="557.4" cy="953.5" r="7"/><circle cx="899.5" cy="678.0" r="7"/></g><g fill="#81b7d7"><circle cx="831.1" cy="809.7" r="7"/><circle cx="455.8" cy="230.1" r="7"/><circle cx="782.8" cy="317.3" r="7"/><circle cx="846.7" cy="867.3" r="7"/><circle cx="668.1" cy="328.0" r="7"/><circle cx="961.5" cy="302.6" r="7"/><circle cx="304.5" cy="409.9" r="7"/><circle cx="884.4" cy="652.6" r="7"/><circle cx="403.4" cy="402.2" r="7"/><circle cx="600.4" cy="990.1" r="7"/><circle cx="623.9" cy="909.3" r="7"/><circle cx="227.9" cy="415.3" r="7"/><circle cx="757.6" cy="253.5" r="7"/><circle cx="252.0" cy="338.1" r="7"/><circle cx="532.5" cy="203.5" r="7"/><circle cx="743.4" cy="260.7" r="7"/><circle cx="385.0" cy="422.0" r="7"/><circle cx="1083.2" cy="485.2" r="7"/><circle cx="527.3" cy="964.4" r="7"/><circle cx="770.9" cy="266.6" r="7"/><circle cx="471.4" cy="235.2" r="7"/><circle cx="374.9" cy="318.8" r="7"/></g><g fill="#7bb3d5"><circle cx="345.0" cy="524.0" r="7"/><circle cx="1016.2" cy="794.6" r="7"/><circle cx="323.9" cy="494.7" r="7"/><circle cx="945.0" cy="826.7" r="7"/><circle cx="834.8" cy="936.2" r="7"/><circle cx="906.7" cy="314.3" r="7"/><circle cx="763.0" cy="887.9" r="7"/><circle cx="447.3" cy="378.3" r="7"/><circle cx="450.1" cy="234.9" r="7"/><circle cx="641.3" cy="949.9" r="7"/><circle cx="1040.8" cy="452.4" r="7"/><circle cx="911.2" cy="931.1" r="7"/><circle cx="949.7" cy="832.5" r="7"/><circle cx="534.1" cy="1037.9" r="7"/><circle cx="836.5" cy="848.7" r="7"/><circle cx="907.7" cy="889.7" r="7"/><circle cx="609.1" cy="1016.9" r="7"/><circle cx="1107.9" cy="482.7" r="7"/><circle cx="445.6" cy="381.2" r="7"/><circle cx="523.1" cy="983.9" r="7"/><circle cx="423.6" cy="760.0" r="7"/></g><g fill="#79b0d3"><circle cx="969.9" cy="801.1" r="7"/><circle cx="963.5" cy="437.4" r="7"/><circle cx="522.0" cy="1012.4" r="7"/><circle cx="859.0" cy="825.2" r="7"/><circle cx="410.1" cy="403.7" r="7"/><circle cx="477.2" cy="355.7" r="7"/><circle cx="586.9" cy="1044.7" r="7"/><circle cx="542.0" cy="961.7" r="7"/><circle cx="537.0" cy="405.2" r="7"/><circle cx="659.4" cy="462.3" r="7"/><circle cx="864.9" cy="935.7" r="7"/><circle cx="502.9" cy="221.0" r="7"/><circle cx="912.3" cy="870.0" r="7"/></g><g fill="#77add2"><circle cx="583.6" cy="1000.6" r="7"/><circle cx="610.2" cy="987.8" r="7"/><circle cx="799.3" cy="967.0" r="7"/><circle cx="1021.8" cy="823.0" r="7"/><circle cx="922.6" cy="876.3" r="7"/><circle cx="510.2" cy="749.1" r="7"/><circle cx="711.0" cy="269.0" r="7"/><circle cx="822.4" cy="874.1" r="7"/><circle cx="956.5" cy="829.3" r="7"/><circle cx="396.6" cy="551.1" r="7"/><circle cx="342.9" cy="804.9" r="7"/><circle cx="918.8" cy="389.1" r="7"/><circle cx="341.1" cy="325.8" r="7"/><circle cx="323.0" cy="346.2" r="7"/></g><g fill="#74aad0"><circle cx="369.4" cy="532.5" r="7"/><circle cx="671.0" cy="365.2" r="7"/><circle cx="784.5" cy="699.8" r="7"/><circle cx="624.5" cy="1040.5" r="7"/><circle cx="985.1" cy="453.6" r="7"/><circle cx="422.3" cy="764.4" r="7"/><circle cx="654.5" cy="496.5" r="7"/><circle cx="550.8" cy="1026.7" r="7"/><circle cx="998.9" cy="806.0" r="7"/><circle cx="886.7" cy="953.2" r="7"/><circle cx="993.2" cy="467.7" r="7"/><circle cx="363.3" cy="512.4" r="7"/><circle cx="703.0" cy="1066.2" r="7"/><circle cx="495.9" cy="222.4" r="7"/><circle cx="372.5" cy="400.7" r="7"/><circle cx="941.4" cy="889.6" r="7"/><circle cx="320.2" cy="311.8" r="7"/><circle cx="989.9" cy="460.3" r="7"/><circle cx="630.6" cy="1034.7" r="7"/><circle cx="1035.2" cy="463.8" r="7"/></g><g fill="#72a7cf"><circle cx="529.4" cy="964.0" r="7"/><circle cx="640.2" cy="1034.8" r="7"/><circle cx="333.0" cy="813.5" r="7"/><circle cx="391.5" cy="486.8" r="7"/><circle cx="340.4" cy="495.6" r="7"/><circle cx="356.8" cy="564.8" r="7"/><circle cx="317.8" cy="538.1" r="7"/><circle cx="500.9" cy="968.6" r="7"/><circle cx="495.9" cy="694.4" r="7"/><circle cx="1018.5" cy="794.2" r="7"/><circle cx="649.4" cy="1076.4" r="7"/><circle cx="562.6" cy="987.7" r="7"/></g><g fill="#70a4cd"><circle cx="339.5" cy="557.4" r="7"/><circle cx="642.2" cy="976.5" r="7"/><circle cx="1009.5" cy="782.6" r="7"/><circle cx="357.6" cy="495.5" r="7"/><circle cx="625.9" cy="947.5" r="7"/><circle cx="675.2" cy="456.2" r="7"/><circle cx="297.6" cy="486.3" r="7"/><circle cx="360.7" cy="513.6" r="7"/><circle cx="629.2" cy="1049.9" r="7"/><circle cx="741.8" cy="455.9" r="7"/><circle cx="230.0" cy="337.3" r="7"/><circle cx="678.5" cy="1039.3" r="7"/><circle cx="706.0" cy="1031.3" r="7"/><circle cx="664.9" cy="1064.0" r="7"/></g><g fill="#6da0cb"><circle cx="212.7" cy="378.9" r="7"/><circle cx="624.6" cy="998.0" r="7"/><circle cx="739.9" cy="630.1" r="7"/><circle cx="707.0" cy="1012.5" r="7"/><circle cx="759.3" cy="470.8" r="7"/><circle cx="705.7" cy="1019.4" r="7"/><circle cx="682.5" cy="1000.6" r="7"/><circle cx="545.5" cy="1004.2" r="7"/><circle cx="680.8" cy="388.3" r="7"/><circle cx="305.0" cy="340.0" r="7"/><circle cx="352.6" cy="491.9" r="7"/><circle cx="796.2" cy="471.2" r="7"/><circle cx="408.2" cy="855.2" r="7"/></g><g fill="#6b9dca"><circle cx="358.9" cy="547.8" r="7"/><circle cx="376.2" cy="522.9" r="7"/><circle cx="358.8" cy="809.5" r="7"/><circle cx="300.7" cy="329.9" r="7"/><circle cx="650.0" cy="513.0" r="7"/><circle cx="686.3" cy="409.7" r="7"/><circle cx="916.9" cy="331.7" r="7"/><circle cx="331.3" cy="513.5" r="7"/></g><g fill="#689ac8"><circle cx="631.9" cy="982.1" r="7"/><circle cx="351.6" cy="455.1" r="7"/><circle cx="589.0" cy="1046.7" r="7"/><circle cx="617.1" cy="1032.3" r="7"/><circle cx="314.8" cy="429.8" r="7"/></g><g fill="#6697c7"><circle cx="586.5" cy="1017.4" r="7"/><circle cx="359.9" cy="822.8" r="7"/><circle cx="398.9" cy="837.9" r="7"/><circle cx="296.1" cy="447.5" r="7"/><circle cx="760.8" cy="548.6" r="7"/><circle cx="748.2" cy="528.9" r="7"/></g><g fill="#6494c5"><circle cx="331.1" cy="559.5" r="7"/><circle cx="378.6" cy="822.7" r="7"/></g><g fill="#6290c0"><circle cx="369.9" cy="785.2" r="7"/><circle cx="360.8" cy="827.6" r="7"/><circle cx="400.0" cy="551.6" r="7"/><circle cx="785.2" cy="467.2" r="7"/></g><g fill="#608cba"><circle cx="304.2" cy="498.4" r="7"/><circle cx="373.6" cy="828.7" r="7"/></g><g fill="#5e89b5"><circle cx="694.7" cy="1064.4" r="7"/><circle cx="769.1" cy="546.9" r="7"/><circle cx="778.1" cy="481.9" r="7"/></g><g fill="#608cba"><circle cx="776.3" cy="447.2" r="7"/><circle cx="782.6" cy="701.2" r="7"/></g><g fill="#6290c0"><circle cx="648.2" cy="957.6" r="7"/><circle cx="652.0" cy="1072.4" r="7"/><circle cx="977.2" cy="816.2" r="7"/><circle cx="697.5" cy="383.8" r="7"/><circle cx="761.1" cy="520.0" r="7"/><circle cx="323.3" cy="547.6" r="7"/></g><g fill="#6494c5"><circle cx="790.9" cy="470.1" r="7"/><circle cx="343.3" cy="567.4" r="7"/><circle cx="769.9" cy="529.9" r="7"/><circle cx="848.6" cy="430.4" r="7"/><circle cx="629.6" cy="1012.2" r="7"/></g><g fill="#6697c7"><circle cx="389.0" cy="791.5" r="7"/><circle cx="680.3" cy="397.2" r="7"/><circle cx="349.4" cy="807.9" r="7"/><circle cx="628.9" cy="1015.3" r="7"/><circle cx="788.4" cy="458.5" r="7"/></g><g fill="#689ac8"><circle cx="720.2" cy="1058.9" r="7"/><circle cx="1001.8" cy="808.9" r="7"/><circle cx="280.6" cy="456.0" r="7"/><circle cx="364.0" cy="803.1" r="7"/><circle cx="767.6" cy="514.8" r="7"/><circle cx="325.9" cy="523.5" r="7"/></g><g fill="#6b9dca"><circle cx="634.2" cy="1041.0" r="7"/><circle cx="382.0" cy="801.1" r="7"/><circle cx="643.9" cy="1058.4" r="7"/><circle cx="785.4" cy="490.2" r="7"/><circle cx="700.1" cy="996.7" r="7"/><circle cx="336.1" cy="418.3" r="7"/><circle cx="291.1" cy="450.3" r="7"/><circle cx="367.2" cy="557.6" r="7"/><circle cx="362.1" cy="532.1" r="7"/><circle cx="647.3" cy="967.3" r="7"/><circle cx="365.4" cy="498.7" r="7"/></g><g fill="#6da0cb"><circle cx="440.3" cy="793.3" r="7"/><circle cx="403.1" cy="795.8" r="7"/><circle cx="1011.7" cy="834.7" r="7"/><circle cx="377.9" cy="572.0" r="7"/><circle cx="980.5" cy="444.3" r="7"/><circle cx="970.8" cy="878.8" r="7"/><circle cx="641.9" cy="485.5" r="7"/><circle cx="776.1" cy="517.8" r="7"/><circle cx="1003.5" cy="812.9" r="7"/><circle cx="336.7" cy="456.1" r="7"/><circle cx="274.6" cy="409.2" r="7"/><circle cx="857.1" cy="432.3" r="7"/><circle cx="957.2" cy="845.4" r="7"/></g><g fill="#70a4cd"><circle cx="319.3" cy="521.6" r="7"/><circle cx="368.4" cy="443.4" r="7"/><circle cx="515.1" cy="1014.2" r="7"/><circle cx="841.3" cy="821.6" r="7"/><circle cx="681.2" cy="1046.0" r="7"/><circle cx="798.8" cy="619.8" r="7"/><circle cx="317.5" cy="461.6" r="7"/><circle cx="949.5" cy="897.4" r="7"/><circle cx="362.5" cy="497.2" r="7"/><circle cx="676.5" cy="1046.0" r="7"/><circle cx="771.7" cy="443.0" r="7"/></g><g fill="#72a7cf"><circle cx="615.4" cy="980.6" r="7"/><circle cx="1021.5" cy="277.6" r="7"/><circle cx="371.2" cy="524.6" r="7"/><circle cx="670.8" cy="371.9" r="7"/><circle cx="591.9" cy="1022.2" r="7"/><circle cx="898.5" cy="440.4" r="7"/><circle cx="326.7" cy="335.4" r="7"/><circle cx="877.1" cy="910.2" r="7"/><circle cx="664.5" cy="1000.1" r="7"/><circle cx="393.7" cy="428.7" r="7"/><circle cx="342.2" cy="497.1" r="7"/><circle cx="796.2" cy="459.1" r="7"/><circle cx="538.6" cy="1013.1" r="7"/><circle cx="988.7" cy="865.0" r="7"/><circle cx="384.3" cy="492.3" r="7"/><circle cx="663.4" cy="1045.4" r="7"/><circle cx="424.4" cy="814.6" r="7"/><circle cx="746.5" cy="679.4" r="7"/></g><g fill="#74aad0"><circle cx="291.7" cy="409.5" r="7"/><circle cx="567.5" cy="1050.4" r="7"/><circle cx="296.7" cy="494.0" r="7"/><circle cx="364.4" cy="400.5" r="7"/><circle cx="767.9" cy="511.7" r="7"/><circle cx="547.9" cy="1010.4" r="7"/><circle cx="1033.6" cy="277.0" r="7"/><circle cx="504.2" cy="355.6" r="7"/><circle cx="601.6" cy="1043.4" r="7"/><circle cx="261.1" cy="325.9" r="7"/><circle cx="535.2" cy="1024.1" r="7"/><circle cx="317.7" cy="443.3" r="7"/><circle cx="698.7" cy="453.1" r="7"/><circle cx="993.4" cy="849.4" r="7"/><circle cx="373.2" cy="440.1" r="7"/><circle cx="304.5" cy="492.0" r="7"/></g><g fill="#77add2"><circle cx="595.3" cy="991.4" r="7"/><circle cx="334.7" cy="349.7" r="7"/><circle cx="386.9" cy="458.7" r="7"/><circle cx="1003.2" cy="287.3" r="7"/><circle cx="893.2" cy="938.0" r="7"/><circle cx="585.8" cy="986.9" r="7"/><circle cx="999.4" cy="469.3" r="7"/><circle cx="926.8" cy="912.6" r="7"/><circle cx="364.0" cy="571.7" r="7"/><circle cx="362.9" cy="346.4" r="7"/><circle cx="1022.4" cy="294.5" r="7"/><circle cx="811.8" cy="887.7" r="7"/><circle cx="935.1" cy="840.8" r="7"/><circle cx="326.0" cy="492.2" r="7"/><circle cx="502.6" cy="694.5" r="7"/><circle cx="1001.8" cy="804.3" r="7"/><circle cx="827.9" cy="876.1" r="7"/><circle cx="997.3" cy="791.5" r="7"/><circle cx="467.6" cy="353.8" r="7"/><circle cx="822.2" cy="727.9" r="7"/><circle cx="897.3" cy="307.9" r="7"/><circle cx="690.0" cy="1020.6" r="7"/><circle cx="449.1" cy="748.6" r="7"/></g><g fill="#79b0d3"><circle cx="956.0" cy="862.6" r="7"/><circle cx="879.5" cy="855.8" r="7"/><circle cx="676.3" cy="1055.1" r="7"/><circle cx="533.8" cy="408.3" r="7"/><circle cx="358.7" cy="345.3" r="7"/><circle cx="1025.1" cy="278.0" r="7"/><circle cx="595.0" cy="1071.8" r="7"/><circle cx="936.1" cy="803.7" r="7"/><circle cx="953.0" cy="860.0" r="7"/><circle cx="370.1" cy="270.9" r="7"/></g><g fill="#7bb3d5"><circle cx="1004.7" cy="460.1" r="7"/><circle cx="913.3" cy="540.8" r="7"/><circle cx="959.1" cy="857.1" r="7"/><circle cx="1028.3" cy="467.4" r="7"/><circle cx="920.6" cy="829.5" r="7"/><circle cx="694.8" cy="1023.3" r="7"/><circle cx="537.9" cy="975.2" r="7"/><circle cx="357.0" cy="518.7" r="7"/><circle cx="583.9" cy="1078.0" r="7"/><circle cx="851.6" cy="438.1" r="7"/><circle cx="280.9" cy="317.5" r="7"/><circle cx="526.9" cy="441.9" r="7"/><circle cx="866.5" cy="886.1" r="7"/></g><g fill="#81b7d7"><circle cx="701.9" cy="653.1" r="7"/><circle cx="901.9" cy="945.8" r="7"/><circle cx="584.5" cy="402.6" r="7"/><circle cx="852.3" cy="842.1" r="7"/><circle cx="634.9" cy="217.2" r="7"/><circle cx="499.6" cy="228.0" r="7"/><circle cx="812.1" cy="950.7" r="7"/><circle cx="915.9" cy="800.6" r="7"/><circle cx="408.5" cy="376.7" r="7"/><circle cx="385.3" cy="289.4" r="7"/><circle cx="989.1" cy="444.6" r="7"/><circle cx="354.7" cy="356.3" r="7"/><circle cx="786.9" cy="291.0" r="7"/><circle cx="752.4" cy="500.3" r="7"/><circle cx="208.7" cy="427.6" r="7"/><circle cx="850.2" cy="901.3" r="7"/><circle cx="833.5" cy="787.6" r="7"/><circle cx="383.7" cy="301.3" r="7"/><circle cx="882.4" cy="655.7" r="7"/></g><g fill="#86bad9"><circle cx="534.0" cy="432.9" r="7"/><circle cx="361.1" cy="306.9" r="7"/><circle cx="865.1" cy="632.7" r="7"/><circle cx="683.7" cy="439.1" r="7"/><circle cx="836.5" cy="793.9" r="7"/><circle cx="785.1" cy="438.1" r="7"/><circle cx="867.4" cy="935.3" r="7"/><circle cx="340.3" cy="395.3" r="7"/><circle cx="642.2" cy="466.8" r="7"/><circle cx="832.5" cy="551.3" r="7"/><circle cx="574.6" cy="1060.6" r="7"/><circle cx="467.4" cy="232.2" r="7"/><circle cx="866.1" cy="906.1" r="7"/><circle cx="622.1" cy="1032.8" r="7"/><circle cx="609.7" cy="909.7" r="7"/><circle cx="732.1" cy="676.1" r="7"/><circle cx="445.6" cy="223.2" r="7"/><circle cx="389.8" cy="323.9" r="7"/><circle cx="390.7" cy="332.1" r="7"/><circle cx="403.5" cy="302.8" r="7"/><circle cx="1061.9" cy="385.7" r="7"/><circle cx="850.4" cy="951.0" r="7"/><circle cx="461.8" cy="737.7" r="7"/></g><g fill="#8cbedb"><circle cx="997.7" cy="297.3" r="7"/><circle cx="501.7" cy="236.0" r="7"/><circle cx="829.5" cy="345.5" r="7"/><circle cx="607.4" cy="406.3" r="7"/><circle cx="826.4" cy="953.6" r="7"/><circle cx="470.5" cy="346.0" r="7"/><circle cx="946.9" cy="431.4" r="7"/><circle cx="989.7" cy="430.4" r="7"/><circle cx="790.2" cy="312.7" r="7"/><circle cx="801.5" cy="746.5" r="7"/><circle cx="394.9" cy="369.1" r="7"/><circle cx="597.9" cy="486.8" r="7"/><circle cx="505.0" cy="714.2" r="7"/><circle cx="852.3" cy="803.8" r="7"/><circle cx="838.5" cy="829.8" r="7"/><circle cx="897.9" cy="818.1" r="7"/><circle cx="218.9" cy="422.8" r="7"/><circle cx="995.5" cy="447.4" r="7"/><circle cx="709.7" cy="257.0" r="7"/><circle cx="948.6" cy="830.1" r="7"/><circle cx="841.0" cy="816.2" r="7"/><circle cx="415.7" cy="259.5" r="7"/></g><g fill="#92c1dd"><circle cx="791.2" cy="291.5" r="7"/><circle cx="975.9" cy="429.2" r="7"/><circle cx="337.4" cy="331.0" r="7"/><circle cx="696.4" cy="242.3" r="7"/><circle cx="855.3" cy="953.3" r="7"/><circle cx="652.9" cy="950.6" r="7"/><circle cx="342.7" cy="558.9" r="7"/><circle cx="861.2" cy="626.4" r="7"/><circle cx="463.5" cy="765.4" r="7"/><circle cx="325.4" cy="366.0" r="7"/><circle cx="365.7" cy="256.5" r="7"/><circle cx="946.1" cy="312.1" r="7"/><circle cx="575.9" cy="541.9" r="7"/><circle cx="549.5" cy="927.4" r="7"/><circle cx="506.1" cy="726.2" r="7"/><circle cx="572.6" cy="898.9" r="7"/><circle cx="684.8" cy="297.3" r="7"/><circle cx="451.6" cy="750.7" r="7"/><circle cx="667.5" cy="238.9" r="7"/><circle cx="411.4" cy="230.3" r="7"/><circle cx="473.0" cy="425.5" r="7"/><circle cx="591.2" cy="307.1" r="7"/><circle cx="431.9" cy="226.9" r="7"/><circle cx="480.6" cy="725.2" r="7"/><circle cx="494.8" cy="338.3" r="7"/><circle cx="864.0" cy="950.4" r="7"/><circle cx="651.7" cy="311.4" r="7"/><circle cx="347.7" cy="365.1" r="7"/><circle cx="399.2" cy="751.1" r="7"/><circle cx="815.4" cy="832.1" r="7"/><circle cx="632.1" cy="544.0" r="7"/><circle cx="550.5" cy="322.2" r="7"/><circle cx="1022.8" cy="469.9" r="7"/><circle cx="752.6" cy="436.0" r="7"/><circle cx="947.2" cy="805.2" r="7"/><circle cx="367.3" cy="259.0" r="7"/></g><g fill="#97c5de"><circle cx="805.5" cy="951.5" r="7"/><circle cx="579.2" cy="957.0" r="7"/><circle cx="971.3" cy="799.6" r="7"/><circle cx="709.4" cy="347.3" r="7"/><circle cx="369.5" cy="329.6" r="7"/><circle cx="607.3" cy="890.5" r="7"/><circle cx="536.1" cy="428.7" r="7"/><circle cx="513.8" cy="920.4" r="7"/><circle cx="342.4" cy="297.6" r="7"/><circle cx="610.0" cy="1019.6" r="7"/><circle cx="710.8" cy="1059.6" r="7"/><circle cx="546.0" cy="951.9" r="7"/><circle cx="679.5" cy="433.4" r="7"/></g><g fill="#9dc8e0"><circle cx="832.8" cy="580.8" r="7"/><circle cx="619.6" cy="267.5" r="7"/><circle cx="469.1" cy="734.3" r="7"/><circle cx="936.3" cy="806.4" r="7"/><circle cx="370.7" cy="323.8" r="7"/><circle cx="518.2" cy="317.7" r="7"/><circle cx="334.1" cy="342.3" r="7"/><circle cx="632.7" cy="525.0" r="7"/><circle cx="1012.0" cy="290.1" r="7"/><circle cx="775.6" cy="293.1" r="7"/><circle cx="443.8" cy="368.1" r="7"/></g><g fill="#a2cce2"><circle cx="473.1" cy="230.5" r="7"/><circle cx="347.2" cy="357.4" r="7"/><circle cx="296.9" cy="472.9" r="7"/><circle cx="645.8" cy="921.4" r="7"/><circle cx="704.2" cy="276.2" r="7"/><circle cx="504.3" cy="292.7" r="7"/><circle cx="721.9" cy="232.2" r="7"/><circle cx="897.8" cy="802.3" r="7"/><circle cx="896.6" cy="815.9" r="7"/><circle cx="623.9" cy="417.6" r="7"/></g><g fill="#a8cfe4"><circle cx="474.6" cy="368.6" r="7"/><circle cx="886.0" cy="621.8" r="7"/><circle cx="1041.5" cy="469.3" r="7"/><circle cx="540.5" cy="560.4" r="7"/><circle cx="573.9" cy="430.6" r="7"/><circle cx="726.7" cy="232.7" r="7"/><circle cx="741.4" cy="281.0" r="7"/><circle cx="751.2" cy="286.6" r="7"/><circle cx="628.5" cy="263.3" r="7"/><circle cx="885.2" cy="489.1" r="7"/><circle cx="865.3" cy="842.7" r="7"/><circle cx="910.9" cy="667.2" r="7"/><circle cx="876.1" cy="843.1" r="7"/><circle cx="382.0" cy="304.9" r="7"/><circle cx="675.1" cy="243.5" r="7"/><circle cx="966.1" cy="781.6" r="7"/></g><g fill="#add3e6"><circle cx="718.7" cy="738.7" r="7"/><circle cx="758.7" cy="727.8" r="7"/><circle cx="356.9" cy="754.9" r="7"/><circle cx="840.6" cy="887.9" r="7"/><circle cx="541.1" cy="789.5" r="7"/><circle cx="478.5" cy="303.2" r="7"/><circle cx="401.5" cy="271.4" r="7"/><circle cx="922.9" cy="405.3" r="7"/><circle cx="815.8" cy="725.2" r="7"/><circle cx="505.6" cy="915.9" r="7"/><circle cx="844.8" cy="501.3" r="7"/><circle cx="426.1" cy="227.1" r="7"/><circle cx="607.2" cy="501.0" r="7"/><circle cx="297.0" cy="305.0" r="7"/><circle cx="875.9" cy="519.7" r="7"/></g><g fill="#b3d6e8"><circle cx="576.1" cy="227.3" r="7"/><circle cx="711.4" cy="444.0" r="7"/><circle cx="593.3" cy="489.9" r="7"/><circle cx="786.0" cy="741.9" r="7"/><circle cx="474.5" cy="261.0" r="7"/><circle cx="503.2" cy="304.9" r="7"/><circle cx="1048.2" cy="310.9" r="7"/><circle cx="474.9" cy="701.1" r="7"/><circle cx="410.9" cy="387.1" r="7"/><circle cx="782.5" cy="875.1" r="7"/><circle cx="927.8" cy="300.4" r="7"/><circle cx="1118.3" cy="492.5" r="7"/></g><g fill="#b7d9e9"><circle cx="558.3" cy="551.0" r="7"/><circle cx="575.1" cy="517.6" r="7"/><circle cx="616.3" cy="238.7" r="7"/><circle cx="564.6" cy="917.5" r="7"/><circle cx="660.4" cy="242.1" r="7"/><circle cx="466.6" cy="266.6" r="7"/><circle cx="524.2" cy="786.0" r="7"/><circle cx="808.5" cy="865.4" r="7"/><circle cx="563.8" cy="800.2" r="7"/><circle cx="596.9" cy="893.5" r="7"/><circle cx="570.1" cy="491.4" r="7"/><circle cx="604.2" cy="408.7" r="7"/><circle cx="462.2" cy="281.6" r="7"/><circle cx="393.3" cy="752.6" r="7"/><circle cx="565.3" cy="274.4" r="7"/></g><g fill="#bcdbea"><circle cx="704.2" cy="689.6" r="7"/><circle cx="507.4" cy="283.4" r="7"/><circle cx="867.6" cy="516.3" r="7"/><circle cx="461.6" cy="286.8" r="7"/><circle cx="770.4" cy="406.5" r="7"/><circle cx="434.8" cy="720.1" r="7"/><circle cx="644.1" cy="257.1" r="7"/><circle cx="787.4" cy="406.5" r="7"/><circle cx="570.2" cy="432.8" r="7"/><circle cx="731.1" cy="870.6" r="7"/><circle cx="733.3" cy="859.3" r="7"/></g><g fill="#c0ddec"><circle cx="615.3" cy="834.2" r="7"/><circle cx="694.4" cy="752.3" r="7"/><circle cx="1040.4" cy="478.0" r="7"/><circle cx="729.6" cy="860.6" r="7"/><circle cx="554.5" cy="521.5" r="7"/><circle cx="813.0" cy="806.2" r="7"/></g><g fill="#c4dfed"><circle cx="722.3" cy="790.0" r="7"/><circle cx="530.9" cy="482.5" r="7"/><circle cx="732.7" cy="877.0" r="7"/><circle cx="604.1" cy="265.4" r="7"/><circle cx="803.0" cy="829.5" r="7"/><circle cx="748.2" cy="659.7" r="7"/><circle cx="558.4" cy="520.0" r="7"/><circle cx="675.1" cy="837.5" r="7"/><circle cx="767.1" cy="784.4" r="7"/><circle cx="556.1" cy="537.2" r="7"/></g><g fill="#c9e2ee"><circle cx="600.5" cy="787.7" r="7"/><circle cx="548.0" cy="275.5" r="7"/><circle cx="711.8" cy="754.9" r="7"/><circle cx="590.0" cy="473.5" r="7"/><circle cx="913.5" cy="634.7" r="7"/></g><g fill="#cde4ef"><circle cx="378.1" cy="754.4" r="7"/><circle cx="731.9" cy="754.1" r="7"/><circle cx="671.0" cy="759.2" r="7"/><circle cx="643.5" cy="268.4" r="7"/><circle cx="877.7" cy="948.6" r="7"/><circle cx="583.9" cy="263.4" r="7"/><circle cx="693.8" cy="758.2" r="7"/></g><g fill="#d2e6f1"><circle cx="710.6" cy="782.5" r="7"/><circle cx="804.0" cy="907.5" r="7"/><circle cx="865.3" cy="569.4" r="7"/><circle cx="873.1" cy="374.8" r="7"/><circle cx="790.5" cy="734.9" r="7"/><circle cx="698.4" cy="888.9" r="7"/><circle cx="978.0" cy="417.2" r="7"/></g><g fill="#d6e8f2"><circle cx="406.2" cy="279.8" r="7"/><circle cx="593.3" cy="724.5" r="7"/><circle cx="957.4" cy="491.1" r="7"/></g><g fill="#daebf3"><circle cx="662.2" cy="749.8" r="7"/><circle cx="703.1" cy="785.4" r="7"/><circle cx="614.9" cy="855.3" r="7"/><circle cx="980.3" cy="494.0" r="7"/><circle cx="595.1" cy="822.6" r="7"/><circle cx="679.6" cy="850.9" r="7"/><circle cx="892.3" cy="405.3" r="7"/><circle cx="947.7" cy="638.7" r="7"/></g><g fill="#dfedf4"><circle cx="571.4" cy="448.2" r="7"/><circle cx="633.3" cy="844.7" r="7"/><circle cx="944.8" cy="666.4" r="7"/><circle cx="678.1" cy="759.1" r="7"/><circle cx="665.4" cy="853.2" r="7"/><circle cx="554.3" cy="476.3" r="7"/><circle cx="728.0" cy="819.6" r="7"/><circle cx="753.1" cy="816.1" r="7"/></g><g fill="#e1eef5"><circle cx="982.9" cy="492.8" r="7"/><circle cx="667.2" cy="775.5" r="7"/><circle cx="702.2" cy="425.6" r="7"/><circle cx="932.1" cy="582.9" r="7"/><circle cx="958.0" cy="667.1" r="7"/></g><g fill="#e4eff5"><circle cx="569.5" cy="838.3" r="7"/></g><g fill="#e9f2f6"><circle cx="746.9" cy="773.6" r="7"/><circle cx="613.0" cy="716.2" r="7"/><circle cx="945.6" cy="645.5" r="7"/></g><g fill="#eff4f7"><circle cx="688.2" cy="713.0" r="7"/></g><g fill="#f4f7f8"><circle cx="698.0" cy="785.2" r="7"/><circle cx="589.7" cy="709.0" r="7"/><circle cx="660.8" cy="754.2" r="7"/></g><g fill="#f9f9f9"><circle cx="962.5" cy="642.0" r="7"/></g><g fill="#faf5f3"><circle cx="612.1" cy="732.6" r="7"/><circle cx="705.1" cy="738.3" r="7"/></g><g fill="#faf7f6"><circle cx="617.6" cy="808.5" r="7"/></g><g fill="#f4f7f8"><circle cx="654.8" cy="737.0" r="7"/></g><g fill="#f1f6f8"><circle cx="608.0" cy="782.8" r="7"/><circle cx="704.8" cy="734.3" r="7"/><circle cx="589.6" cy="747.7" r="7"/></g><g fill="#eff4f7"><circle cx="577.7" cy="825.4" r="7"/></g><g fill="#ecf3f7"><circle cx="615.1" cy="691.8" r="7"/><circle cx="585.6" cy="754.0" r="7"/></g><g fill="#e9f2f6"><circle cx="797.2" cy="939.8" r="7"/></g><g fill="#e7f1f6"><circle cx="896.3" cy="498.2" r="7"/><circle cx="667.6" cy="815.9" r="7"/><circle cx="681.2" cy="757.4" r="7"/><circle cx="632.2" cy="757.9" r="7"/><circle cx="872.1" cy="566.1" r="7"/><circle cx="703.3" cy="877.4" r="7"/></g><g fill="#e4eff5"><circle cx="942.5" cy="656.1" r="7"/><circle cx="776.3" cy="791.6" r="7"/><circle cx="557.5" cy="810.0" r="7"/><circle cx="570.1" cy="814.3" r="7"/></g><g fill="#e1eef5"><circle cx="953.7" cy="493.9" r="7"/><circle cx="600.5" cy="820.8" r="7"/><circle cx="924.6" cy="592.2" r="7"/><circle cx="730.7" cy="776.7" r="7"/><circle cx="683.1" cy="841.5" r="7"/></g><g fill="#dfedf4"><circle cx="602.3" cy="785.0" r="7"/><circle cx="962.4" cy="639.1" r="7"/><circle cx="597.8" cy="805.2" r="7"/><circle cx="745.0" cy="884.3" r="7"/><circle cx="629.3" cy="779.9" r="7"/><circle cx="522.3" cy="500.2" r="7"/><circle cx="585.4" cy="830.8" r="7"/></g><g fill="#daebf3"><circle cx="768.3" cy="750.7" r="7"/><circle cx="595.2" cy="715.2" r="7"/><circle cx="911.9" cy="502.0" r="7"/><circle cx="771.3" cy="802.4" r="7"/><circle cx="959.4" cy="652.0" r="7"/></g><g fill="#d6e8f2"><circle cx="697.5" cy="717.7" r="7"/><circle cx="715.9" cy="842.6" r="7"/><circle cx="773.8" cy="764.0" r="7"/><circle cx="648.6" cy="837.2" r="7"/><circle cx="699.2" cy="695.2" r="7"/><circle cx="910.1" cy="527.4" r="7"/><circle cx="928.7" cy="653.5" r="7"/><circle cx="511.6" cy="885.6" r="7"/></g><g fill="#d2e6f1"><circle cx="767.8" cy="670.8" r="7"/><circle cx="506.7" cy="269.5" r="7"/><circle cx="362.1" cy="737.6" r="7"/><circle cx="579.5" cy="537.6" r="7"/><circle cx="912.5" cy="518.6" r="7"/><circle cx="562.5" cy="472.0" r="7"/><circle cx="539.4" cy="868.1" r="7"/><circle cx="373.1" cy="743.6" r="7"/></g><g fill="#cde4ef"><circle cx="530.2" cy="512.6" r="7"/><circle cx="900.0" cy="637.3" r="7"/><circle cx="878.1" cy="543.0" r="7"/></g><g fill="#c9e2ee"><circle cx="761.8" cy="431.8" r="7"/><circle cx="594.4" cy="840.7" r="7"/><circle cx="756.6" cy="410.4" r="7"/><circle cx="882.5" cy="401.1" r="7"/><circle cx="543.0" cy="489.7" r="7"/><circle cx="666.6" cy="865.3" r="7"/><circle cx="646.4" cy="757.6" r="7"/></g><g fill="#c4dfed"><circle cx="662.8" cy="855.3" r="7"/><circle cx="586.3" cy="774.2" r="7"/><circle cx="799.9" cy="780.7" r="7"/><circle cx="762.0" cy="413.3" r="7"/><circle cx="678.3" cy="790.1" r="7"/><circle cx="946.5" cy="413.5" r="7"/><circle cx="626.3" cy="256.7" r="7"/><circle cx="740.6" cy="859.5" r="7"/></g><g fill="#c0ddec"><circle cx="448.7" cy="337.5" r="7"/><circle cx="786.4" cy="441.9" r="7"/><circle cx="580.0" cy="483.7" r="7"/><circle cx="770.3" cy="826.0" r="7"/><circle cx="710.4" cy="724.2" r="7"/><circle cx="558.5" cy="292.8" r="7"/><circle cx="624.3" cy="884.5" r="7"/><circle cx="395.4" cy="711.6" r="7"/><circle cx="461.8" cy="261.2" r="7"/><circle cx="966.3" cy="291.3" r="7"/><circle cx="590.6" cy="495.4" r="7"/><circle cx="697.5" cy="704.4" r="7"/><circle cx="639.7" cy="716.4" r="7"/><circle cx="506.7" cy="518.0" r="7"/></g><g fill="#bcdbea"><circle cx="542.0" cy="573.3" r="7"/><circle cx="441.4" cy="365.4" r="7"/><circle cx="579.0" cy="881.7" r="7"/><circle cx="602.6" cy="495.1" r="7"/><circle cx="855.8" cy="535.8" r="7"/><circle cx="675.5" cy="805.7" r="7"/><circle cx="736.6" cy="415.7" r="7"/><circle cx="519.8" cy="279.0" r="7"/><circle cx="857.3" cy="879.4" r="7"/></g><g fill="#b7d9e9"><circle cx="579.4" cy="432.4" r="7"/><circle cx="453.6" cy="258.9" r="7"/><circle cx="892.6" cy="526.8" r="7"/><circle cx="606.1" cy="876.1" r="7"/><circle cx="940.5" cy="631.9" r="7"/><circle cx="383.4" cy="760.7" r="7"/><circle cx="781.6" cy="903.7" r="7"/><circle cx="599.0" cy="249.8" r="7"/><circle cx="598.9" cy="509.7" r="7"/></g><g fill="#b3d6e8"><circle cx="788.9" cy="871.5" r="7"/><circle cx="582.6" cy="428.3" r="7"/><circle cx="765.7" cy="867.0" r="7"/><circle cx="552.1" cy="936.7" r="7"/><circle cx="794.9" cy="916.7" r="7"/><circle cx="453.6" cy="300.3" r="7"/><circle cx="481.3" cy="267.6" r="7"/><circle cx="900.9" cy="324.3" r="7"/><circle cx="716.8" cy="313.6" r="7"/><circle cx="497.1" cy="312.8" r="7"/><circle cx="598.2" cy="1023.4" r="7"/><circle cx="701.4" cy="261.9" r="7"/></g><g fill="#add3e6"><circle cx="556.9" cy="917.3" r="7"/><circle cx="620.7" cy="250.4" r="7"/><circle cx="907.3" cy="419.5" r="7"/><circle cx="462.9" cy="278.1" r="7"/><circle cx="544.0" cy="332.7" r="7"/><circle cx="372.7" cy="749.1" r="7"/><circle cx="461.3" cy="276.0" r="7"/><circle cx="961.9" cy="430.6" r="7"/><circle cx="1026.2" cy="492.8" r="7"/><circle cx="667.8" cy="244.6" r="7"/><circle cx="570.9" cy="457.3" r="7"/><circle cx="626.1" cy="282.3" r="7"/><circle cx="771.6" cy="844.3" r="7"/><circle cx="523.0" cy="542.4" r="7"/><circle cx="389.9" cy="312.6" r="7"/></g><g fill="#a8cfe4"><circle cx="591.5" cy="907.5" r="7"/><circle cx="507.8" cy="371.1" r="7"/><circle cx="308.0" cy="287.7" r="7"/><circle cx="766.7" cy="736.2" r="7"/><circle cx="559.6" cy="473.2" r="7"/><circle cx="606.9" cy="254.5" r="7"/><circle cx="723.4" cy="459.7" r="7"/><circle cx="449.5" cy="333.6" r="7"/><circle cx="708.9" cy="248.9" r="7"/><circle cx="441.2" cy="328.3" r="7"/><circle cx="633.1" cy="255.2" r="7"/><circle cx="678.6" cy="271.7" r="7"/><circle cx="922.3" cy="628.0" r="7"/><circle cx="591.6" cy="295.4" r="7"/><circle cx="1026.7" cy="347.9" r="7"/><circle cx="710.5" cy="358.9" r="7"/><circle cx="570.7" cy="542.6" r="7"/><circle cx="535.9" cy="457.7" r="7"/></g><g fill="#a2cce2"><circle cx="649.5" cy="858.4" r="7"/><circle cx="830.4" cy="911.8" r="7"/><circle cx="485.2" cy="429.9" r="7"/><circle cx="335.5" cy="281.0" r="7"/><circle cx="745.1" cy="295.0" r="7"/><circle cx="784.9" cy="300.1" r="7"/><circle cx="412.9" cy="291.9" r="7"/><circle cx="603.9" cy="549.2" r="7"/><circle cx="597.4" cy="243.0" r="7"/><circle cx="352.6" cy="239.7" r="7"/><circle cx="359.2" cy="246.8" r="7"/><circle cx="702.4" cy="351.3" r="7"/><circle cx="608.1" cy="243.4" r="7"/><circle cx="989.9" cy="436.6" r="7"/><circle cx="542.8" cy="291.1" r="7"/><circle cx="569.5" cy="890.5" r="7"/><circle cx="411.1" cy="303.1" r="7"/><circle cx="660.8" cy="290.7" r="7"/><circle cx="562.2" cy="927.2" r="7"/><circle cx="575.9" cy="463.5" r="7"/></g><g fill="#9dc8e0"><circle cx="793.0" cy="279.8" r="7"/><circle cx="525.0" cy="247.5" r="7"/><circle cx="906.0" cy="800.2" r="7"/><circle cx="614.6" cy="212.0" r="7"/><circle cx="857.1" cy="514.0" r="7"/><circle cx="416.6" cy="278.0" r="7"/><circle cx="899.1" cy="874.5" r="7"/><circle cx="783.8" cy="472.7" r="7"/><circle cx="463.2" cy="290.3" r="7"/><circle cx="488.6" cy="266.2" r="7"/><circle cx="851.3" cy="866.3" r="7"/><circle cx="835.0" cy="352.5" r="7"/><circle cx="960.4" cy="421.6" r="7"/><circle cx="420.9" cy="313.0" r="7"/><circle cx="910.4" cy="674.2" r="7"/><circle cx="796.8" cy="435.6" r="7"/><circle cx="967.6" cy="582.2" r="7"/><circle cx="828.1" cy="744.7" r="7"/></g><g fill="#97c5de"><circle cx="886.9" cy="666.6" r="7"/><circle cx="389.6" cy="739.5" r="7"/><circle cx="358.5" cy="273.7" r="7"/><circle cx="816.7" cy="705.4" r="7"/><circle cx="622.8" cy="1001.0" r="7"/><circle cx="522.0" cy="941.4" r="7"/><circle cx="631.8" cy="294.9" r="7"/><circle cx="831.9" cy="819.6" r="7"/><circle cx="1002.8" cy="283.8" r="7"/><circle cx="565.0" cy="990.8" r="7"/><circle cx="984.5" cy="871.6" r="7"/><circle cx="498.9" cy="742.8" r="7"/><circle cx="659.1" cy="288.9" r="7"/><circle cx="515.7" cy="888.8" r="7"/><circle cx="477.3" cy="239.9" r="7"/><circle cx="741.2" cy="663.8" r="7"/><circle cx="640.0" cy="506.0" r="7"/></g><g fill="#92c1dd"><circle cx="302.5" cy="318.1" r="7"/><circle cx="1040.2" cy="483.4" r="7"/><circle cx="867.0" cy="924.0" r="7"/><circle cx="598.1" cy="944.2" r="7"/><circle cx="390.8" cy="395.2" r="7"/><circle cx="579.9" cy="983.3" r="7"/><circle cx="301.4" cy="346.2" r="7"/><circle cx="1107.5" cy="512.3" r="7"/><circle cx="844.0" cy="955.8" r="7"/><circle cx="607.5" cy="956.4" r="7"/></g><g fill="#8cbedb"><circle cx="414.6" cy="232.6" r="7"/><circle cx="482.3" cy="745.5" r="7"/><circle cx="511.1" cy="879.9" r="7"/><circle cx="461.0" cy="752.2" r="7"/><circle cx="617.7" cy="992.8" r="7"/><circle cx="1045.7" cy="289.3" r="7"/><circle cx="547.9" cy="333.5" r="7"/><circle cx="672.5" cy="274.0" r="7"/><circle cx="508.5" cy="907.8" r="7"/><circle cx="421.7" cy="245.3" r="7"/><circle cx="1033.1" cy="329.1" r="7"/><circle cx="989.1" cy="304.7" r="7"/><circle cx="887.5" cy="888.5" r="7"/><circle cx="436.2" cy="351.0" r="7"/><circle cx="974.8" cy="856.8" r="7"/><circle cx="1029.3" cy="306.1" r="7"/><circle cx="388.4" cy="317.3" r="7"/><circle cx="578.0" cy="991.7" r="7"/><circle cx="564.5" cy="946.2" r="7"/><circle cx="728.1" cy="248.5" r="7"/><circle cx="874.4" cy="885.7" r="7"/><circle cx="854.8" cy="849.7" r="7"/><circle cx="526.3" cy="888.6" r="7"/><circle cx="521.0" cy="446.9" r="7"/><circle cx="877.6" cy="870.6" r="7"/></g><g fill="#86bad9"><circle cx="472.8" cy="731.6" r="7"/><circle cx="859.3" cy="930.0" r="7"/><circle cx="923.5" cy="839.9" r="7"/><circle cx="522.2" cy="199.1" r="7"/><circle cx="677.2" cy="215.2" r="7"/><circle cx="904.2" cy="891.0" r="7"/><circle cx="820.7" cy="941.7" r="7"/><circle cx="689.0" cy="375.0" r="7"/><circle cx="831.9" cy="512.3" r="7"/><circle cx="872.3" cy="648.2" r="7"/><circle cx="395.6" cy="295.4" r="7"/><circle cx="367.0" cy="388.6" r="7"/><circle cx="600.7" cy="966.6" r="7"/><circle cx="842.1" cy="919.4" r="7"/><circle cx="236.0" cy="328.0" r="7"/><circle cx="856.1" cy="862.7" r="7"/><circle cx="343.9" cy="388.6" r="7"/></g><g fill="#81b7d7"><circle cx="422.7" cy="242.2" r="7"/><circle cx="980.9" cy="782.6" r="7"/><circle cx="781.5" cy="768.5" r="7"/><circle cx="652.7" cy="326.2" r="7"/><circle cx="782.9" cy="524.8" r="7"/><circle cx="851.2" cy="930.4" r="7"/><circle cx="615.2" cy="288.8" r="7"/><circle cx="521.1" cy="231.7" r="7"/><circle cx="726.5" cy="241.3" r="7"/><circle cx="596.3" cy="961.3" r="7"/><circle cx="225.3" cy="407.1" r="7"/><circle cx="632.9" cy="468.9" r="7"/><circle cx="620.3" cy="931.8" r="7"/><circle cx="710.1" cy="1066.6" r="7"/><circle cx="763.1" cy="255.6" r="7"/><circle cx="962.6" cy="788.1" r="7"/><circle cx="537.2" cy="983.4" r="7"/><circle cx="308.4" cy="366.7" r="7"/></g><g fill="#7bb3d5"><circle cx="574.2" cy="988.7" r="7"/><circle cx="326.7" cy="429.1" r="7"/><circle cx="291.6" cy="467.8" r="7"/><circle cx="920.5" cy="790.3" r="7"/><circle cx="534.3" cy="447.1" r="7"/><circle cx="285.7" cy="356.8" r="7"/><circle cx="349.6" cy="270.4" r="7"/><circle cx="399.5" cy="466.6" r="7"/><circle cx="309.2" cy="347.5" r="7"/><circle cx="595.7" cy="1047.0" r="7"/><circle cx="249.3" cy="340.0" r="7"/><circle cx="406.1" cy="255.9" r="7"/><circle cx="863.4" cy="829.1" r="7"/><circle cx="856.1" cy="949.7" r="7"/><circle cx="638.6" cy="512.3" r="7"/><circle cx="314.0" cy="341.8" r="7"/><circle cx="586.3" cy="1065.2" r="7"/><circle cx="338.3" cy="349.0" r="7"/><circle cx="712.6" cy="283.2" r="7"/><circle cx="249.3" cy="336.5" r="7"/><circle cx="355.2" cy="364.9" r="7"/><circle cx="325.3" cy="325.9" r="7"/><circle cx="517.1" cy="930.2" r="7"/></g><g fill="#79b0d3"><circle cx="219.6" cy="449.7" r="7"/><circle cx="719.9" cy="1031.4" r="7"/><circle cx="665.5" cy="215.9" r="7"/><circle cx="914.7" cy="399.3" r="7"/><circle cx="855.1" cy="872.1" r="7"/><circle cx="810.7" cy="842.9" r="7"/><circle cx="678.1" cy="300.9" r="7"/><circle cx="551.7" cy="990.7" r="7"/><circle cx="292.2" cy="364.0" r="7"/><circle cx="925.3" cy="847.1" r="7"/><circle cx="642.6" cy="991.9" r="7"/><circle cx="748.6" cy="629.1" r="7"/><circle cx="214.7" cy="384.2" r="7"/></g><g fill="#77add2"><circle cx="935.7" cy="431.4" r="7"/><circle cx="379.7" cy="535.4" r="7"/><circle cx="528.4" cy="980.8" r="7"/><circle cx="670.4" cy="984.4" r="7"/><circle cx="626.1" cy="526.0" r="7"/><circle cx="967.8" cy="304.1" r="7"/><circle cx="607.0" cy="954.0" r="7"/><circle cx="609.5" cy="1065.9" r="7"/><circle cx="904.8" cy="826.2" r="7"/><circle cx="546.1" cy="408.5" r="7"/><circle cx="348.1" cy="417.3" r="7"/><circle cx="455.6" cy="222.6" r="7"/><circle cx="692.1" cy="241.3" r="7"/><circle cx="942.8" cy="888.4" r="7"/><circle cx="1005.9" cy="794.8" r="7"/><circle cx="641.0" cy="1023.3" r="7"/></g><g fill="#74aad0"><circle cx="938.8" cy="340.8" r="7"/><circle cx="760.1" cy="247.9" r="7"/><circle cx="811.1" cy="963.1" r="7"/><circle cx="293.3" cy="322.9" r="7"/><circle cx="370.7" cy="559.8" r="7"/><circle cx="421.0" cy="806.3" r="7"/><circle cx="434.7" cy="222.9" r="7"/><circle cx="718.5" cy="1063.8" r="7"/><circle cx="1005.3" cy="842.3" r="7"/><circle cx="336.0" cy="500.4" r="7"/><circle cx="637.6" cy="961.7" r="7"/><circle cx="515.0" cy="1005.2" r="7"/><circle cx="743.5" cy="641.2" r="7"/><circle cx="698.1" cy="1058.9" r="7"/><circle cx="320.6" cy="458.4" r="7"/><circle cx="657.3" cy="316.4" r="7"/><circle cx="966.8" cy="853.4" r="7"/><circle cx="656.8" cy="1058.3" r="7"/><circle cx="889.1" cy="924.2" r="7"/><circle cx="368.9" cy="484.2" r="7"/><circle cx="875.8" cy="845.7" r="7"/><circle cx="585.0" cy="1021.2" r="7"/><circle cx="346.9" cy="493.1" r="7"/></g><g fill="#72a7cf"><circle cx="652.1" cy="926.0" r="7"/><circle cx="762.0" cy="513.9" r="7"/><circle cx="642.8" cy="1055.1" r="7"/><circle cx="260.4" cy="352.8" r="7"/><circle cx="592.4" cy="1028.7" r="7"/><circle cx="879.0" cy="438.2" r="7"/><circle cx="803.8" cy="978.0" r="7"/><circle cx="647.6" cy="1032.3" r="7"/><circle cx="892.4" cy="900.6" r="7"/><circle cx="1017.7" cy="476.8" r="7"/><circle cx="395.6" cy="781.7" r="7"/><circle cx="649.5" cy="951.0" r="7"/><circle cx="878.6" cy="894.0" r="7"/><circle cx="607.5" cy="1060.0" r="7"/><circle cx="247.2" cy="319.3" r="7"/></g><g fill="#70a4cd"><circle cx="703.3" cy="993.5" r="7"/><circle cx="564.1" cy="1025.5" r="7"/><circle cx="547.0" cy="976.2" r="7"/><circle cx="336.9" cy="379.4" r="7"/><circle cx="669.8" cy="1048.9" r="7"/><circle cx="648.5" cy="1049.3" r="7"/><circle cx="316.9" cy="425.1" r="7"/><circle cx="312.5" cy="460.1" r="7"/><circle cx="370.4" cy="461.8" r="7"/><circle cx="375.1" cy="516.7" r="7"/><circle cx="640.8" cy="522.1" r="7"/><circle cx="389.0" cy="783.4" r="7"/><circle cx="657.5" cy="922.4" r="7"/></g><g fill="#6da0cb"><circle cx="327.8" cy="476.6" r="7"/><circle cx="767.6" cy="470.3" r="7"/><circle cx="364.0" cy="546.0" r="7"/><circle cx="660.8" cy="1017.1" r="7"/><circle cx="594.4" cy="1018.3" r="7"/></g><g fill="#6b9dca"><circle cx="369.7" cy="364.8" r="7"/><circle cx="347.4" cy="482.6" r="7"/><circle cx="317.6" cy="448.5" r="7"/><circle cx="591.4" cy="990.9" r="7"/><circle cx="294.6" cy="460.2" r="7"/><circle cx="288.6" cy="446.6" r="7"/><circle cx="606.1" cy="961.6" r="7"/><circle cx="352.7" cy="824.3" r="7"/></g><g fill="#689ac8"><circle cx="698.4" cy="396.0" r="7"/><circle cx="328.1" cy="547.1" r="7"/><circle cx="781.0" cy="463.8" r="7"/><circle cx="656.5" cy="1064.3" r="7"/><circle cx="317.8" cy="518.3" r="7"/></g><g fill="#6697c7"><circle cx="785.7" cy="477.6" r="7"/><circle cx="319.7" cy="360.7" r="7"/><circle cx="629.3" cy="1071.4" r="7"/><circle cx="403.6" cy="865.4" r="7"/><circle cx="649.0" cy="1014.4" r="7"/><circle cx="406.1" cy="829.4" r="7"/><circle cx="725.6" cy="1046.7" r="7"/><circle cx="746.7" cy="503.9" r="7"/></g><g fill="#6494c5"><circle cx="352.0" cy="792.8" r="7"/><circle cx="825.6" cy="709.3" r="7"/><circle cx="365.0" cy="465.5" r="7"/></g><g fill="#6290c0"><circle cx="390.5" cy="812.3" r="7"/></g><g fill="#608cba"><circle cx="405.9" cy="857.8" r="7"/><circle cx="290.3" cy="392.9" r="7"/><circle cx="388.6" cy="816.8" r="7"/></g><g fill="#5e89b5"><circle cx="741.9" cy="1035.0" r="7"/></g><g fill="#5c85b0"><circle cx="402.8" cy="855.6" r="7"/></g><g fill="#5e89b5"><circle cx="396.2" cy="826.1" r="7"/></g><g fill="#608cba"><circle cx="341.1" cy="826.3" r="7"/></g><g fill="#6290c0"><circle cx="297.5" cy="489.5" r="7"/><circle cx="406.6" cy="852.2" r="7"/></g><g fill="#6494c5"><circle cx="420.1" cy="827.5" r="7"/><circle cx="329.5" cy="544.6" r="7"/><circle cx="400.2" cy="777.7" r="7"/><circle cx="395.2" cy="803.0" r="7"/></g><g fill="#6697c7"><circle cx="706.5" cy="1019.0" r="7"/><circle cx="332.9" cy="537.8" r="7"/><circle cx="992.4" cy="812.8" r="7"/><circle cx="372.8" cy="831.4" r="7"/></g><g fill="#689ac8"><circle cx="354.2" cy="581.4" r="7"/><circle cx="703.1" cy="1013.8" r="7"/><circle cx="727.1" cy="453.8" r="7"/><circle cx="675.9" cy="402.1" r="7"/><circle cx="426.9" cy="794.6" r="7"/><circle cx="679.3" cy="394.4" r="7"/><circle cx="386.0" cy="414.6" r="7"/><circle cx="414.4" cy="781.3" r="7"/><circle cx="324.5" cy="541.1" r="7"/><circle cx="332.5" cy="451.4" r="7"/><circle cx="327.6" cy="401.5" r="7"/></g><g fill="#6b9dca"><circle cx="282.2" cy="407.5" r="7"/><circle cx="393.7" cy="545.6" r="7"/><circle cx="671.8" cy="1020.9" r="7"/><circle cx="398.7" cy="821.8" r="7"/><circle cx="407.6" cy="789.5" r="7"/><circle cx="406.1" cy="546.5" r="7"/><circle cx="734.7" cy="626.0" r="7"/><circle cx="664.7" cy="1071.6" r="7"/><circle cx="339.6" cy="540.6" r="7"/><circle cx="363.0" cy="486.9" r="7"/><circle cx="623.5" cy="1042.2" r="7"/><circle cx="356.5" cy="532.8" r="7"/><circle cx="331.3" cy="427.3" r="7"/></g><g fill="#6da0cb"><circle cx="737.8" cy="625.2" r="7"/><circle cx="342.5" cy="480.0" r="7"/><circle cx="237.1" cy="394.3" r="7"/><circle cx="344.8" cy="481.3" r="7"/><circle cx="926.3" cy="324.9" r="7"/><circle cx="691.4" cy="1070.4" r="7"/><circle cx="661.9" cy="1026.5" r="7"/><circle cx="773.9" cy="479.4" r="7"/></g><g fill="#70a4cd"><circle cx="705.4" cy="468.0" r="7"/><circle cx="779.6" cy="660.4" r="7"/><circle cx="687.3" cy="1022.3" r="7"/><circle cx="974.5" cy="441.4" r="7"/><circle cx="334.4" cy="433.4" r="7"/><circle cx="287.6" cy="471.9" r="7"/><circle cx="588.8" cy="1026.2" r="7"/><circle cx="947.8" cy="844.6" r="7"/><circle cx="1005.9" cy="799.4" r="7"/><circle cx="296.5" cy="449.5" r="7"/></g><g fill="#72a7cf"><circle cx="913.3" cy="315.1" r="7"/><circle cx="762.0" cy="460.5" r="7"/><circle cx="294.1" cy="399.6" r="7"/><circle cx="673.9" cy="1066.0" r="7"/><circle cx="552.4" cy="1029.8" r="7"/><circle cx="365.8" cy="516.7" r="7"/><circle cx="693.0" cy="1034.0" r="7"/><circle cx="746.2" cy="625.6" r="7"/><circle cx="1017.8" cy="816.2" r="7"/><circle cx="354.4" cy="418.6" r="7"/><circle cx="586.4" cy="962.0" r="7"/><circle cx="871.3" cy="427.1" r="7"/><circle cx="563.3" cy="1062.9" r="7"/><circle cx="343.9" cy="483.4" r="7"/><circle cx="328.8" cy="425.5" r="7"/><circle cx="559.5" cy="984.9" r="7"/><circle cx="345.5" cy="820.0" r="7"/><circle cx="323.3" cy="474.6" r="7"/><circle cx="591.9" cy="979.8" r="7"/><circle cx="619.7" cy="990.2" r="7"/></g><g fill="#74aad0"><circle cx="916.3" cy="911.2" r="7"/><circle cx="403.3" cy="394.4" r="7"/><circle cx="1002.5" cy="439.2" r="7"/><circle cx="372.6" cy="519.9" r="7"/><circle cx="996.1" cy="422.6" r="7"/><circle cx="960.5" cy="896.1" r="7"/><circle cx="829.2" cy="784.0" r="7"/><circle cx="741.7" cy="459.7" r="7"/><circle cx="266.1" cy="404.8" r="7"/><circle cx="659.1" cy="1055.8" r="7"/><circle cx="902.3" cy="837.6" r="7"/><circle cx="976.0" cy="839.1" r="7"/><circle cx="984.3" cy="824.2" r="7"/><circle cx="1002.4" cy="470.4" r="7"/><circle cx="339.3" cy="303.8" r="7"/><circle cx="374.6" cy="476.6" r="7"/></g><g fill="#77add2"><circle cx="900.1" cy="329.1" r="7"/><circle cx="819.4" cy="859.0" r="7"/><circle cx="940.4" cy="331.0" r="7"/><circle cx="722.8" cy="1049.8" r="7"/><circle cx="721.7" cy="268.8" r="7"/><circle cx="991.0" cy="434.4" r="7"/><circle cx="996.3" cy="461.1" r="7"/><circle cx="686.4" cy="243.0" r="7"/><circle cx="659.8" cy="326.1" r="7"/><circle cx="379.6" cy="497.1" r="7"/><circle cx="420.3" cy="363.3" r="7"/><circle cx="354.8" cy="508.4" r="7"/><circle cx="915.2" cy="435.9" r="7"/><circle cx="645.2" cy="507.0" r="7"/><circle cx="866.3" cy="813.0" r="7"/><circle cx="1016.2" cy="821.2" r="7"/></g><g fill="#79b0d3"><circle cx="504.7" cy="749.6" r="7"/><circle cx="678.6" cy="359.9" r="7"/><circle cx="762.5" cy="1028.7" r="7"/><circle cx="280.7" cy="349.9" r="7"/><circle cx="335.2" cy="455.3" r="7"/><circle cx="782.8" cy="299.9" r="7"/><circle cx="1004.1" cy="453.7" r="7"/><circle cx="528.2" cy="998.7" r="7"/><circle cx="647.7" cy="491.6" r="7"/><circle cx="688.2" cy="1010.3" r="7"/><circle cx="544.6" cy="1017.1" r="7"/><circle cx="891.1" cy="832.0" r="7"/><circle cx="1013.4" cy="805.6" r="7"/><circle cx="986.0" cy="441.1" r="7"/><circle cx="412.0" cy="400.6" r="7"/><circle cx="1015.0" cy="283.3" r="7"/><circle cx="339.6" cy="455.3" r="7"/><circle cx="680.1" cy="214.3" r="7"/><circle cx="864.1" cy="431.9" r="7"/><circle cx="463.8" cy="413.0" r="7"/><circle cx="743.4" cy="255.8" r="7"/><circle cx="484.4" cy="726.0" r="7"/><circle cx="629.8" cy="1048.8" r="7"/><circle cx="581.4" cy="937.1" r="7"/></g><g fill="#7bb3d5"><circle cx="353.2" cy="368.6" r="7"/><circle cx="519.9" cy="938.4" r="7"/><circle cx="345.7" cy="398.1" r="7"/><circle cx="494.6" cy="727.9" r="7"/><circle cx="647.1" cy="942.0" r="7"/><circle cx="226.0" cy="398.1" r="7"/><circle cx="965.7" cy="786.8" r="7"/><circle cx="273.7" cy="410.9" r="7"/><circle cx="716.2" cy="1003.8" r="7"/><circle cx="722.1" cy="1062.3" r="7"/><circle cx="404.2" cy="413.4" r="7"/><circle cx="648.4" cy="485.3" r="7"/><circle cx="967.0" cy="841.8" r="7"/><circle cx="750.4" cy="266.5" r="7"/><circle cx="762.3" cy="631.3" r="7"/><circle cx="383.4" cy="368.3" r="7"/><circle cx="1025.3" cy="266.7" r="7"/><circle cx="685.3" cy="706.1" r="7"/><circle cx="422.6" cy="387.4" r="7"/><circle cx="581.9" cy="1059.2" r="7"/><circle cx="1013.4" cy="477.8" r="7"/><circle cx="592.1" cy="561.3" r="7"/><circle cx="664.4" cy="1039.1" r="7"/><circle cx="616.3" cy="320.6" r="7"/><circle cx="1016.9" cy="271.9" r="7"/></g><g fill="#81b7d7"><circle cx="349.8" cy="491.6" r="7"/><circle cx="726.6" cy="1043.9" r="7"/><circle cx="337.1" cy="412.6" r="7"/><circle cx="270.2" cy="360.2" r="7"/><circle cx="347.2" cy="293.7" r="7"/><circle cx="415.2" cy="375.7" r="7"/><circle cx="949.2" cy="402.0" r="7"/><circle cx="903.8" cy="803.1" r="7"/><circle cx="320.7" cy="333.6" r="7"/><circle cx="685.3" cy="353.0" r="7"/><circle cx="539.3" cy="221.8" r="7"/><circle cx="525.0" cy="978.7" r="7"/><circle cx="609.2" cy="1030.3" r="7"/><circle cx="1021.8" cy="810.2" r="7"/><circle cx="469.4" cy="249.4" r="7"/></g><g fill="#86bad9"><circle cx="477.4" cy="765.2" r="7"/><circle cx="990.0" cy="422.9" r="7"/><circle cx="781.0" cy="274.5" r="7"/><circle cx="948.1" cy="916.1" r="7"/><circle cx="662.8" cy="229.3" r="7"/><circle cx="508.9" cy="970.1" r="7"/><circle cx="879.1" cy="825.5" r="7"/><circle cx="624.9" cy="265.8" r="7"/><circle cx="696.5" cy="258.6" r="7"/><circle cx="381.0" cy="276.0" r="7"/><circle cx="868.9" cy="839.0" r="7"/><circle cx="363.6" cy="305.2" r="7"/><circle cx="818.1" cy="932.1" r="7"/><circle cx="325.9" cy="374.6" r="7"/><circle cx="348.4" cy="334.7" r="7"/><circle cx="380.7" cy="414.1" r="7"/><circle cx="823.3" cy="952.0" r="7"/><circle cx="920.6" cy="910.1" r="7"/><circle cx="357.7" cy="362.2" r="7"/></g><g fill="#8cbedb"><circle cx="778.4" cy="625.6" r="7"/><circle cx="481.8" cy="233.6" r="7"/><circle cx="523.7" cy="926.1" r="7"/><circle cx="815.9" cy="834.5" r="7"/><circle cx="689.8" cy="307.8" r="7"/><circle cx="892.6" cy="864.2" r="7"/><circle cx="440.5" cy="385.0" r="7"/><circle cx="1038.4" cy="332.7" r="7"/><circle cx="632.8" cy="471.3" r="7"/><circle cx="489.7" cy="894.8" r="7"/><circle cx="656.3" cy="502.9" r="7"/><circle cx="245.3" cy="338.8" r="7"/></g><g fill="#92c1dd"><circle cx="882.1" cy="367.4" r="7"/><circle cx="910.0" cy="773.3" r="7"/><circle cx="615.0" cy="516.8" r="7"/><circle cx="785.1" cy="711.9" r="7"/><circle cx="1013.5" cy="480.4" r="7"/><circle cx="615.8" cy="906.0" r="7"/><circle cx="954.4" cy="783.9" r="7"/><circle cx="873.5" cy="622.7" r="7"/><circle cx="1029.3" cy="456.5" r="7"/><circle cx="427.1" cy="248.7" r="7"/><circle cx="613.2" cy="319.0" r="7"/><circle cx="834.9" cy="540.8" r="7"/><circle cx="584.9" cy="903.6" r="7"/><circle cx="979.4" cy="301.2" r="7"/><circle cx="827.5" cy="941.6" r="7"/></g><g fill="#97c5de"><circle cx="329.9" cy="305.8" r="7"/><circle cx="419.4" cy="324.4" r="7"/><circle cx="738.9" cy="869.5" r="7"/><circle cx="503.5" cy="257.5" r="7"/><circle cx="443.4" cy="317.3" r="7"/><circle cx="409.9" cy="323.2" r="7"/><circle cx="612.6" cy="518.2" r="7"/><circle cx="731.6" cy="262.5" r="7"/><circle cx="798.4" cy="854.7" r="7"/><circle cx="621.5" cy="295.5" r="7"/><circle cx="829.4" cy="281.9" r="7"/><circle cx="442.5" cy="418.3" r="7"/><circle cx="800.9" cy="863.9" r="7"/><circle cx="804.8" cy="794.2" r="7"/><circle cx="1029.3" cy="330.8" r="7"/><circle cx="519.1" cy="890.5" r="7"/><circle cx="593.3" cy="304.4" r="7"/><circle cx="937.6" cy="809.3" r="7"/><circle cx="818.5" cy="915.0" r="7"/></g><g fill="#9dc8e0"><circle cx="615.4" cy="519.1" r="7"/><circle cx="600.2" cy="560.6" r="7"/><circle cx="422.0" cy="310.3" r="7"/><circle cx="488.4" cy="730.2" r="7"/><circle cx="948.3" cy="834.3" r="7"/><circle cx="728.6" cy="251.8" r="7"/><circle cx="349.6" cy="276.8" r="7"/><circle cx="567.0" cy="427.0" r="7"/><circle cx="484.2" cy="739.5" r="7"/><circle cx="484.4" cy="235.8" r="7"/><circle cx="1009.5" cy="466.0" r="7"/><circle cx="696.0" cy="312.6" r="7"/><circle cx="414.9" cy="338.2" r="7"/><circle cx="780.3" cy="917.1" r="7"/><circle cx="384.5" cy="345.3" r="7"/><circle cx="373.1" cy="261.9" r="7"/><circle cx="770.8" cy="876.7" r="7"/><circle cx="650.1" cy="260.9" r="7"/><circle cx="722.0" cy="257.8" r="7"/><circle cx="721.3" cy="274.0" r="7"/><circle cx="894.9" cy="674.7" r="7"/><circle cx="875.9" cy="944.5" r="7"/><circle cx="580.8" cy="895.2" r="7"/><circle cx="762.0" cy="842.1" r="7"/></g><g fill="#a2cce2"><circle cx="383.7" cy="756.2" r="7"/><circle cx="719.2" cy="313.1" r="7"/><circle cx="449.0" cy="312.8" r="7"/><circle cx="839.7" cy="890.0" r="7"/><circle cx="796.6" cy="886.6" r="7"/><circle cx="520.1" cy="524.9" r="7"/><circle cx="533.9" cy="905.0" r="7"/><circle cx="1028.2" cy="323.4" r="7"/><circle cx="814.6" cy="847.5" r="7"/><circle cx="1062.4" cy="343.2" r="7"/><circle cx="430.4" cy="349.3" r="7"/><circle cx="697.2" cy="238.0" r="7"/><circle cx="521.8" cy="761.8" r="7"/><circle cx="910.8" cy="839.8" r="7"/></g><g fill="#a8cfe4"><circle cx="853.7" cy="509.8" r="7"/><circle cx="502.0" cy="918.2" r="7"/><circle cx="861.3" cy="939.7" r="7"/><circle cx="498.3" cy="295.7" r="7"/><circle cx="979.9" cy="325.3" r="7"/><circle cx="488.7" cy="319.3" r="7"/><circle cx="909.4" cy="401.1" r="7"/><circle cx="656.0" cy="510.3" r="7"/><circle cx="828.8" cy="854.5" r="7"/><circle cx="454.9" cy="313.9" r="7"/><circle cx="806.0" cy="914.3" r="7"/><circle cx="622.7" cy="465.1" r="7"/><circle cx="507.1" cy="276.0" r="7"/><circle cx="617.4" cy="432.7" r="7"/><circle cx="564.9" cy="308.6" r="7"/></g><g fill="#add3e6"><circle cx="928.9" cy="306.2" r="7"/><circle cx="428.1" cy="334.3" r="7"/><circle cx="912.3" cy="401.3" r="7"/><circle cx="737.4" cy="442.5" r="7"/><circle cx="573.9" cy="913.7" r="7"/><circle cx="783.8" cy="735.1" r="7"/><circle cx="770.0" cy="263.1" r="7"/><circle cx="743.1" cy="444.5" r="7"/><circle cx="550.7" cy="247.9" r="7"/><circle cx="605.1" cy="898.4" r="7"/><circle cx="683.1" cy="683.2" r="7"/><circle cx="903.6" cy="420.9" r="7"/><circle cx="1064.9" cy="471.9" r="7"/><circle cx="447.8" cy="324.6" r="7"/></g><g fill="#b3d6e8"><circle cx="875.6" cy="384.0" r="7"/><circle cx="494.2" cy="307.5" r="7"/><circle cx="455.0" cy="320.4" r="7"/><circle cx="492.2" cy="271.4" r="7"/><circle cx="1079.7" cy="511.6" r="7"/><circle cx="1060.5" cy="500.9" r="7"/><circle cx="811.6" cy="899.6" r="7"/><circle cx="891.8" cy="679.5" r="7"/><circle cx="890.0" cy="394.2" r="7"/><circle cx="736.7" cy="278.0" r="7"/></g><g fill="#b7d9e9"><circle cx="900.4" cy="298.1" r="7"/><circle cx="467.8" cy="340.0" r="7"/><circle cx="807.5" cy="327.2" r="7"/><circle cx="572.3" cy="526.1" r="7"/><circle cx="821.4" cy="281.1" r="7"/><circle cx="592.9" cy="499.1" r="7"/><circle cx="770.9" cy="410.6" r="7"/><circle cx="688.6" cy="466.2" r="7"/><circle cx="402.3" cy="338.6" r="7"/><circle cx="582.6" cy="492.2" r="7"/><circle cx="742.5" cy="292.7" r="7"/><circle cx="503.0" cy="276.9" r="7"/><circle cx="525.3" cy="794.1" r="7"/></g><g fill="#bcdbea"><circle cx="626.6" cy="727.4" r="7"/><circle cx="912.1" cy="655.6" r="7"/><circle cx="925.5" cy="643.0" r="7"/><circle cx="996.8" cy="830.0" r="7"/><circle cx="527.0" cy="549.9" r="7"/><circle cx="471.5" cy="295.6" r="7"/><circle cx="390.8" cy="285.9" r="7"/><circle cx="493.8" cy="276.5" r="7"/><circle cx="391.7" cy="741.4" r="7"/><circle cx="596.8" cy="497.3" r="7"/></g><g fill="#c0ddec"><circle cx="540.8" cy="266.7" r="7"/><circle cx="532.0" cy="267.7" r="7"/><circle cx="472.1" cy="290.6" r="7"/><circle cx="545.0" cy="465.7" r="7"/><circle cx="698.6" cy="284.6" r="7"/><circle cx="532.3" cy="429.0" r="7"/><circle cx="587.3" cy="452.2" r="7"/><circle cx="623.4" cy="768.8" r="7"/><circle cx="749.4" cy="844.2" r="7"/><circle cx="688.1" cy="727.6" r="7"/><circle cx="920.9" cy="630.6" r="7"/><circle cx="448.8" cy="349.6" r="7"/></g><g fill="#c4dfed"><circle cx="704.3" cy="883.9" r="7"/><circle cx="884.9" cy="802.1" r="7"/><circle cx="572.7" cy="512.1" r="7"/><circle cx="523.7" cy="520.9" r="7"/><circle cx="729.0" cy="457.4" r="7"/><circle cx="772.5" cy="439.8" r="7"/><circle cx="877.0" cy="522.6" r="7"/><circle cx="692.3" cy="686.0" r="7"/></g><g fill="#c9e2ee"><circle cx="1078.9" cy="509.5" r="7"/><circle cx="732.6" cy="770.7" r="7"/><circle cx="1058.5" cy="474.7" r="7"/><circle cx="751.3" cy="777.1" r="7"/><circle cx="535.7" cy="473.4" r="7"/></g><g fill="#cde4ef"><circle cx="939.7" cy="585.4" r="7"/><circle cx="950.8" cy="656.5" r="7"/><circle cx="474.6" cy="705.0" r="7"/><circle cx="718.1" cy="813.0" r="7"/></g><g fill="#d2e6f1"><circle cx="763.0" cy="686.2" r="7"/><circle cx="733.8" cy="805.2" r="7"/><circle cx="876.1" cy="410.3" r="7"/><circle cx="858.6" cy="534.6" r="7"/><circle cx="708.3" cy="886.1" r="7"/><circle cx="517.4" cy="504.1" r="7"/></g><g fill="#d6e8f2"><circle cx="870.2" cy="548.4" r="7"/><circle cx="795.3" cy="907.4" r="7"/><circle cx="541.2" cy="881.2" r="7"/><circle cx="585.5" cy="792.1" r="7"/><circle cx="563.7" cy="919.7" r="7"/><circle cx="678.2" cy="845.0" r="7"/><circle cx="796.5" cy="733.6" r="7"/></g><g fill="#daebf3"><circle cx="676.8" cy="884.5" r="7"/><circle cx="542.5" cy="529.7" r="7"/><circle cx="690.9" cy="867.1" r="7"/><circle cx="587.5" cy="823.6" r="7"/><circle cx="574.5" cy="510.6" r="7"/></g><g fill="#dfedf4"><circle cx="723.8" cy="737.8" r="7"/><circle cx="693.1" cy="847.9" r="7"/><circle cx="512.3" cy="508.5" r="7"/><circle cx="620.7" cy="711.4" r="7"/></g><g fill="#e1eef5"><circle cx="518.2" cy="496.8" r="7"/><circle cx="695.8" cy="868.9" r="7"/><circle cx="592.0" cy="448.3" r="7"/><circle cx="647.5" cy="722.8" r="7"/><circle cx="934.5" cy="659.6" r="7"/><circle cx="746.1" cy="747.7" r="7"/></g><g fill="#e4eff5"><circle cx="931.7" cy="662.0" r="7"/><circle cx="710.2" cy="866.0" r="7"/><circle cx="805.6" cy="853.2" r="7"/><circle cx="572.7" cy="831.5" r="7"/><circle cx="690.2" cy="845.8" r="7"/><circle cx="479.9" cy="707.0" r="7"/><circle cx="938.4" cy="643.6" r="7"/><circle cx="618.3" cy="835.9" r="7"/></g><g fill="#e7f1f6"><circle cx="552.9" cy="857.7" r="7"/><circle cx="972.3" cy="659.2" r="7"/><circle cx="635.9" cy="732.9" r="7"/></g><g fill="#eff4f7"><circle cx="688.2" cy="773.5" r="7"/><circle cx="759.6" cy="775.0" r="7"/></g><g fill="#f1f6f8"><circle cx="606.9" cy="821.5" r="7"/></g><g fill="#f4f7f8"><circle cx="693.9" cy="830.0" r="7"/></g><g fill="#f9f9f9"><circle cx="668.0" cy="826.4" r="7"/></g><g fill="#faf5f3"><circle cx="589.5" cy="756.0" r="7"/></g><g fill="#fad3c0"><circle cx="688.4" cy="743.9" r="7"/></g><g fill="#fceee5"><circle cx="671.5" cy="729.4" r="7"/></g><g fill="#fbf2ec"><circle cx="636.6" cy="701.8" r="7"/></g><g fill="#faf5f3"><circle cx="647.2" cy="822.7" r="7"/></g><g fill="#faf7f6"><circle cx="723.6" cy="786.3" r="7"/><circle cx="932.1" cy="594.8" r="7"/></g><g fill="#f7f8f9"><circle cx="653.2" cy="778.8" r="7"/></g><g fill="#f1f6f8"><circle cx="652.7" cy="763.5" r="7"/><circle cx="761.2" cy="765.5" r="7"/></g><g fill="#eff4f7"><circle cx="631.7" cy="867.3" r="7"/><circle cx="644.1" cy="733.1" r="7"/></g><g fill="#ecf3f7"><circle cx="653.2" cy="725.8" r="7"/></g><g fill="#e9f2f6"><circle cx="948.6" cy="496.5" r="7"/></g><g fill="#e7f1f6"><circle cx="945.1" cy="677.5" r="7"/><circle cx="982.7" cy="663.3" r="7"/><circle cx="968.2" cy="654.2" r="7"/></g><g fill="#e4eff5"><circle cx="365.0" cy="761.5" r="7"/><circle cx="971.4" cy="497.9" r="7"/><circle cx="648.5" cy="736.3" r="7"/></g><g fill="#e1eef5"><circle cx="677.0" cy="738.9" r="7"/></g><g fill="#dfedf4"><circle cx="686.1" cy="863.4" r="7"/><circle cx="667.3" cy="818.4" r="7"/></g><g fill="#daebf3"><circle cx="881.1" cy="589.9" r="7"/><circle cx="614.3" cy="749.3" r="7"/><circle cx="577.9" cy="862.4" r="7"/></g><g fill="#d6e8f2"><circle cx="793.6" cy="925.3" r="7"/><circle cx="906.0" cy="525.0" r="7"/><circle cx="658.3" cy="705.3" r="7"/><circle cx="731.7" cy="838.9" r="7"/><circle cx="570.3" cy="826.7" r="7"/><circle cx="667.9" cy="862.3" r="7"/></g><g fill="#d2e6f1"><circle cx="626.7" cy="783.4" r="7"/><circle cx="359.9" cy="723.0" r="7"/><circle cx="746.5" cy="793.6" r="7"/><circle cx="794.7" cy="810.6" r="7"/><circle cx="670.9" cy="692.5" r="7"/><circle cx="919.9" cy="681.1" r="7"/></g><g fill="#cde4ef"><circle cx="672.1" cy="797.0" r="7"/><circle cx="682.5" cy="785.3" r="7"/><circle cx="785.2" cy="761.6" r="7"/><circle cx="972.4" cy="416.0" r="7"/><circle cx="667.2" cy="880.3" r="7"/><circle cx="714.6" cy="880.5" r="7"/><circle cx="745.1" cy="743.4" r="7"/><circle cx="827.5" cy="318.0" r="7"/></g><g fill="#c9e2ee"><circle cx="787.2" cy="905.4" r="7"/><circle cx="350.4" cy="744.5" r="7"/><circle cx="280.1" cy="295.5" r="7"/><circle cx="722.9" cy="862.0" r="7"/><circle cx="693.1" cy="726.6" r="7"/></g><g fill="#c4dfed"><circle cx="866.6" cy="398.4" r="7"/><circle cx="885.1" cy="381.6" r="7"/><circle cx="606.9" cy="451.8" r="7"/><circle cx="692.5" cy="692.9" r="7"/><circle cx="536.2" cy="566.5" r="7"/><circle cx="627.5" cy="889.9" r="7"/><circle cx="601.4" cy="803.8" r="7"/><circle cx="397.3" cy="719.5" r="7"/></g><g fill="#c0ddec"><circle cx="519.7" cy="782.9" r="7"/><circle cx="656.8" cy="823.4" r="7"/><circle cx="932.3" cy="656.4" r="7"/><circle cx="741.8" cy="801.9" r="7"/><circle cx="598.7" cy="506.8" r="7"/><circle cx="914.0" cy="640.5" r="7"/><circle cx="665.3" cy="268.1" r="7"/><circle cx="593.7" cy="776.6" r="7"/><circle cx="594.8" cy="491.2" r="7"/></g><g fill="#bcdbea"><circle cx="943.3" cy="300.3" r="7"/><circle cx="747.6" cy="849.4" r="7"/><circle cx="515.6" cy="310.7" r="7"/><circle cx="887.9" cy="640.0" r="7"/><circle cx="690.1" cy="749.5" r="7"/><circle cx="735.8" cy="419.8" r="7"/><circle cx="565.5" cy="994.0" r="7"/><circle cx="462.2" cy="325.9" r="7"/><circle cx="567.3" cy="442.1" r="7"/><circle cx="929.8" cy="293.4" r="7"/><circle cx="924.1" cy="502.3" r="7"/><circle cx="810.1" cy="801.5" r="7"/><circle cx="572.7" cy="530.2" r="7"/><circle cx="621.8" cy="303.3" r="7"/></g><g fill="#b7d9e9"><circle cx="823.1" cy="843.0" r="7"/><circle cx="711.6" cy="708.5" r="7"/><circle cx="700.6" cy="714.9" r="7"/><circle cx="774.8" cy="413.7" r="7"/><circle cx="729.2" cy="841.8" r="7"/><circle cx="715.9" cy="772.4" r="7"/><circle cx="775.8" cy="779.0" r="7"/><circle cx="647.5" cy="244.0" r="7"/><circle cx="497.4" cy="281.2" r="7"/><circle cx="914.7" cy="418.2" r="7"/><circle cx="577.9" cy="292.8" r="7"/><circle cx="828.4" cy="531.2" r="7"/></g><g fill="#b3d6e8"><circle cx="451.8" cy="271.8" r="7"/><circle cx="981.2" cy="792.8" r="7"/><circle cx="746.2" cy="450.5" r="7"/><circle cx="630.9" cy="947.1" r="7"/><circle cx="453.8" cy="289.1" r="7"/><circle cx="618.1" cy="256.6" r="7"/><circle cx="845.7" cy="345.1" r="7"/><circle cx="564.0" cy="548.9" r="7"/><circle cx="557.2" cy="909.3" r="7"/><circle cx="491.6" cy="367.3" r="7"/><circle cx="453.4" cy="269.2" r="7"/><circle cx="736.0" cy="424.0" r="7"/><circle cx="1060.9" cy="339.0" r="7"/><circle cx="978.4" cy="414.2" r="7"/><circle cx="467.8" cy="308.6" r="7"/><circle cx="532.6" cy="788.9" r="7"/><circle cx="553.1" cy="922.2" r="7"/><circle cx="481.3" cy="304.0" r="7"/></g><g fill="#add3e6"><circle cx="520.9" cy="749.8" r="7"/><circle cx="412.6" cy="318.0" r="7"/><circle cx="859.9" cy="795.3" r="7"/><circle cx="611.2" cy="885.3" r="7"/><circle cx="627.5" cy="269.6" r="7"/><circle cx="414.7" cy="330.0" r="7"/><circle cx="953.5" cy="308.2" r="7"/><circle cx="859.6" cy="492.4" r="7"/><circle cx="790.4" cy="430.2" r="7"/><circle cx="541.0" cy="315.8" r="7"/><circle cx="810.7" cy="852.2" r="7"/><circle cx="666.6" cy="275.0" r="7"/><circle cx="734.5" cy="778.4" r="7"/></g><g fill="#a8cfe4"><circle cx="1043.2" cy="488.7" r="7"/><circle cx="464.9" cy="338.9" r="7"/><circle cx="702.6" cy="314.7" r="7"/><circle cx="514.9" cy="275.3" r="7"/><circle cx="648.2" cy="938.3" r="7"/><circle cx="511.1" cy="251.0" r="7"/><circle cx="428.5" cy="313.8" r="7"/><circle cx="675.7" cy="479.4" r="7"/><circle cx="615.9" cy="738.4" r="7"/><circle cx="910.3" cy="296.9" r="7"/><circle cx="385.4" cy="259.8" r="7"/><circle cx="400.4" cy="398.9" r="7"/><circle cx="710.0" cy="757.3" r="7"/></g><g fill="#a2cce2"><circle cx="434.0" cy="255.5" r="7"/><circle cx="775.1" cy="425.7" r="7"/><circle cx="431.9" cy="260.5" r="7"/><circle cx="323.4" cy="280.7" r="7"/><circle cx="920.1" cy="299.5" r="7"/><circle cx="988.9" cy="297.9" r="7"/><circle cx="763.5" cy="850.9" r="7"/><circle cx="437.2" cy="347.6" r="7"/><circle cx="599.1" cy="932.7" r="7"/><circle cx="610.7" cy="243.0" r="7"/><circle cx="1011.1" cy="802.1" r="7"/><circle cx="1064.6" cy="377.9" r="7"/><circle cx="885.2" cy="919.8" r="7"/><circle cx="506.0" cy="905.7" r="7"/><circle cx="821.9" cy="296.9" r="7"/><circle cx="910.2" cy="864.6" r="7"/><circle cx="684.8" cy="687.5" r="7"/><circle cx="315.7" cy="308.3" r="7"/></g><g fill="#9dc8e0"><circle cx="359.1" cy="756.2" r="7"/><circle cx="761.8" cy="736.5" r="7"/><circle cx="484.5" cy="338.1" r="7"/><circle cx="966.6" cy="797.6" r="7"/><circle cx="400.0" cy="325.8" r="7"/><circle cx="463.5" cy="259.5" r="7"/><circle cx="717.2" cy="234.4" r="7"/><circle cx="733.3" cy="241.1" r="7"/><circle cx="818.8" cy="829.6" r="7"/><circle cx="880.4" cy="890.7" r="7"/><circle cx="831.8" cy="849.6" r="7"/><circle cx="452.8" cy="739.2" r="7"/><circle cx="843.4" cy="543.9" r="7"/><circle cx="733.2" cy="236.5" r="7"/><circle cx="520.5" cy="426.9" r="7"/><circle cx="982.1" cy="305.6" r="7"/><circle cx="858.8" cy="850.0" r="7"/><circle cx="477.4" cy="233.1" r="7"/><circle cx="630.2" cy="518.8" r="7"/><circle cx="937.6" cy="413.9" r="7"/><circle cx="531.5" cy="555.7" r="7"/><circle cx="952.4" cy="789.9" r="7"/><circle cx="517.0" cy="773.2" r="7"/></g><g fill="#97c5de"><circle cx="330.9" cy="296.8" r="7"/><circle cx="1008.0" cy="440.1" r="7"/><circle cx="564.6" cy="255.4" r="7"/><circle cx="680.8" cy="221.9" r="7"/><circle cx="519.2" cy="742.1" r="7"/><circle cx="782.9" cy="271.4" r="7"/><circle cx="1021.9" cy="275.0" r="7"/><circle cx="533.3" cy="762.4" r="7"/><circle cx="819.0" cy="728.3" r="7"/><circle cx="696.4" cy="260.9" r="7"/><circle cx="665.0" cy="1024.9" r="7"/><circle cx="597.9" cy="915.5" r="7"/><circle cx="601.6" cy="228.5" r="7"/><circle cx="877.7" cy="855.8" r="7"/><circle cx="820.8" cy="913.6" r="7"/><circle cx="430.7" cy="315.9" r="7"/><circle cx="394.7" cy="352.2" r="7"/><circle cx="906.5" cy="785.5" r="7"/><circle cx="761.5" cy="884.0" r="7"/></g><g fill="#92c1dd"><circle cx="858.2" cy="852.3" r="7"/><circle cx="336.5" cy="322.4" r="7"/><circle cx="677.9" cy="314.1" r="7"/><circle cx="616.9" cy="889.0" r="7"/><circle cx="766.0" cy="265.1" r="7"/><circle cx="914.2" cy="924.5" r="7"/><circle cx="498.1" cy="977.4" r="7"/><circle cx="625.4" cy="274.0" r="7"/><circle cx="823.9" cy="290.9" r="7"/><circle cx="348.8" cy="327.6" r="7"/><circle cx="490.2" cy="405.4" r="7"/><circle cx="595.1" cy="247.3" r="7"/><circle cx="653.8" cy="274.8" r="7"/><circle cx="578.0" cy="413.4" r="7"/><circle cx="434.2" cy="246.0" r="7"/><circle cx="224.4" cy="386.9" r="7"/><circle cx="530.2" cy="307.6" r="7"/><circle cx="693.4" cy="445.6" r="7"/><circle cx="843.7" cy="904.8" r="7"/><circle cx="822.8" cy="787.3" r="7"/><circle cx="382.2" cy="314.5" r="7"/><circle cx="800.4" cy="329.2" r="7"/><circle cx="930.0" cy="308.1" r="7"/><circle cx="1022.3" cy="318.6" r="7"/><circle cx="366.3" cy="264.4" r="7"/></g><g fill="#8cbedb"><circle cx="907.1" cy="387.4" r="7"/><circle cx="503.4" cy="711.2" r="7"/><circle cx="920.5" cy="784.9" r="7"/><circle cx="1036.1" cy="275.3" r="7"/><circle cx="677.6" cy="693.4" r="7"/><circle cx="309.9" cy="339.2" r="7"/><circle cx="578.1" cy="949.0" r="7"/><circle cx="383.6" cy="273.6" r="7"/><circle cx="579.8" cy="991.9" r="7"/><circle cx="424.0" cy="364.5" r="7"/><circle cx="529.2" cy="333.3" r="7"/><circle cx="347.0" cy="327.3" r="7"/><circle cx="403.7" cy="331.8" r="7"/></g><g fill="#86bad9"><circle cx="532.2" cy="1022.8" r="7"/><circle cx="450.2" cy="266.0" r="7"/><circle cx="582.5" cy="561.0" r="7"/><circle cx="911.7" cy="683.8" r="7"/><circle cx="1073.2" cy="351.8" r="7"/><circle cx="634.1" cy="498.2" r="7"/><circle cx="748.0" cy="295.6" r="7"/><circle cx="735.1" cy="252.0" r="7"/><circle cx="414.8" cy="253.9" r="7"/><circle cx="460.4" cy="250.4" r="7"/><circle cx="874.2" cy="794.2" r="7"/><circle cx="350.9" cy="297.9" r="7"/><circle cx="873.2" cy="846.4" r="7"/><circle cx="839.1" cy="878.5" r="7"/><circle cx="279.7" cy="337.7" r="7"/><circle cx="374.7" cy="387.7" r="7"/><circle cx="889.2" cy="785.1" r="7"/><circle cx="919.5" cy="378.9" r="7"/><circle cx="886.7" cy="790.4" r="7"/></g><g fill="#81b7d7"><circle cx="383.2" cy="247.5" r="7"/><circle cx="594.7" cy="957.8" r="7"/><circle cx="610.9" cy="1006.8" r="7"/><circle cx="560.3" cy="969.8" r="7"/><circle cx="1012.3" cy="471.5" r="7"/><circle cx="1113.4" cy="492.3" r="7"/><circle cx="367.5" cy="347.3" r="7"/><circle cx="516.0" cy="745.6" r="7"/><circle cx="1105.3" cy="508.5" r="7"/><circle cx="808.6" cy="706.9" r="7"/><circle cx="490.2" cy="419.6" r="7"/><circle cx="612.8" cy="1061.0" r="7"/><circle cx="511.6" cy="206.8" r="7"/><circle cx="467.3" cy="255.4" r="7"/><circle cx="531.4" cy="439.2" r="7"/><circle cx="753.2" cy="254.9" r="7"/><circle cx="243.2" cy="407.5" r="7"/><circle cx="441.3" cy="223.6" r="7"/><circle cx="818.1" cy="295.0" r="7"/><circle cx="375.6" cy="348.2" r="7"/></g><g fill="#7bb3d5"><circle cx="535.2" cy="962.7" r="7"/><circle cx="581.0" cy="1022.8" r="7"/><circle cx="715.4" cy="1047.4" r="7"/><circle cx="291.9" cy="389.5" r="7"/><circle cx="307.0" cy="324.7" r="7"/><circle cx="1003.7" cy="791.3" r="7"/><circle cx="653.8" cy="1053.7" r="7"/><circle cx="611.3" cy="982.7" r="7"/><circle cx="517.9" cy="229.8" r="7"/><circle cx="374.2" cy="271.6" r="7"/><circle cx="892.5" cy="823.0" r="7"/><circle cx="963.8" cy="429.5" r="7"/><circle cx="349.6" cy="339.6" r="7"/><circle cx="503.9" cy="365.0" r="7"/><circle cx="626.7" cy="1063.5" r="7"/><circle cx="369.6" cy="519.4" r="7"/><circle cx="376.1" cy="266.4" r="7"/><circle cx="352.6" cy="541.9" r="7"/><circle cx="602.8" cy="1006.4" r="7"/><circle cx="567.0" cy="200.0" r="7"/><circle cx="280.6" cy="308.7" r="7"/><circle cx="727.4" cy="257.6" r="7"/><circle cx="1062.9" cy="453.2" r="7"/><circle cx="560.4" cy="951.1" r="7"/></g><g fill="#79b0d3"><circle cx="271.6" cy="408.4" r="7"/><circle cx="337.4" cy="518.0" r="7"/><circle cx="878.1" cy="901.6" r="7"/><circle cx="350.7" cy="329.8" r="7"/><circle cx="581.8" cy="979.8" r="7"/><circle cx="642.7" cy="1044.7" r="7"/><circle cx="517.6" cy="1000.3" r="7"/><circle cx="556.2" cy="413.1" r="7"/><circle cx="605.8" cy="920.8" r="7"/><circle cx="682.7" cy="375.8" r="7"/><circle cx="226.9" cy="402.9" r="7"/><circle cx="610.9" cy="975.9" r="7"/><circle cx="272.5" cy="351.4" r="7"/><circle cx="319.1" cy="414.9" r="7"/><circle cx="724.5" cy="625.9" r="7"/><circle cx="1004.0" cy="826.6" r="7"/><circle cx="561.0" cy="1060.7" r="7"/><circle cx="352.8" cy="409.5" r="7"/></g><g fill="#77add2"><circle cx="1006.9" cy="469.0" r="7"/><circle cx="1017.3" cy="449.1" r="7"/><circle cx="278.4" cy="371.7" r="7"/><circle cx="701.9" cy="1058.3" r="7"/><circle cx="278.1" cy="331.7" r="7"/><circle cx="321.5" cy="437.0" r="7"/><circle cx="975.4" cy="815.3" r="7"/><circle cx="837.4" cy="438.5" r="7"/><circle cx="995.5" cy="814.1" r="7"/><circle cx="348.8" cy="447.5" r="7"/><circle cx="984.4" cy="820.9" r="7"/></g><g fill="#74aad0"><circle cx="234.7" cy="326.1" r="7"/><circle cx="909.7" cy="879.4" r="7"/><circle cx="683.3" cy="995.0" r="7"/><circle cx="933.4" cy="848.1" r="7"/><circle cx="330.2" cy="411.2" r="7"/><circle cx="356.5" cy="555.6" r="7"/><circle cx="902.8" cy="908.5" r="7"/><circle cx="577.2" cy="1002.6" r="7"/><circle cx="740.1" cy="1034.3" r="7"/><circle cx="370.4" cy="362.7" r="7"/><circle cx="332.5" cy="364.6" r="7"/><circle cx="589.1" cy="994.1" r="7"/><circle cx="881.9" cy="887.2" r="7"/><circle cx="322.1" cy="422.4" r="7"/></g><g fill="#72a7cf"><circle cx="669.4" cy="998.7" r="7"/><circle cx="670.2" cy="1041.1" r="7"/><circle cx="372.8" cy="542.8" r="7"/><circle cx="332.6" cy="351.6" r="7"/><circle cx="359.0" cy="507.9" r="7"/><circle cx="251.4" cy="379.2" r="7"/><circle cx="929.9" cy="350.9" r="7"/><circle cx="609.7" cy="961.7" r="7"/><circle cx="776.1" cy="457.4" r="7"/><circle cx="332.3" cy="432.5" r="7"/><circle cx="288.8" cy="316.1" r="7"/><circle cx="762.4" cy="452.1" r="7"/><circle cx="737.2" cy="633.4" r="7"/><circle cx="725.8" cy="464.3" r="7"/><circle cx="539.8" cy="431.3" r="7"/><circle cx="572.7" cy="1056.0" r="7"/></g><g fill="#70a4cd"><circle cx="630.1" cy="1046.2" r="7"/><circle cx="613.2" cy="1069.0" r="7"/><circle cx="350.9" cy="557.6" r="7"/><circle cx="593.9" cy="922.9" r="7"/><circle cx="736.3" cy="1033.4" r="7"/><circle cx="354.4" cy="520.3" r="7"/><circle cx="995.6" cy="824.8" r="7"/><circle cx="934.6" cy="925.8" r="7"/><circle cx="914.3" cy="385.3" r="7"/><circle cx="508.0" cy="949.5" r="7"/></g><g fill="#6da0cb"><circle cx="297.2" cy="386.8" r="7"/><circle cx="690.1" cy="408.9" r="7"/><circle cx="324.8" cy="554.4" r="7"/><circle cx="771.7" cy="492.8" r="7"/><circle cx="566.0" cy="988.2" r="7"/><circle cx="988.8" cy="459.5" r="7"/><circle cx="323.6" cy="483.6" r="7"/></g><g fill="#6b9dca"><circle cx="391.3" cy="444.8" r="7"/><circle cx="294.1" cy="362.2" r="7"/><circle cx="390.5" cy="542.1" r="7"/><circle cx="959.5" cy="872.2" r="7"/><circle cx="770.8" cy="471.0" r="7"/><circle cx="593.2" cy="1033.6" r="7"/><circle cx="975.7" cy="853.0" r="7"/><circle cx="733.3" cy="454.9" r="7"/><circle cx="404.8" cy="810.0" r="7"/><circle cx="663.5" cy="509.1" r="7"/><circle cx="699.6" cy="676.7" r="7"/><circle cx="341.9" cy="475.1" r="7"/><circle cx="316.4" cy="374.6" r="7"/></g><g fill="#689ac8"><circle cx="715.1" cy="1066.6" r="7"/><circle cx="315.5" cy="496.0" r="7"/><circle cx="337.4" cy="402.9" r="7"/><circle cx="912.2" cy="324.1" r="7"/><circle cx="681.2" cy="951.6" r="7"/><circle cx="592.6" cy="1043.5" r="7"/><circle cx="764.3" cy="739.9" r="7"/></g><g fill="#6697c7"><circle cx="342.5" cy="801.0" r="7"/><circle cx="768.3" cy="537.7" r="7"/><circle cx="691.2" cy="466.7" r="7"/><circle cx="363.3" cy="805.0" r="7"/><circle cx="414.6" cy="798.2" r="7"/><circle cx="702.5" cy="396.8" r="7"/><circle cx="311.0" cy="452.8" r="7"/></g><g fill="#6494c5"><circle cx="323.1" cy="538.9" r="7"/><circle cx="349.9" cy="817.4" r="7"/><circle cx="325.9" cy="544.5" r="7"/><circle cx="789.3" cy="448.4" r="7"/><circle cx="317.7" cy="457.1" r="7"/></g><g fill="#6290c0"><circle cx="404.9" cy="541.0" r="7"/></g><g fill="#608cba"><circle cx="411.5" cy="857.5" r="7"/></g><g fill="#5e89b5"><circle cx="397.5" cy="834.2" r="7"/></g><g fill="#608cba"><circle cx="754.6" cy="511.4" r="7"/><circle cx="300.8" cy="490.1" r="7"/><circle cx="407.5" cy="819.1" r="7"/><circle cx="385.9" cy="834.2" r="7"/><circle cx="377.9" cy="834.5" r="7"/><circle cx="324.3" cy="535.4" r="7"/><circle cx="406.8" cy="816.6" r="7"/><circle cx="388.2" cy="800.7" r="7"/><circle cx="418.6" cy="824.4" r="7"/></g><g fill="#6290c0"><circle cx="329.1" cy="527.6" r="7"/><circle cx="393.9" cy="815.6" r="7"/><circle cx="765.7" cy="498.7" r="7"/><circle cx="323.0" cy="500.8" r="7"/><circle cx="673.7" cy="991.8" r="7"/><circle cx="400.4" cy="855.1" r="7"/></g><g fill="#6494c5"><circle cx="349.2" cy="805.1" r="7"/><circle cx="375.4" cy="828.0" r="7"/><circle cx="375.3" cy="833.1" r="7"/><circle cx="776.3" cy="529.7" r="7"/><circle cx="288.5" cy="493.5" r="7"/><circle cx="404.1" cy="820.6" r="7"/></g><g fill="#6697c7"><circle cx="748.7" cy="1042.1" r="7"/><circle cx="388.3" cy="793.5" r="7"/><circle cx="746.7" cy="501.8" r="7"/><circle cx="610.4" cy="1037.1" r="7"/><circle cx="654.3" cy="983.7" r="7"/></g><g fill="#689ac8"><circle cx="243.6" cy="378.1" r="7"/><circle cx="665.8" cy="1040.2" r="7"/><circle cx="351.0" cy="798.1" r="7"/><circle cx="329.4" cy="339.8" r="7"/><circle cx="651.3" cy="976.3" r="7"/><circle cx="326.3" cy="455.9" r="7"/><circle cx="752.8" cy="514.5" r="7"/><circle cx="739.4" cy="518.5" r="7"/><circle cx="627.9" cy="1056.7" r="7"/><circle cx="248.2" cy="381.3" r="7"/><circle cx="343.2" cy="794.1" r="7"/></g><g fill="#6b9dca"><circle cx="763.0" cy="488.5" r="7"/><circle cx="831.4" cy="563.7" r="7"/><circle cx="379.5" cy="818.2" r="7"/><circle cx="600.7" cy="1015.9" r="7"/><circle cx="659.9" cy="1024.2" r="7"/><circle cx="334.9" cy="462.7" r="7"/><circle cx="705.7" cy="1001.7" r="7"/></g><g fill="#6da0cb"><circle cx="608.4" cy="938.3" r="7"/><circle cx="535.5" cy="226.6" r="7"/><circle cx="259.4" cy="346.7" r="7"/><circle cx="292.7" cy="360.0" r="7"/><circle cx="366.1" cy="821.7" r="7"/><circle cx="346.6" cy="433.3" r="7"/><circle cx="703.6" cy="1050.0" r="7"/><circle cx="375.2" cy="786.5" r="7"/><circle cx="345.7" cy="428.0" r="7"/><circle cx="319.3" cy="487.6" r="7"/><circle cx="370.4" cy="536.5" r="7"/></g><g fill="#70a4cd"><circle cx="964.0" cy="875.5" r="7"/><circle cx="978.6" cy="788.3" r="7"/><circle cx="682.9" cy="1030.0" r="7"/><circle cx="383.7" cy="818.8" r="7"/><circle cx="937.3" cy="861.7" r="7"/><circle cx="695.7" cy="1053.1" r="7"/></g><g fill="#72a7cf"><circle cx="632.3" cy="935.4" r="7"/><circle cx="270.6" cy="357.2" r="7"/><circle cx="388.5" cy="294.1" r="7"/><circle cx="672.7" cy="381.6" r="7"/><circle cx="656.7" cy="966.8" r="7"/><circle cx="348.3" cy="570.5" r="7"/><circle cx="836.1" cy="432.6" r="7"/><circle cx="676.6" cy="369.7" r="7"/><circle cx="982.6" cy="827.7" r="7"/><circle cx="392.3" cy="796.7" r="7"/><circle cx="340.9" cy="405.6" r="7"/><circle cx="322.5" cy="395.1" r="7"/><circle cx="628.1" cy="939.3" r="7"/><circle cx="663.0" cy="1066.5" r="7"/><circle cx="628.7" cy="1054.5" r="7"/></g><g fill="#74aad0"><circle cx="677.0" cy="1074.0" r="7"/><circle cx="937.5" cy="909.6" r="7"/><circle cx="405.4" cy="479.0" r="7"/><circle cx="370.4" cy="576.6" r="7"/><circle cx="230.6" cy="388.9" r="7"/><circle cx="678.2" cy="1077.6" r="7"/><circle cx="941.4" cy="917.3" r="7"/><circle cx="456.2" cy="400.4" r="7"/><circle cx="875.2" cy="646.8" r="7"/><circle cx="572.2" cy="1024.6" r="7"/><circle cx="292.4" cy="392.9" r="7"/><circle cx="915.4" cy="319.3" r="7"/><circle cx="256.0" cy="330.3" r="7"/></g><g fill="#77add2"><circle cx="309.1" cy="487.5" r="7"/><circle cx="540.8" cy="441.9" r="7"/><circle cx="404.9" cy="774.7" r="7"/><circle cx="999.4" cy="471.4" r="7"/><circle cx="566.5" cy="213.7" r="7"/><circle cx="910.3" cy="791.2" r="7"/><circle cx="523.3" cy="961.4" r="7"/><circle cx="976.8" cy="797.8" r="7"/><circle cx="1058.8" cy="440.7" r="7"/><circle cx="937.6" cy="315.3" r="7"/><circle cx="418.1" cy="244.5" r="7"/><circle cx="847.3" cy="432.5" r="7"/><circle cx="684.8" cy="368.6" r="7"/><circle cx="609.2" cy="928.1" r="7"/><circle cx="774.1" cy="449.0" r="7"/><circle cx="704.5" cy="1035.2" r="7"/></g><g fill="#79b0d3"><circle cx="801.0" cy="618.5" r="7"/><circle cx="491.8" cy="718.7" r="7"/><circle cx="351.8" cy="437.0" r="7"/><circle cx="907.5" cy="876.2" r="7"/><circle cx="951.5" cy="838.2" r="7"/><circle cx="645.8" cy="517.4" r="7"/><circle cx="372.4" cy="268.1" r="7"/><circle cx="281.3" cy="359.8" r="7"/><circle cx="884.7" cy="916.7" r="7"/><circle cx="547.7" cy="306.0" r="7"/><circle cx="990.7" cy="780.9" r="7"/><circle cx="772.2" cy="533.6" r="7"/><circle cx="442.5" cy="230.6" r="7"/><circle cx="329.9" cy="437.0" r="7"/></g><g fill="#7bb3d5"><circle cx="520.2" cy="1025.1" r="7"/><circle cx="624.5" cy="1014.3" r="7"/><circle cx="939.7" cy="830.6" r="7"/><circle cx="687.0" cy="404.4" r="7"/><circle cx="667.0" cy="350.6" r="7"/><circle cx="1035.7" cy="459.7" r="7"/><circle cx="403.8" cy="359.0" r="7"/><circle cx="763.2" cy="874.8" r="7"/><circle cx="209.8" cy="408.8" r="7"/><circle cx="754.9" cy="259.5" r="7"/><circle cx="944.1" cy="318.5" r="7"/><circle cx="611.0" cy="1043.1" r="7"/><circle cx="436.9" cy="713.7" r="7"/></g><g fill="#81b7d7"><circle cx="672.8" cy="1044.7" r="7"/><circle cx="992.9" cy="433.0" r="7"/><circle cx="397.1" cy="418.6" r="7"/><circle cx="291.7" cy="332.4" r="7"/><circle cx="833.3" cy="944.3" r="7"/><circle cx="925.2" cy="788.0" r="7"/><circle cx="371.5" cy="339.1" r="7"/><circle cx="1004.3" cy="307.4" r="7"/><circle cx="829.9" cy="903.0" r="7"/><circle cx="446.6" cy="307.7" r="7"/><circle cx="688.0" cy="235.2" r="7"/><circle cx="796.7" cy="318.1" r="7"/><circle cx="910.2" cy="305.0" r="7"/><circle cx="730.7" cy="246.3" r="7"/><circle cx="822.2" cy="775.6" r="7"/></g><g fill="#86bad9"><circle cx="504.2" cy="701.9" r="7"/><circle cx="1026.2" cy="807.0" r="7"/><circle cx="493.5" cy="228.9" r="7"/><circle cx="388.6" cy="330.0" r="7"/><circle cx="1044.4" cy="284.6" r="7"/><circle cx="662.1" cy="317.9" r="7"/><circle cx="1013.2" cy="303.7" r="7"/><circle cx="252.6" cy="325.3" r="7"/><circle cx="629.4" cy="916.1" r="7"/><circle cx="635.7" cy="526.0" r="7"/><circle cx="616.4" cy="954.1" r="7"/><circle cx="630.1" cy="509.5" r="7"/><circle cx="369.1" cy="786.6" r="7"/><circle cx="657.5" cy="515.6" r="7"/><circle cx="913.5" cy="811.1" r="7"/><circle cx="1111.9" cy="488.2" r="7"/><circle cx="224.0" cy="424.6" r="7"/><circle cx="608.8" cy="981.8" r="7"/><circle cx="1058.1" cy="344.9" r="7"/><circle cx="838.5" cy="810.1" r="7"/><circle cx="1036.7" cy="484.2" r="7"/><circle cx="906.6" cy="928.1" r="7"/><circle cx="1025.9" cy="440.9" r="7"/></g><g fill="#8cbedb"><circle cx="970.2" cy="304.8" r="7"/><circle cx="355.2" cy="284.5" r="7"/><circle cx="830.8" cy="873.0" r="7"/><circle cx="711.5" cy="673.4" r="7"/><circle cx="456.5" cy="411.1" r="7"/><circle cx="761.9" cy="690.0" r="7"/><circle cx="614.1" cy="933.3" r="7"/><circle cx="739.7" cy="260.9" r="7"/><circle cx="498.1" cy="360.9" r="7"/><circle cx="786.7" cy="278.8" r="7"/><circle cx="532.5" cy="973.5" r="7"/><circle cx="693.2" cy="467.4" r="7"/><circle cx="653.3" cy="466.0" r="7"/><circle cx="445.9" cy="236.7" r="7"/><circle cx="514.0" cy="945.6" r="7"/><circle cx="223.7" cy="379.3" r="7"/><circle cx="619.7" cy="907.9" r="7"/><circle cx="626.6" cy="271.8" r="7"/><circle cx="381.3" cy="283.2" r="7"/><circle cx="430.4" cy="280.9" r="7"/><circle cx="817.5" cy="836.5" r="7"/><circle cx="478.0" cy="229.5" r="7"/></g><g fill="#92c1dd"><circle cx="651.7" cy="496.4" r="7"/><circle cx="504.8" cy="738.5" r="7"/><circle cx="451.8" cy="743.8" r="7"/><circle cx="1064.4" cy="360.3" r="7"/><circle cx="371.3" cy="305.0" r="7"/><circle cx="791.8" cy="677.0" r="7"/><circle cx="816.4" cy="297.5" r="7"/><circle cx="787.3" cy="684.2" r="7"/><circle cx="474.7" cy="250.9" r="7"/><circle cx="701.7" cy="240.7" r="7"/><circle cx="207.5" cy="413.2" r="7"/><circle cx="328.2" cy="308.3" r="7"/><circle cx="557.3" cy="241.6" r="7"/><circle cx="696.1" cy="462.8" r="7"/><circle cx="550.0" cy="229.0" r="7"/><circle cx="536.9" cy="332.0" r="7"/><circle cx="502.6" cy="716.2" r="7"/><circle cx="391.5" cy="263.0" r="7"/><circle cx="913.0" cy="826.7" r="7"/><circle cx="424.6" cy="369.5" r="7"/><circle cx="446.7" cy="293.0" r="7"/></g><g fill="#97c5de"><circle cx="457.3" cy="301.1" r="7"/><circle cx="437.7" cy="272.9" r="7"/><circle cx="791.2" cy="710.7" r="7"/><circle cx="750.3" cy="881.5" r="7"/><circle cx="669.9" cy="243.7" r="7"/><circle cx="416.4" cy="282.3" r="7"/><circle cx="882.2" cy="835.5" r="7"/><circle cx="908.6" cy="801.8" r="7"/><circle cx="520.9" cy="252.7" r="7"/><circle cx="679.5" cy="453.8" r="7"/><circle cx="708.3" cy="661.7" r="7"/><circle cx="787.5" cy="633.0" r="7"/><circle cx="596.6" cy="886.9" r="7"/><circle cx="487.1" cy="338.0" r="7"/><circle cx="619.5" cy="895.4" r="7"/><circle cx="608.5" cy="295.3" r="7"/><circle cx="597.8" cy="897.3" r="7"/><circle cx="891.1" cy="674.8" r="7"/></g><g fill="#9dc8e0"><circle cx="794.8" cy="956.9" r="7"/><circle cx="753.9" cy="871.0" r="7"/><circle cx="315.9" cy="322.3" r="7"/><circle cx="915.2" cy="823.9" r="7"/><circle cx="908.4" cy="780.0" r="7"/><circle cx="748.6" cy="316.1" r="7"/><circle cx="1087.2" cy="487.4" r="7"/><circle cx="1010.8" cy="278.5" r="7"/><circle cx="535.1" cy="233.8" r="7"/><circle cx="554.1" cy="962.9" r="7"/><circle cx="1002.6" cy="314.1" r="7"/><circle cx="403.3" cy="263.4" r="7"/><circle cx="472.8" cy="754.5" r="7"/><circle cx="362.8" cy="343.5" r="7"/><circle cx="723.8" cy="241.2" r="7"/><circle cx="468.7" cy="242.6" r="7"/><circle cx="563.2" cy="1017.8" r="7"/><circle cx="456.8" cy="737.9" r="7"/><circle cx="450.9" cy="366.2" r="7"/></g><g fill="#a2cce2"><circle cx="405.7" cy="301.3" r="7"/><circle cx="801.3" cy="958.0" r="7"/><circle cx="742.7" cy="711.5" r="7"/><circle cx="366.7" cy="291.9" r="7"/><circle cx="801.7" cy="934.2" r="7"/><circle cx="622.4" cy="509.1" r="7"/><circle cx="400.7" cy="759.5" r="7"/><circle cx="520.7" cy="423.6" r="7"/><circle cx="948.1" cy="794.4" r="7"/><circle cx="946.0" cy="299.6" r="7"/><circle cx="596.0" cy="301.7" r="7"/><circle cx="559.9" cy="290.8" r="7"/><circle cx="878.2" cy="840.2" r="7"/><circle cx="556.9" cy="941.6" r="7"/><circle cx="380.3" cy="253.0" r="7"/></g><g fill="#a8cfe4"><circle cx="636.5" cy="459.2" r="7"/><circle cx="933.0" cy="678.2" r="7"/><circle cx="1079.4" cy="479.6" r="7"/><circle cx="973.8" cy="435.6" r="7"/><circle cx="482.8" cy="328.1" r="7"/><circle cx="821.0" cy="786.2" r="7"/><circle cx="613.3" cy="245.4" r="7"/><circle cx="507.5" cy="248.6" r="7"/><circle cx="842.0" cy="889.7" r="7"/><circle cx="776.7" cy="813.2" r="7"/><circle cx="824.7" cy="296.2" r="7"/><circle cx="1037.7" cy="486.4" r="7"/><circle cx="826.6" cy="804.8" r="7"/><circle cx="416.4" cy="267.6" r="7"/><circle cx="924.2" cy="426.6" r="7"/><circle cx="633.3" cy="238.4" r="7"/><circle cx="796.2" cy="920.3" r="7"/><circle cx="603.8" cy="309.1" r="7"/><circle cx="492.1" cy="290.2" r="7"/><circle cx="547.3" cy="438.7" r="7"/></g><g fill="#add3e6"><circle cx="451.6" cy="323.8" r="7"/><circle cx="825.4" cy="786.5" r="7"/><circle cx="595.5" cy="877.2" r="7"/><circle cx="560.1" cy="933.2" r="7"/><circle cx="794.4" cy="314.0" r="7"/><circle cx="803.7" cy="950.5" r="7"/><circle cx="865.0" cy="380.1" r="7"/><circle cx="780.5" cy="314.9" r="7"/><circle cx="554.1" cy="484.0" r="7"/><circle cx="611.2" cy="560.4" r="7"/><circle cx="475.3" cy="292.5" r="7"/><circle cx="519.1" cy="522.3" r="7"/><circle cx="661.2" cy="727.6" r="7"/><circle cx="490.5" cy="287.0" r="7"/></g><g fill="#b3d6e8"><circle cx="754.2" cy="298.3" r="7"/><circle cx="588.8" cy="439.7" r="7"/><circle cx="794.7" cy="277.9" r="7"/><circle cx="734.1" cy="245.2" r="7"/><circle cx="380.8" cy="293.9" r="7"/><circle cx="445.4" cy="288.1" r="7"/><circle cx="559.4" cy="261.5" r="7"/><circle cx="696.7" cy="712.3" r="7"/><circle cx="428.7" cy="341.0" r="7"/><circle cx="719.2" cy="298.1" r="7"/><circle cx="782.6" cy="843.0" r="7"/><circle cx="419.1" cy="718.1" r="7"/></g><g fill="#b7d9e9"><circle cx="691.7" cy="813.9" r="7"/><circle cx="880.1" cy="408.5" r="7"/><circle cx="675.3" cy="698.0" r="7"/><circle cx="495.5" cy="298.9" r="7"/><circle cx="784.9" cy="808.8" r="7"/><circle cx="884.3" cy="792.6" r="7"/><circle cx="807.2" cy="755.5" r="7"/></g><g fill="#bcdbea"><circle cx="597.5" cy="463.5" r="7"/><circle cx="586.8" cy="534.0" r="7"/><circle cx="780.4" cy="783.8" r="7"/><circle cx="604.2" cy="916.3" r="7"/><circle cx="590.7" cy="514.3" r="7"/><circle cx="792.4" cy="810.9" r="7"/><circle cx="1063.2" cy="370.0" r="7"/></g><g fill="#c0ddec"><circle cx="582.9" cy="455.7" r="7"/><circle cx="859.1" cy="542.3" r="7"/><circle cx="588.8" cy="489.7" r="7"/><circle cx="477.7" cy="714.2" r="7"/></g><g fill="#c4dfed"><circle cx="541.4" cy="263.0" r="7"/><circle cx="886.7" cy="513.3" r="7"/><circle cx="881.0" cy="380.6" r="7"/></g><g fill="#c9e2ee"><circle cx="917.0" cy="659.3" r="7"/><circle cx="949.5" cy="824.4" r="7"/><circle cx="586.0" cy="298.5" r="7"/><circle cx="870.8" cy="512.2" r="7"/><circle cx="890.6" cy="510.1" r="7"/><circle cx="708.8" cy="868.7" r="7"/><circle cx="620.1" cy="838.5" r="7"/><circle cx="707.4" cy="435.7" r="7"/><circle cx="802.2" cy="298.7" r="7"/></g><g fill="#cde4ef"><circle cx="569.5" cy="509.4" r="7"/><circle cx="778.0" cy="903.1" r="7"/><circle cx="528.7" cy="267.8" r="7"/><circle cx="603.4" cy="809.8" r="7"/><circle cx="682.3" cy="727.5" r="7"/><circle cx="651.1" cy="876.2" r="7"/><circle cx="871.9" cy="383.2" r="7"/><circle cx="690.2" cy="676.7" r="7"/><circle cx="1091.5" cy="501.5" r="7"/><circle cx="551.4" cy="469.5" r="7"/><circle cx="533.6" cy="312.9" r="7"/></g><g fill="#d2e6f1"><circle cx="955.5" cy="683.0" r="7"/><circle cx="772.6" cy="830.4" r="7"/><circle cx="650.8" cy="736.6" r="7"/><circle cx="620.6" cy="866.4" r="7"/><circle cx="633.2" cy="811.1" r="7"/></g><g fill="#d6e8f2"><circle cx="654.8" cy="875.3" r="7"/><circle cx="886.3" cy="391.0" r="7"/><circle cx="724.6" cy="746.9" r="7"/><circle cx="648.6" cy="830.5" r="7"/><circle cx="649.8" cy="707.2" r="7"/></g><g fill="#daebf3"><circle cx="938.5" cy="494.5" r="7"/><circle cx="709.4" cy="708.9" r="7"/><circle cx="537.5" cy="488.4" r="7"/><circle cx="662.7" cy="832.4" r="7"/><circle cx="590.3" cy="802.5" r="7"/><circle cx="776.8" cy="788.1" r="7"/><circle cx="556.2" cy="826.9" r="7"/><circle cx="688.6" cy="730.5" r="7"/></g><g fill="#dfedf4"><circle cx="583.9" cy="758.9" r="7"/><circle cx="1033.1" cy="343.8" r="7"/><circle cx="596.3" cy="839.2" r="7"/><circle cx="598.7" cy="834.8" r="7"/><circle cx="752.7" cy="761.2" r="7"/><circle cx="946.9" cy="649.8" r="7"/></g><g fill="#e1eef5"><circle cx="653.2" cy="872.8" r="7"/><circle cx="639.1" cy="742.2" r="7"/><circle cx="537.7" cy="524.4" r="7"/><circle cx="689.1" cy="875.8" r="7"/><circle cx="974.3" cy="661.7" r="7"/><circle cx="976.2" cy="647.2" r="7"/><circle cx="612.7" cy="796.5" r="7"/><circle cx="972.5" cy="490.7" r="7"/></g><g fill="#e4eff5"><circle cx="522.3" cy="497.7" r="7"/><circle cx="540.1" cy="501.3" r="7"/><circle cx="688.2" cy="810.4" r="7"/><circle cx="722.2" cy="836.4" r="7"/></g><g fill="#e7f1f6"><circle cx="669.7" cy="838.2" r="7"/></g><g fill="#e9f2f6"><circle cx="636.2" cy="712.5" r="7"/></g><g fill="#ecf3f7"><circle cx="968.0" cy="647.9" r="7"/><circle cx="683.5" cy="718.2" r="7"/></g><g fill="#eff4f7"><circle cx="912.1" cy="596.4" r="7"/></g><g fill="#f7f8f9"><circle cx="713.8" cy="751.3" r="7"/><circle cx="663.4" cy="762.5" r="7"/><circle cx="597.0" cy="755.6" r="7"/></g><g fill="#f9f9f9"><circle cx="620.3" cy="800.1" r="7"/></g><g fill="#faf5f3"><circle cx="936.9" cy="503.5" r="7"/></g><g fill="#fbf4ef"><circle cx="655.4" cy="828.8" r="7"/></g><g fill="#fbf2ec"><circle cx="574.5" cy="827.4" r="7"/></g><g fill="#f4f7f8"><circle cx="682.3" cy="732.4" r="7"/></g><g fill="#ecf3f7"><circle cx="630.4" cy="770.6" r="7"/><circle cx="699.1" cy="766.0" r="7"/><circle cx="675.2" cy="801.2" r="7"/></g><g fill="#e9f2f6"><circle cx="647.9" cy="728.0" r="7"/><circle cx="646.0" cy="805.0" r="7"/><circle cx="649.3" cy="762.0" r="7"/></g><g fill="#e7f1f6"><circle cx="563.8" cy="834.2" r="7"/></g><g fill="#e4eff5"><circle cx="956.5" cy="664.3" r="7"/></g><g fill="#e1eef5"><circle cx="680.1" cy="710.0" r="7"/><circle cx="966.9" cy="663.2" r="7"/><circle cx="710.3" cy="851.4" r="7"/><circle cx="696.1" cy="755.5" r="7"/><circle cx="748.9" cy="825.8" r="7"/><circle cx="971.8" cy="672.2" r="7"/><circle cx="686.2" cy="816.2" r="7"/><circle cx="663.5" cy="863.8" r="7"/><circle cx="956.1" cy="643.9" r="7"/><circle cx="646.3" cy="718.2" r="7"/></g><g fill="#dfedf4"><circle cx="634.0" cy="813.1" r="7"/><circle cx="551.3" cy="496.5" r="7"/><circle cx="585.0" cy="851.0" r="7"/><circle cx="669.4" cy="814.9" r="7"/><circle cx="650.6" cy="758.7" r="7"/></g><g fill="#daebf3"><circle cx="560.8" cy="845.0" r="7"/><circle cx="671.5" cy="794.5" r="7"/><circle cx="619.3" cy="736.1" r="7"/><circle cx="633.4" cy="838.5" r="7"/></g><g fill="#d6e8f2"><circle cx="944.6" cy="655.0" r="7"/><circle cx="655.3" cy="833.0" r="7"/><circle cx="924.4" cy="490.1" r="7"/><circle cx="702.1" cy="661.4" r="7"/><circle cx="518.2" cy="478.1" r="7"/></g><g fill="#d2e6f1"><circle cx="476.2" cy="304.7" r="7"/><circle cx="896.2" cy="630.5" r="7"/><circle cx="956.0" cy="638.6" r="7"/><circle cx="562.5" cy="843.1" r="7"/><circle cx="765.8" cy="830.7" r="7"/></g><g fill="#cde4ef"><circle cx="692.0" cy="702.6" r="7"/><circle cx="865.3" cy="528.5" r="7"/><circle cx="426.7" cy="288.4" r="7"/><circle cx="866.6" cy="549.2" r="7"/><circle cx="762.0" cy="740.6" r="7"/><circle cx="916.6" cy="645.2" r="7"/><circle cx="799.9" cy="813.5" r="7"/><circle cx="720.0" cy="820.4" r="7"/><circle cx="553.6" cy="493.4" r="7"/><circle cx="619.9" cy="791.1" r="7"/><circle cx="1089.3" cy="472.9" r="7"/><circle cx="707.6" cy="742.4" r="7"/><circle cx="543.7" cy="473.1" r="7"/><circle cx="757.5" cy="415.9" r="7"/></g><g fill="#c9e2ee"><circle cx="724.7" cy="811.6" r="7"/><circle cx="448.9" cy="269.0" r="7"/><circle cx="747.1" cy="789.3" r="7"/><circle cx="963.4" cy="420.5" r="7"/><circle cx="435.0" cy="264.5" r="7"/><circle cx="685.0" cy="693.7" r="7"/><circle cx="607.3" cy="281.0" r="7"/><circle cx="357.9" cy="735.4" r="7"/><circle cx="556.6" cy="872.6" r="7"/><circle cx="508.4" cy="513.7" r="7"/><circle cx="677.3" cy="762.6" r="7"/><circle cx="567.6" cy="491.7" r="7"/></g><g fill="#c4dfed"><circle cx="596.7" cy="278.2" r="7"/><circle cx="603.6" cy="256.4" r="7"/><circle cx="734.3" cy="841.8" r="7"/><circle cx="446.7" cy="327.3" r="7"/><circle cx="684.1" cy="756.3" r="7"/><circle cx="538.4" cy="337.1" r="7"/><circle cx="682.7" cy="654.9" r="7"/><circle cx="484.7" cy="278.7" r="7"/></g><g fill="#c0ddec"><circle cx="942.6" cy="659.5" r="7"/><circle cx="909.5" cy="488.1" r="7"/><circle cx="485.0" cy="267.6" r="7"/><circle cx="787.1" cy="955.8" r="7"/><circle cx="715.2" cy="424.6" r="7"/><circle cx="532.3" cy="752.3" r="7"/><circle cx="383.2" cy="735.0" r="7"/><circle cx="930.0" cy="658.3" r="7"/><circle cx="421.1" cy="718.8" r="7"/><circle cx="717.9" cy="775.0" r="7"/><circle cx="915.6" cy="405.9" r="7"/><circle cx="772.6" cy="835.6" r="7"/><circle cx="749.3" cy="864.9" r="7"/></g><g fill="#bcdbea"><circle cx="761.5" cy="761.6" r="7"/><circle cx="919.1" cy="637.5" r="7"/><circle cx="612.3" cy="449.9" r="7"/><circle cx="780.4" cy="816.3" r="7"/><circle cx="731.8" cy="865.4" r="7"/><circle cx="514.4" cy="247.3" r="7"/><circle cx="784.8" cy="318.7" r="7"/><circle cx="609.2" cy="540.7" r="7"/><circle cx="403.5" cy="719.9" r="7"/><circle cx="291.1" cy="301.8" r="7"/></g><g fill="#b7d9e9"><circle cx="441.3" cy="270.4" r="7"/><circle cx="575.9" cy="545.5" r="7"/><circle cx="493.7" cy="312.5" r="7"/><circle cx="550.6" cy="520.1" r="7"/><circle cx="579.0" cy="758.3" r="7"/><circle cx="1004.8" cy="312.0" r="7"/><circle cx="587.7" cy="536.5" r="7"/><circle cx="361.7" cy="752.4" r="7"/></g><g fill="#b3d6e8"><circle cx="452.3" cy="295.9" r="7"/><circle cx="620.9" cy="306.8" r="7"/><circle cx="910.2" cy="414.2" r="7"/><circle cx="801.0" cy="914.0" r="7"/><circle cx="454.8" cy="305.1" r="7"/><circle cx="975.7" cy="419.0" r="7"/><circle cx="735.5" cy="709.6" r="7"/><circle cx="601.2" cy="481.8" r="7"/><circle cx="696.6" cy="683.1" r="7"/><circle cx="620.0" cy="501.4" r="7"/><circle cx="750.8" cy="442.5" r="7"/><circle cx="1056.4" cy="474.2" r="7"/><circle cx="982.5" cy="319.6" r="7"/></g><g fill="#add3e6"><circle cx="909.8" cy="852.8" r="7"/><circle cx="633.9" cy="460.4" r="7"/><circle cx="946.8" cy="308.0" r="7"/><circle cx="911.8" cy="525.7" r="7"/><circle cx="772.4" cy="814.2" r="7"/><circle cx="1071.1" cy="481.4" r="7"/><circle cx="637.7" cy="493.2" r="7"/><circle cx="900.2" cy="940.1" r="7"/><circle cx="545.0" cy="920.1" r="7"/><circle cx="580.8" cy="445.2" r="7"/><circle cx="541.9" cy="915.3" r="7"/><circle cx="808.5" cy="911.2" r="7"/><circle cx="525.5" cy="893.1" r="7"/><circle cx="487.1" cy="322.3" r="7"/><circle cx="574.2" cy="461.5" r="7"/></g><g fill="#a8cfe4"><circle cx="432.7" cy="262.5" r="7"/><circle cx="770.1" cy="824.0" r="7"/><circle cx="860.5" cy="595.4" r="7"/><circle cx="1048.8" cy="485.3" r="7"/><circle cx="539.4" cy="334.9" r="7"/><circle cx="740.3" cy="425.5" r="7"/><circle cx="485.3" cy="297.9" r="7"/><circle cx="434.2" cy="257.8" r="7"/><circle cx="725.1" cy="295.9" r="7"/><circle cx="607.5" cy="321.7" r="7"/><circle cx="669.2" cy="246.4" r="7"/><circle cx="778.1" cy="860.9" r="7"/><circle cx="600.0" cy="246.6" r="7"/><circle cx="215.9" cy="433.0" r="7"/></g><g fill="#a2cce2"><circle cx="296.7" cy="316.1" r="7"/><circle cx="466.1" cy="710.5" r="7"/><circle cx="826.2" cy="722.8" r="7"/><circle cx="595.4" cy="307.9" r="7"/><circle cx="882.4" cy="786.5" r="7"/><circle cx="734.8" cy="456.1" r="7"/><circle cx="813.9" cy="899.5" r="7"/><circle cx="438.4" cy="309.8" r="7"/><circle cx="547.8" cy="292.8" r="7"/><circle cx="730.7" cy="650.4" r="7"/><circle cx="433.2" cy="729.0" r="7"/><circle cx="548.6" cy="912.6" r="7"/><circle cx="958.6" cy="414.2" r="7"/><circle cx="576.4" cy="479.7" r="7"/><circle cx="376.3" cy="328.0" r="7"/><circle cx="338.3" cy="318.3" r="7"/><circle cx="564.9" cy="264.9" r="7"/><circle cx="635.6" cy="503.5" r="7"/><circle cx="837.7" cy="908.4" r="7"/><circle cx="637.5" cy="918.5" r="7"/></g><g fill="#9dc8e0"><circle cx="494.5" cy="380.7" r="7"/><circle cx="806.7" cy="761.8" r="7"/><circle cx="906.0" cy="677.9" r="7"/><circle cx="554.0" cy="946.5" r="7"/><circle cx="682.9" cy="669.5" r="7"/><circle cx="827.3" cy="879.8" r="7"/><circle cx="537.0" cy="779.0" r="7"/><circle cx="801.1" cy="917.3" r="7"/><circle cx="926.1" cy="897.7" r="7"/><circle cx="654.9" cy="498.6" r="7"/><circle cx="466.8" cy="732.9" r="7"/><circle cx="500.1" cy="965.6" r="7"/><circle cx="742.8" cy="740.9" r="7"/><circle cx="693.8" cy="656.3" r="7"/><circle cx="952.3" cy="302.4" r="7"/><circle cx="1089.0" cy="484.2" r="7"/><circle cx="551.1" cy="325.4" r="7"/><circle cx="625.2" cy="221.5" r="7"/><circle cx="578.1" cy="402.5" r="7"/><circle cx="500.8" cy="269.1" r="7"/><circle cx="559.6" cy="809.6" r="7"/></g><g fill="#97c5de"><circle cx="805.7" cy="757.0" r="7"/><circle cx="877.8" cy="622.2" r="7"/><circle cx="437.7" cy="255.7" r="7"/><circle cx="743.9" cy="674.7" r="7"/><circle cx="544.6" cy="936.6" r="7"/><circle cx="552.5" cy="951.3" r="7"/><circle cx="474.7" cy="248.8" r="7"/><circle cx="771.4" cy="631.0" r="7"/><circle cx="921.4" cy="820.0" r="7"/><circle cx="785.1" cy="848.1" r="7"/><circle cx="414.1" cy="304.5" r="7"/><circle cx="1004.6" cy="470.1" r="7"/><circle cx="539.3" cy="324.9" r="7"/><circle cx="492.2" cy="371.1" r="7"/><circle cx="824.4" cy="769.6" r="7"/><circle cx="752.8" cy="316.1" r="7"/><circle cx="594.0" cy="1013.7" r="7"/><circle cx="840.9" cy="906.8" r="7"/></g><g fill="#92c1dd"><circle cx="375.7" cy="432.3" r="7"/><circle cx="693.6" cy="272.1" r="7"/><circle cx="410.2" cy="258.3" r="7"/><circle cx="348.8" cy="266.5" r="7"/><circle cx="827.8" cy="903.5" r="7"/><circle cx="668.1" cy="439.2" r="7"/><circle cx="372.9" cy="251.9" r="7"/><circle cx="1025.8" cy="481.1" r="7"/><circle cx="641.3" cy="924.4" r="7"/><circle cx="535.1" cy="911.6" r="7"/><circle cx="369.9" cy="248.8" r="7"/><circle cx="677.5" cy="269.5" r="7"/><circle cx="498.0" cy="351.9" r="7"/></g><g fill="#8cbedb"><circle cx="667.9" cy="291.1" r="7"/><circle cx="1008.4" cy="478.6" r="7"/><circle cx="910.3" cy="837.3" r="7"/><circle cx="834.3" cy="506.5" r="7"/><circle cx="287.4" cy="372.3" r="7"/><circle cx="814.5" cy="861.0" r="7"/><circle cx="834.3" cy="811.3" r="7"/><circle cx="470.7" cy="325.4" r="7"/><circle cx="975.6" cy="443.1" r="7"/><circle cx="547.5" cy="947.9" r="7"/><circle cx="668.6" cy="262.8" r="7"/><circle cx="795.3" cy="943.3" r="7"/><circle cx="520.2" cy="875.5" r="7"/><circle cx="882.3" cy="791.8" r="7"/><circle cx="807.1" cy="431.6" r="7"/><circle cx="283.9" cy="335.1" r="7"/><circle cx="1025.2" cy="286.5" r="7"/><circle cx="363.0" cy="504.1" r="7"/><circle cx="399.4" cy="240.8" r="7"/><circle cx="975.1" cy="319.8" r="7"/></g><g fill="#86bad9"><circle cx="707.0" cy="650.7" r="7"/><circle cx="946.2" cy="322.6" r="7"/><circle cx="956.6" cy="790.8" r="7"/><circle cx="841.1" cy="339.0" r="7"/><circle cx="611.2" cy="1004.3" r="7"/><circle cx="726.9" cy="646.1" r="7"/><circle cx="570.7" cy="909.3" r="7"/><circle cx="621.2" cy="911.9" r="7"/><circle cx="705.9" cy="312.3" r="7"/><circle cx="352.9" cy="388.2" r="7"/><circle cx="950.8" cy="895.9" r="7"/><circle cx="847.5" cy="846.6" r="7"/><circle cx="835.4" cy="922.2" r="7"/><circle cx="873.4" cy="867.0" r="7"/><circle cx="796.3" cy="745.7" r="7"/></g><g fill="#81b7d7"><circle cx="366.3" cy="505.8" r="7"/><circle cx="903.8" cy="854.5" r="7"/><circle cx="531.2" cy="436.7" r="7"/><circle cx="378.4" cy="528.0" r="7"/><circle cx="715.6" cy="281.4" r="7"/><circle cx="558.2" cy="1039.6" r="7"/><circle cx="395.0" cy="361.1" r="7"/><circle cx="293.0" cy="379.4" r="7"/><circle cx="970.6" cy="424.0" r="7"/><circle cx="960.5" cy="868.6" r="7"/><circle cx="705.8" cy="1046.1" r="7"/><circle cx="945.6" cy="814.5" r="7"/><circle cx="357.9" cy="349.6" r="7"/><circle cx="621.1" cy="981.8" r="7"/><circle cx="521.0" cy="1001.2" r="7"/><circle cx="644.4" cy="1068.8" r="7"/><circle cx="606.4" cy="992.1" r="7"/><circle cx="696.0" cy="382.2" r="7"/><circle cx="866.3" cy="834.5" r="7"/><circle cx="771.2" cy="292.4" r="7"/><circle cx="1103.8" cy="485.0" r="7"/></g><g fill="#7bb3d5"><circle cx="344.2" cy="350.8" r="7"/><circle cx="896.6" cy="433.6" r="7"/><circle cx="354.6" cy="381.9" r="7"/><circle cx="930.8" cy="845.9" r="7"/><circle cx="631.3" cy="1039.6" r="7"/><circle cx="563.4" cy="981.2" r="7"/><circle cx="302.3" cy="334.0" r="7"/><circle cx="886.3" cy="837.9" r="7"/><circle cx="542.2" cy="1032.7" r="7"/><circle cx="913.4" cy="822.1" r="7"/><circle cx="749.8" cy="640.1" r="7"/><circle cx="1033.2" cy="448.1" r="7"/><circle cx="870.4" cy="794.4" r="7"/><circle cx="526.3" cy="928.4" r="7"/><circle cx="470.2" cy="226.6" r="7"/><circle cx="813.4" cy="323.5" r="7"/><circle cx="413.0" cy="405.8" r="7"/><circle cx="288.4" cy="413.5" r="7"/><circle cx="930.4" cy="807.7" r="7"/><circle cx="1041.5" cy="454.7" r="7"/></g><g fill="#79b0d3"><circle cx="301.4" cy="415.9" r="7"/><circle cx="758.3" cy="881.9" r="7"/><circle cx="951.2" cy="849.5" r="7"/><circle cx="513.6" cy="225.7" r="7"/><circle cx="518.0" cy="201.3" r="7"/><circle cx="397.8" cy="801.1" r="7"/><circle cx="868.5" cy="852.9" r="7"/><circle cx="610.4" cy="1034.5" r="7"/><circle cx="871.4" cy="642.7" r="7"/><circle cx="884.3" cy="832.0" r="7"/><circle cx="790.9" cy="624.0" r="7"/><circle cx="1064.8" cy="355.4" r="7"/><circle cx="510.3" cy="224.3" r="7"/><circle cx="375.3" cy="527.8" r="7"/><circle cx="524.3" cy="996.3" r="7"/><circle cx="480.5" cy="227.6" r="7"/><circle cx="383.3" cy="436.3" r="7"/><circle cx="711.6" cy="1059.1" r="7"/></g><g fill="#77add2"><circle cx="656.6" cy="476.7" r="7"/><circle cx="666.0" cy="1050.7" r="7"/><circle cx="313.8" cy="478.9" r="7"/><circle cx="719.9" cy="634.2" r="7"/><circle cx="554.6" cy="993.6" r="7"/><circle cx="373.4" cy="442.7" r="7"/><circle cx="610.7" cy="991.3" r="7"/><circle cx="630.6" cy="302.4" r="7"/><circle cx="300.2" cy="335.7" r="7"/><circle cx="533.1" cy="932.8" r="7"/></g><g fill="#74aad0"><circle cx="1023.0" cy="807.4" r="7"/><circle cx="351.1" cy="438.9" r="7"/><circle cx="640.6" cy="1003.7" r="7"/><circle cx="563.1" cy="997.6" r="7"/><circle cx="240.0" cy="378.6" r="7"/><circle cx="664.4" cy="1003.0" r="7"/><circle cx="726.1" cy="1031.4" r="7"/><circle cx="1098.6" cy="478.7" r="7"/><circle cx="1120.9" cy="501.9" r="7"/><circle cx="887.3" cy="430.0" r="7"/><circle cx="625.6" cy="1048.2" r="7"/></g><g fill="#72a7cf"><circle cx="360.3" cy="455.2" r="7"/><circle cx="344.3" cy="449.3" r="7"/><circle cx="301.8" cy="359.4" r="7"/><circle cx="562.1" cy="1050.0" r="7"/><circle cx="513.0" cy="987.3" r="7"/><circle cx="992.9" cy="780.4" r="7"/><circle cx="370.2" cy="804.1" r="7"/><circle cx="856.5" cy="923.0" r="7"/><circle cx="600.5" cy="1028.4" r="7"/><circle cx="1048.7" cy="440.2" r="7"/><circle cx="928.5" cy="328.1" r="7"/><circle cx="282.7" cy="368.0" r="7"/><circle cx="349.8" cy="534.6" r="7"/><circle cx="929.9" cy="898.6" r="7"/><circle cx="809.5" cy="614.0" r="7"/><circle cx="329.9" cy="439.6" r="7"/></g><g fill="#70a4cd"><circle cx="356.6" cy="516.0" r="7"/><circle cx="729.1" cy="1037.9" r="7"/><circle cx="564.0" cy="1033.5" r="7"/><circle cx="285.6" cy="473.9" r="7"/><circle cx="288.6" cy="472.4" r="7"/><circle cx="741.0" cy="1039.9" r="7"/><circle cx="553.1" cy="1013.6" r="7"/></g><g fill="#6da0cb"><circle cx="705.7" cy="1062.6" r="7"/><circle cx="887.6" cy="855.3" r="7"/><circle cx="874.7" cy="429.8" r="7"/><circle cx="353.3" cy="496.4" r="7"/><circle cx="262.7" cy="368.7" r="7"/><circle cx="353.6" cy="515.0" r="7"/><circle cx="535.7" cy="943.4" r="7"/><circle cx="374.9" cy="572.2" r="7"/><circle cx="332.6" cy="566.0" r="7"/><circle cx="991.1" cy="852.6" r="7"/><circle cx="561.7" cy="963.6" r="7"/><circle cx="503.8" cy="970.3" r="7"/><circle cx="605.0" cy="1043.3" r="7"/><circle cx="343.2" cy="816.0" r="7"/><circle cx="768.4" cy="478.0" r="7"/></g><g fill="#6b9dca"><circle cx="626.3" cy="1046.3" r="7"/><circle cx="905.3" cy="433.2" r="7"/><circle cx="328.4" cy="353.9" r="7"/><circle cx="317.3" cy="445.7" r="7"/><circle cx="620.3" cy="1063.7" r="7"/><circle cx="279.3" cy="460.0" r="7"/><circle cx="786.5" cy="493.3" r="7"/></g><g fill="#689ac8"><circle cx="680.8" cy="462.9" r="7"/><circle cx="998.8" cy="790.5" r="7"/><circle cx="765.1" cy="560.0" r="7"/><circle cx="327.2" cy="552.9" r="7"/><circle cx="364.1" cy="807.3" r="7"/><circle cx="953.8" cy="905.8" r="7"/><circle cx="402.9" cy="801.0" r="7"/><circle cx="362.8" cy="810.0" r="7"/></g><g fill="#6697c7"><circle cx="768.6" cy="520.4" r="7"/><circle cx="654.0" cy="1025.6" r="7"/><circle cx="434.7" cy="797.5" r="7"/><circle cx="417.8" cy="541.4" r="7"/><circle cx="960.0" cy="866.4" r="7"/><circle cx="347.2" cy="812.6" r="7"/><circle cx="416.7" cy="782.7" r="7"/><circle cx="374.2" cy="421.9" r="7"/></g><g fill="#6494c5"><circle cx="762.2" cy="540.1" r="7"/><circle cx="662.8" cy="1076.0" r="7"/></g><g fill="#6290c0"><circle cx="925.7" cy="851.6" r="7"/><circle cx="415.2" cy="856.7" r="7"/></g><g fill="#608cba"><circle cx="383.2" cy="525.5" r="7"/></g><g fill="#5e89b5"><circle cx="333.7" cy="542.1" r="7"/></g><g fill="#5c85b0"><circle cx="384.0" cy="831.6" r="7"/><circle cx="417.7" cy="836.4" r="7"/><circle cx="784.6" cy="495.8" r="7"/><circle cx="411.8" cy="839.9" r="7"/><circle cx="403.8" cy="839.3" r="7"/></g><g fill="#608cba"><circle cx="425.9" cy="542.5" r="7"/></g><g fill="#6290c0"><circle cx="778.8" cy="532.7" r="7"/><circle cx="669.4" cy="1062.2" r="7"/><circle cx="981.6" cy="861.2" r="7"/></g><g fill="#6494c5"><circle cx="670.0" cy="1071.7" r="7"/><circle cx="794.4" cy="710.5" r="7"/><circle cx="359.2" cy="792.2" r="7"/><circle cx="763.6" cy="707.6" r="7"/></g><g fill="#6697c7"><circle cx="946.5" cy="857.2" r="7"/><circle cx="661.7" cy="1063.2" r="7"/><circle cx="780.3" cy="508.1" r="7"/><circle cx="977.8" cy="847.8" r="7"/><circle cx="366.8" cy="794.9" r="7"/><circle cx="321.9" cy="556.8" r="7"/><circle cx="1012.0" cy="800.0" r="7"/><circle cx="339.6" cy="431.8" r="7"/></g><g fill="#689ac8"><circle cx="350.4" cy="810.3" r="7"/><circle cx="793.5" cy="456.6" r="7"/><circle cx="951.3" cy="852.1" r="7"/><circle cx="774.4" cy="502.5" r="7"/><circle cx="339.9" cy="811.5" r="7"/><circle cx="697.4" cy="1049.7" r="7"/><circle cx="292.5" cy="479.2" r="7"/><circle cx="360.5" cy="536.9" r="7"/><circle cx="302.0" cy="454.9" r="7"/><circle cx="398.7" cy="843.9" r="7"/><circle cx="670.0" cy="1011.1" r="7"/></g><g fill="#6b9dca"><circle cx="752.2" cy="258.7" r="7"/><circle cx="571.7" cy="997.7" r="7"/><circle cx="634.0" cy="1058.3" r="7"/><circle cx="612.5" cy="1013.6" r="7"/><circle cx="305.8" cy="495.8" r="7"/><circle cx="693.6" cy="1030.2" r="7"/><circle cx="320.1" cy="551.9" r="7"/></g><g fill="#6da0cb"><circle cx="1004.8" cy="435.2" r="7"/><circle cx="398.2" cy="551.9" r="7"/><circle cx="634.5" cy="1043.0" r="7"/><circle cx="332.3" cy="420.3" r="7"/><circle cx="545.0" cy="1004.1" r="7"/><circle cx="631.7" cy="1054.4" r="7"/><circle cx="356.4" cy="805.7" r="7"/><circle cx="886.3" cy="897.2" r="7"/><circle cx="482.8" cy="349.6" r="7"/><circle cx="719.4" cy="1038.8" r="7"/></g><g fill="#70a4cd"><circle cx="607.2" cy="1004.9" r="7"/><circle cx="923.1" cy="883.2" r="7"/><circle cx="301.7" cy="351.1" r="7"/><circle cx="320.3" cy="398.7" r="7"/><circle cx="264.4" cy="371.8" r="7"/><circle cx="286.3" cy="457.5" r="7"/><circle cx="328.9" cy="514.1" r="7"/><circle cx="392.5" cy="816.8" r="7"/><circle cx="324.8" cy="368.6" r="7"/><circle cx="342.7" cy="521.0" r="7"/><circle cx="328.4" cy="461.2" r="7"/><circle cx="364.0" cy="414.9" r="7"/><circle cx="1044.3" cy="450.7" r="7"/><circle cx="334.5" cy="551.3" r="7"/><circle cx="348.6" cy="506.6" r="7"/><circle cx="749.6" cy="635.6" r="7"/><circle cx="720.9" cy="1029.2" r="7"/><circle cx="819.3" cy="879.9" r="7"/><circle cx="289.5" cy="441.2" r="7"/><circle cx="855.3" cy="826.6" r="7"/></g><g fill="#72a7cf"><circle cx="593.9" cy="1048.7" r="7"/><circle cx="973.1" cy="323.0" r="7"/><circle cx="343.4" cy="453.0" r="7"/><circle cx="1030.5" cy="459.9" r="7"/><circle cx="1014.6" cy="448.0" r="7"/><circle cx="620.5" cy="971.0" r="7"/><circle cx="856.6" cy="840.1" r="7"/><circle cx="642.5" cy="945.4" r="7"/><circle cx="398.1" cy="450.6" r="7"/><circle cx="649.9" cy="994.6" r="7"/></g><g fill="#74aad0"><circle cx="747.1" cy="475.3" r="7"/><circle cx="315.2" cy="421.0" r="7"/><circle cx="955.9" cy="318.5" r="7"/><circle cx="1006.2" cy="813.4" r="7"/><circle cx="1007.4" cy="435.8" r="7"/><circle cx="393.5" cy="435.9" r="7"/><circle cx="313.9" cy="383.3" r="7"/><circle cx="979.6" cy="833.5" r="7"/><circle cx="780.1" cy="751.2" r="7"/><circle cx="503.6" cy="704.0" r="7"/><circle cx="590.0" cy="933.0" r="7"/><circle cx="568.0" cy="992.2" r="7"/><circle cx="991.8" cy="836.1" r="7"/><circle cx="931.4" cy="886.2" r="7"/><circle cx="352.0" cy="445.6" r="7"/><circle cx="590.5" cy="956.2" r="7"/><circle cx="1018.8" cy="449.4" r="7"/><circle cx="1005.2" cy="484.1" r="7"/><circle cx="852.2" cy="424.3" r="7"/><circle cx="580.9" cy="993.3" r="7"/><circle cx="917.3" cy="427.2" r="7"/></g><g fill="#77add2"><circle cx="325.6" cy="407.7" r="7"/><circle cx="887.6" cy="871.5" r="7"/><circle cx="463.3" cy="233.0" r="7"/><circle cx="558.3" cy="978.7" r="7"/><circle cx="870.0" cy="917.4" r="7"/><circle cx="1000.2" cy="829.6" r="7"/><circle cx="639.3" cy="1003.2" r="7"/><circle cx="573.8" cy="1047.6" r="7"/><circle cx="311.6" cy="467.1" r="7"/><circle cx="537.9" cy="1035.9" r="7"/><circle cx="290.8" cy="405.5" r="7"/><circle cx="664.3" cy="484.4" r="7"/></g><g fill="#79b0d3"><circle cx="317.0" cy="343.7" r="7"/><circle cx="290.8" cy="375.9" r="7"/><circle cx="402.5" cy="546.7" r="7"/><circle cx="507.0" cy="953.2" r="7"/><circle cx="1002.0" cy="835.6" r="7"/><circle cx="515.2" cy="980.2" r="7"/><circle cx="323.7" cy="412.9" r="7"/><circle cx="978.6" cy="876.4" r="7"/><circle cx="1029.7" cy="814.6" r="7"/><circle cx="654.0" cy="322.9" r="7"/><circle cx="575.4" cy="997.8" r="7"/><circle cx="577.9" cy="229.7" r="7"/><circle cx="275.9" cy="348.4" r="7"/><circle cx="642.5" cy="1030.1" r="7"/><circle cx="1108.1" cy="503.1" r="7"/><circle cx="829.9" cy="861.0" r="7"/><circle cx="926.9" cy="812.9" r="7"/></g><g fill="#7bb3d5"><circle cx="583.9" cy="988.5" r="7"/><circle cx="385.3" cy="789.5" r="7"/><circle cx="614.8" cy="1016.6" r="7"/><circle cx="916.5" cy="381.7" r="7"/><circle cx="536.1" cy="978.8" r="7"/><circle cx="904.5" cy="317.8" r="7"/><circle cx="252.1" cy="311.7" r="7"/><circle cx="1002.6" cy="446.9" r="7"/><circle cx="867.7" cy="858.6" r="7"/><circle cx="479.6" cy="747.3" r="7"/><circle cx="1028.8" cy="453.6" r="7"/><circle cx="330.7" cy="341.2" r="7"/><circle cx="429.8" cy="427.0" r="7"/><circle cx="994.8" cy="455.7" r="7"/><circle cx="776.4" cy="694.2" r="7"/><circle cx="307.7" cy="387.6" r="7"/><circle cx="396.3" cy="282.8" r="7"/><circle cx="708.4" cy="353.8" r="7"/><circle cx="281.2" cy="321.3" r="7"/><circle cx="812.8" cy="870.7" r="7"/><circle cx="529.1" cy="1022.4" r="7"/><circle cx="311.5" cy="383.5" r="7"/><circle cx="379.5" cy="312.3" r="7"/><circle cx="292.1" cy="403.8" r="7"/></g><g fill="#81b7d7"><circle cx="368.1" cy="344.2" r="7"/><circle cx="598.2" cy="550.1" r="7"/><circle cx="404.4" cy="356.0" r="7"/><circle cx="750.2" cy="718.3" r="7"/><circle cx="642.4" cy="460.7" r="7"/><circle cx="1045.1" cy="308.4" r="7"/><circle cx="604.6" cy="566.7" r="7"/><circle cx="905.6" cy="811.8" r="7"/><circle cx="660.6" cy="296.4" r="7"/><circle cx="1008.6" cy="475.8" r="7"/><circle cx="293.0" cy="326.3" r="7"/><circle cx="1008.8" cy="444.4" r="7"/><circle cx="651.3" cy="916.0" r="7"/><circle cx="694.4" cy="462.5" r="7"/><circle cx="976.5" cy="317.8" r="7"/><circle cx="671.0" cy="305.5" r="7"/><circle cx="535.9" cy="992.2" r="7"/><circle cx="398.9" cy="408.4" r="7"/></g><g fill="#86bad9"><circle cx="428.7" cy="757.0" r="7"/><circle cx="984.3" cy="792.9" r="7"/><circle cx="980.8" cy="452.0" r="7"/><circle cx="660.2" cy="233.6" r="7"/><circle cx="510.8" cy="765.4" r="7"/><circle cx="850.5" cy="948.6" r="7"/><circle cx="573.3" cy="209.0" r="7"/><circle cx="384.3" cy="316.9" r="7"/><circle cx="481.1" cy="238.8" r="7"/><circle cx="445.7" cy="367.1" r="7"/><circle cx="729.3" cy="733.8" r="7"/><circle cx="752.5" cy="715.3" r="7"/><circle cx="896.7" cy="911.0" r="7"/><circle cx="485.8" cy="735.2" r="7"/><circle cx="813.3" cy="741.4" r="7"/><circle cx="821.3" cy="338.6" r="7"/><circle cx="981.5" cy="798.6" r="7"/><circle cx="663.2" cy="1036.3" r="7"/><circle cx="954.4" cy="874.8" r="7"/></g><g fill="#8cbedb"><circle cx="665.4" cy="451.7" r="7"/><circle cx="618.4" cy="216.5" r="7"/><circle cx="828.1" cy="927.4" r="7"/><circle cx="908.7" cy="424.8" r="7"/><circle cx="428.4" cy="546.3" r="7"/><circle cx="878.3" cy="629.5" r="7"/><circle cx="644.1" cy="486.6" r="7"/><circle cx="977.5" cy="809.3" r="7"/><circle cx="829.3" cy="937.3" r="7"/><circle cx="679.6" cy="659.4" r="7"/><circle cx="415.8" cy="763.4" r="7"/><circle cx="987.6" cy="418.4" r="7"/><circle cx="368.2" cy="253.2" r="7"/><circle cx="488.7" cy="714.2" r="7"/><circle cx="631.8" cy="541.6" r="7"/><circle cx="989.9" cy="831.9" r="7"/><circle cx="610.2" cy="899.9" r="7"/><circle cx="1084.5" cy="478.4" r="7"/><circle cx="493.1" cy="334.4" r="7"/><circle cx="559.0" cy="410.8" r="7"/><circle cx="702.3" cy="249.9" r="7"/><circle cx="725.1" cy="654.7" r="7"/></g><g fill="#92c1dd"><circle cx="604.4" cy="981.0" r="7"/><circle cx="723.6" cy="641.3" r="7"/><circle cx="954.4" cy="290.9" r="7"/><circle cx="600.1" cy="935.4" r="7"/><circle cx="521.5" cy="324.4" r="7"/><circle cx="919.9" cy="845.3" r="7"/><circle cx="923.0" cy="826.5" r="7"/><circle cx="1022.5" cy="438.5" r="7"/><circle cx="976.9" cy="413.0" r="7"/><circle cx="989.8" cy="414.4" r="7"/><circle cx="708.6" cy="252.2" r="7"/><circle cx="394.5" cy="466.5" r="7"/><circle cx="875.6" cy="825.6" r="7"/><circle cx="724.7" cy="298.4" r="7"/><circle cx="615.7" cy="914.5" r="7"/><circle cx="1008.4" cy="467.0" r="7"/><circle cx="354.2" cy="556.9" r="7"/><circle cx="914.9" cy="908.7" r="7"/></g><g fill="#97c5de"><circle cx="462.5" cy="361.1" r="7"/><circle cx="328.3" cy="285.0" r="7"/><circle cx="658.4" cy="280.8" r="7"/><circle cx="637.6" cy="270.9" r="7"/><circle cx="905.7" cy="860.5" r="7"/><circle cx="580.6" cy="235.0" r="7"/><circle cx="489.7" cy="357.8" r="7"/><circle cx="731.6" cy="275.5" r="7"/><circle cx="1052.1" cy="467.3" r="7"/><circle cx="868.4" cy="869.2" r="7"/><circle cx="419.1" cy="313.9" r="7"/><circle cx="1059.3" cy="488.1" r="7"/><circle cx="805.5" cy="806.5" r="7"/><circle cx="690.8" cy="245.7" r="7"/><circle cx="845.2" cy="834.0" r="7"/><circle cx="630.4" cy="448.4" r="7"/><circle cx="764.2" cy="1030.3" r="7"/></g><g fill="#9dc8e0"><circle cx="605.8" cy="274.0" r="7"/><circle cx="608.5" cy="220.6" r="7"/><circle cx="912.3" cy="898.8" r="7"/><circle cx="861.7" cy="870.3" r="7"/><circle cx="380.4" cy="303.9" r="7"/><circle cx="705.3" cy="298.4" r="7"/><circle cx="1044.5" cy="467.0" r="7"/><circle cx="323.7" cy="488.9" r="7"/><circle cx="698.0" cy="455.6" r="7"/><circle cx="699.6" cy="1050.0" r="7"/><circle cx="655.1" cy="233.1" r="7"/><circle cx="777.3" cy="744.2" r="7"/><circle cx="912.8" cy="874.1" r="7"/><circle cx="618.8" cy="517.8" r="7"/><circle cx="538.8" cy="260.3" r="7"/><circle cx="575.7" cy="206.4" r="7"/><circle cx="735.5" cy="249.3" r="7"/><circle cx="601.8" cy="1039.0" r="7"/><circle cx="517.4" cy="936.3" r="7"/></g><g fill="#a2cce2"><circle cx="665.0" cy="229.7" r="7"/><circle cx="298.3" cy="301.6" r="7"/><circle cx="663.4" cy="301.2" r="7"/><circle cx="605.2" cy="516.5" r="7"/><circle cx="810.2" cy="955.3" r="7"/><circle cx="809.7" cy="748.1" r="7"/><circle cx="296.7" cy="293.4" r="7"/><circle cx="674.4" cy="256.0" r="7"/><circle cx="500.3" cy="259.2" r="7"/><circle cx="403.6" cy="239.0" r="7"/><circle cx="1066.9" cy="311.9" r="7"/><circle cx="686.8" cy="450.6" r="7"/><circle cx="637.0" cy="275.4" r="7"/><circle cx="870.6" cy="936.3" r="7"/><circle cx="386.6" cy="278.3" r="7"/><circle cx="734.2" cy="733.9" r="7"/><circle cx="748.8" cy="416.0" r="7"/><circle cx="551.9" cy="297.6" r="7"/><circle cx="687.7" cy="462.1" r="7"/><circle cx="595.5" cy="1036.4" r="7"/></g><g fill="#a8cfe4"><circle cx="518.6" cy="763.5" r="7"/><circle cx="521.4" cy="790.2" r="7"/><circle cx="704.8" cy="679.4" r="7"/><circle cx="255.9" cy="344.0" r="7"/><circle cx="573.4" cy="1033.4" r="7"/><circle cx="922.8" cy="298.0" r="7"/><circle cx="599.0" cy="544.8" r="7"/><circle cx="459.0" cy="333.5" r="7"/><circle cx="830.7" cy="522.1" r="7"/><circle cx="317.3" cy="275.6" r="7"/><circle cx="643.5" cy="274.5" r="7"/><circle cx="1102.6" cy="495.7" r="7"/><circle cx="504.3" cy="295.0" r="7"/><circle cx="591.6" cy="438.9" r="7"/><circle cx="748.8" cy="298.2" r="7"/><circle cx="559.2" cy="804.8" r="7"/><circle cx="531.3" cy="301.9" r="7"/><circle cx="456.6" cy="323.3" r="7"/><circle cx="398.9" cy="275.7" r="7"/><circle cx="955.8" cy="285.1" r="7"/><circle cx="483.1" cy="714.6" r="7"/><circle cx="363.6" cy="264.9" r="7"/><circle cx="577.0" cy="436.1" r="7"/><circle cx="612.9" cy="487.9" r="7"/><circle cx="821.6" cy="820.6" r="7"/><circle cx="447.7" cy="304.9" r="7"/><circle cx="715.3" cy="746.6" r="7"/><circle cx="499.7" cy="953.7" r="7"/></g><g fill="#add3e6"><circle cx="1064.5" cy="496.2" r="7"/><circle cx="408.9" cy="347.7" r="7"/><circle cx="564.4" cy="802.1" r="7"/><circle cx="748.9" cy="704.6" r="7"/><circle cx="675.1" cy="457.6" r="7"/><circle cx="327.6" cy="276.9" r="7"/><circle cx="483.6" cy="756.5" r="7"/></g><g fill="#b3d6e8"><circle cx="503.4" cy="885.7" r="7"/><circle cx="454.1" cy="360.5" r="7"/><circle cx="856.8" cy="393.0" r="7"/><circle cx="553.0" cy="889.1" r="7"/><circle cx="506.2" cy="262.1" r="7"/><circle cx="581.5" cy="512.2" r="7"/><circle cx="347.9" cy="761.2" r="7"/><circle cx="535.5" cy="276.4" r="7"/><circle cx="1043.7" cy="498.0" r="7"/><circle cx="871.2" cy="366.3" r="7"/><circle cx="833.8" cy="349.0" r="7"/><circle cx="898.3" cy="693.0" r="7"/><circle cx="647.9" cy="284.8" r="7"/><circle cx="753.1" cy="287.8" r="7"/><circle cx="787.5" cy="878.9" r="7"/><circle cx="602.1" cy="297.7" r="7"/></g><g fill="#b7d9e9"><circle cx="810.9" cy="819.2" r="7"/><circle cx="524.5" cy="239.1" r="7"/><circle cx="943.0" cy="415.7" r="7"/><circle cx="867.7" cy="351.6" r="7"/><circle cx="558.1" cy="490.0" r="7"/><circle cx="550.7" cy="568.6" r="7"/><circle cx="623.8" cy="506.1" r="7"/><circle cx="503.7" cy="273.3" r="7"/><circle cx="427.5" cy="394.7" r="7"/><circle cx="685.7" cy="881.2" r="7"/></g><g fill="#bcdbea"><circle cx="746.7" cy="744.7" r="7"/><circle cx="582.8" cy="525.7" r="7"/><circle cx="816.9" cy="736.8" r="7"/><circle cx="905.4" cy="657.6" r="7"/></g><g fill="#c0ddec"><circle cx="907.0" cy="292.8" r="7"/><circle cx="710.7" cy="456.6" r="7"/><circle cx="913.4" cy="507.4" r="7"/><circle cx="882.6" cy="373.0" r="7"/><circle cx="544.9" cy="530.7" r="7"/><circle cx="362.6" cy="744.4" r="7"/><circle cx="800.6" cy="766.9" r="7"/><circle cx="696.7" cy="676.2" r="7"/><circle cx="536.0" cy="760.4" r="7"/><circle cx="572.5" cy="499.9" r="7"/><circle cx="613.2" cy="492.1" r="7"/><circle cx="744.1" cy="846.3" r="7"/><circle cx="649.3" cy="704.6" r="7"/><circle cx="871.1" cy="387.4" r="7"/></g><g fill="#c4dfed"><circle cx="590.2" cy="486.9" r="7"/><circle cx="450.2" cy="316.7" r="7"/><circle cx="659.8" cy="881.3" r="7"/></g><g fill="#c9e2ee"><circle cx="611.9" cy="496.0" r="7"/><circle cx="742.9" cy="798.1" r="7"/><circle cx="392.3" cy="738.4" r="7"/><circle cx="584.1" cy="788.6" r="7"/><circle cx="557.0" cy="505.5" r="7"/><circle cx="583.0" cy="440.4" r="7"/></g><g fill="#cde4ef"><circle cx="567.6" cy="866.9" r="7"/><circle cx="573.8" cy="316.3" r="7"/><circle cx="936.9" cy="422.5" r="7"/><circle cx="614.4" cy="811.3" r="7"/></g><g fill="#d2e6f1"><circle cx="754.1" cy="856.8" r="7"/><circle cx="479.1" cy="729.4" r="7"/><circle cx="544.4" cy="536.5" r="7"/><circle cx="689.0" cy="894.2" r="7"/><circle cx="447.1" cy="243.8" r="7"/><circle cx="757.2" cy="766.7" r="7"/><circle cx="570.4" cy="862.9" r="7"/><circle cx="614.0" cy="726.8" r="7"/></g><g fill="#d6e8f2"><circle cx="647.9" cy="877.1" r="7"/><circle cx="669.0" cy="804.3" r="7"/><circle cx="630.1" cy="826.9" r="7"/><circle cx="965.5" cy="657.0" r="7"/></g><g fill="#daebf3"><circle cx="582.3" cy="479.1" r="7"/><circle cx="572.7" cy="562.9" r="7"/><circle cx="738.6" cy="304.6" r="7"/><circle cx="671.1" cy="857.1" r="7"/><circle cx="507.7" cy="505.3" r="7"/></g><g fill="#dfedf4"><circle cx="870.0" cy="402.6" r="7"/><circle cx="747.9" cy="777.5" r="7"/><circle cx="804.7" cy="419.2" r="7"/><circle cx="659.0" cy="869.0" r="7"/><circle cx="505.4" cy="513.7" r="7"/></g><g fill="#e1eef5"><circle cx="712.3" cy="840.6" r="7"/><circle cx="616.0" cy="742.1" r="7"/></g><g fill="#e4eff5"><circle cx="686.6" cy="684.7" r="7"/></g><g fill="#e7f1f6"><circle cx="672.9" cy="706.4" r="7"/><circle cx="960.8" cy="661.1" r="7"/><circle cx="696.1" cy="822.8" r="7"/><circle cx="594.3" cy="733.8" r="7"/></g><g fill="#e9f2f6"><circle cx="609.9" cy="749.6" r="7"/><circle cx="638.7" cy="765.4" r="7"/></g><g fill="#f1f6f8"><circle cx="588.1" cy="750.5" r="7"/><circle cx="722.4" cy="794.5" r="7"/><circle cx="714.8" cy="815.0" r="7"/></g><g fill="#f4f7f8"><circle cx="708.6" cy="817.7" r="7"/></g><g fill="#f7f8f9"><circle cx="713.4" cy="821.1" r="7"/></g><g fill="#faf7f6"><circle cx="634.3" cy="764.5" r="7"/></g><g fill="#fcf0e9"><circle cx="627.6" cy="690.4" r="7"/></g><g fill="#fceee5"><circle cx="605.9" cy="748.6" r="7"/></g><g fill="#faf7f6"><circle cx="603.0" cy="782.6" r="7"/><circle cx="591.8" cy="747.6" r="7"/><circle cx="559.9" cy="834.5" r="7"/></g><g fill="#f4f7f8"><circle cx="588.2" cy="798.6" r="7"/><circle cx="611.2" cy="768.6" r="7"/></g><g fill="#f1f6f8"><circle cx="598.0" cy="791.9" r="7"/></g><g fill="#eff4f7"><circle cx="651.8" cy="731.3" r="7"/><circle cx="632.7" cy="775.7" r="7"/><circle cx="660.4" cy="779.2" r="7"/></g><g fill="#ecf3f7"><circle cx="961.4" cy="488.0" r="7"/><circle cx="661.7" cy="800.2" r="7"/><circle cx="952.8" cy="665.2" r="7"/></g><g fill="#e9f2f6"><circle cx="641.2" cy="741.1" r="7"/><circle cx="768.2" cy="802.7" r="7"/><circle cx="689.3" cy="724.9" r="7"/></g><g fill="#e7f1f6"><circle cx="886.2" cy="589.7" r="7"/><circle cx="599.9" cy="716.8" r="7"/><circle cx="884.8" cy="594.8" r="7"/></g><g fill="#e4eff5"><circle cx="907.7" cy="512.4" r="7"/><circle cx="938.0" cy="675.0" r="7"/><circle cx="650.7" cy="724.3" r="7"/><circle cx="515.0" cy="883.4" r="7"/></g><g fill="#e1eef5"><circle cx="948.5" cy="655.3" r="7"/><circle cx="605.7" cy="843.8" r="7"/><circle cx="628.6" cy="855.8" r="7"/><circle cx="658.1" cy="815.4" r="7"/><circle cx="668.9" cy="781.8" r="7"/><circle cx="633.9" cy="748.6" r="7"/></g><g fill="#dfedf4"><circle cx="552.7" cy="874.3" r="7"/><circle cx="746.7" cy="858.4" r="7"/><circle cx="878.8" cy="527.3" r="7"/><circle cx="946.7" cy="669.1" r="7"/><circle cx="543.6" cy="496.1" r="7"/></g><g fill="#daebf3"><circle cx="559.0" cy="874.7" r="7"/><circle cx="863.0" cy="489.7" r="7"/><circle cx="576.0" cy="252.0" r="7"/></g><g fill="#d6e8f2"><circle cx="640.1" cy="820.0" r="7"/><circle cx="600.8" cy="530.6" r="7"/><circle cx="550.9" cy="493.8" r="7"/><circle cx="586.4" cy="800.1" r="7"/><circle cx="651.9" cy="722.3" r="7"/></g><g fill="#d2e6f1"><circle cx="624.3" cy="857.6" r="7"/><circle cx="579.8" cy="523.4" r="7"/><circle cx="623.7" cy="852.8" r="7"/><circle cx="603.2" cy="837.3" r="7"/><circle cx="605.7" cy="810.5" r="7"/><circle cx="613.0" cy="700.2" r="7"/><circle cx="808.6" cy="907.2" r="7"/><circle cx="656.0" cy="813.8" r="7"/></g><g fill="#cde4ef"><circle cx="756.5" cy="749.2" r="7"/><circle cx="519.1" cy="481.5" r="7"/><circle cx="700.7" cy="761.9" r="7"/><circle cx="771.6" cy="728.9" r="7"/></g><g fill="#c9e2ee"><circle cx="732.8" cy="766.1" r="7"/><circle cx="914.0" cy="809.3" r="7"/><circle cx="587.4" cy="861.7" r="7"/><circle cx="774.4" cy="408.8" r="7"/><circle cx="587.8" cy="464.0" r="7"/></g><g fill="#c4dfed"><circle cx="430.4" cy="272.6" r="7"/><circle cx="755.7" cy="792.4" r="7"/><circle cx="800.5" cy="786.3" r="7"/><circle cx="781.9" cy="777.1" r="7"/><circle cx="918.3" cy="503.3" r="7"/><circle cx="961.5" cy="284.1" r="7"/></g><g fill="#c0ddec"><circle cx="752.2" cy="831.4" r="7"/><circle cx="906.3" cy="503.7" r="7"/><circle cx="609.4" cy="440.9" r="7"/><circle cx="568.8" cy="289.8" r="7"/><circle cx="576.2" cy="286.7" r="7"/><circle cx="764.9" cy="872.0" r="7"/><circle cx="733.2" cy="725.2" r="7"/><circle cx="731.6" cy="671.4" r="7"/><circle cx="556.0" cy="541.5" r="7"/><circle cx="729.0" cy="749.6" r="7"/><circle cx="762.0" cy="854.5" r="7"/></g><g fill="#bcdbea"><circle cx="564.1" cy="473.5" r="7"/><circle cx="576.7" cy="300.8" r="7"/><circle cx="766.9" cy="828.0" r="7"/><circle cx="944.0" cy="407.8" r="7"/><circle cx="701.7" cy="866.7" r="7"/><circle cx="891.9" cy="629.0" r="7"/><circle cx="583.5" cy="499.9" r="7"/><circle cx="544.0" cy="202.5" r="7"/><circle cx="807.7" cy="781.9" r="7"/><circle cx="793.9" cy="426.6" r="7"/><circle cx="933.2" cy="674.3" r="7"/></g><g fill="#b7d9e9"><circle cx="458.7" cy="368.7" r="7"/><circle cx="537.9" cy="278.1" r="7"/><circle cx="532.3" cy="876.7" r="7"/><circle cx="780.6" cy="911.1" r="7"/><circle cx="608.3" cy="512.4" r="7"/><circle cx="724.7" cy="445.4" r="7"/><circle cx="627.8" cy="739.8" r="7"/><circle cx="884.6" cy="930.5" r="7"/></g><g fill="#b3d6e8"><circle cx="767.9" cy="852.1" r="7"/><circle cx="545.4" cy="277.2" r="7"/><circle cx="548.1" cy="562.3" r="7"/><circle cx="919.6" cy="397.9" r="7"/><circle cx="799.9" cy="279.4" r="7"/><circle cx="461.2" cy="340.9" r="7"/><circle cx="728.2" cy="428.2" r="7"/><circle cx="636.5" cy="241.6" r="7"/><circle cx="1054.5" cy="478.1" r="7"/><circle cx="984.4" cy="318.4" r="7"/><circle cx="557.1" cy="325.2" r="7"/><circle cx="637.9" cy="253.7" r="7"/><circle cx="737.0" cy="867.7" r="7"/><circle cx="603.3" cy="875.4" r="7"/></g><g fill="#add3e6"><circle cx="441.9" cy="733.5" r="7"/><circle cx="667.1" cy="714.9" r="7"/><circle cx="535.3" cy="790.2" r="7"/><circle cx="906.8" cy="415.0" r="7"/><circle cx="788.8" cy="829.5" r="7"/><circle cx="954.1" cy="422.6" r="7"/><circle cx="552.7" cy="790.7" r="7"/><circle cx="426.7" cy="327.3" r="7"/><circle cx="816.8" cy="898.5" r="7"/><circle cx="796.9" cy="752.7" r="7"/><circle cx="594.3" cy="537.6" r="7"/><circle cx="504.6" cy="252.3" r="7"/><circle cx="801.3" cy="283.4" r="7"/><circle cx="630.8" cy="261.8" r="7"/></g><g fill="#a8cfe4"><circle cx="601.7" cy="442.8" r="7"/><circle cx="1040.2" cy="488.3" r="7"/><circle cx="544.9" cy="239.5" r="7"/><circle cx="608.3" cy="283.8" r="7"/><circle cx="803.8" cy="955.8" r="7"/><circle cx="614.0" cy="455.4" r="7"/><circle cx="597.9" cy="233.4" r="7"/><circle cx="861.6" cy="937.8" r="7"/><circle cx="999.8" cy="307.2" r="7"/><circle cx="604.5" cy="230.0" r="7"/><circle cx="349.6" cy="751.3" r="7"/><circle cx="593.1" cy="470.0" r="7"/><circle cx="629.0" cy="230.0" r="7"/></g><g fill="#a2cce2"><circle cx="640.7" cy="298.9" r="7"/><circle cx="458.9" cy="725.4" r="7"/><circle cx="822.9" cy="313.3" r="7"/><circle cx="544.3" cy="976.4" r="7"/><circle cx="616.5" cy="490.3" r="7"/><circle cx="548.0" cy="219.0" r="7"/><circle cx="347.4" cy="249.2" r="7"/><circle cx="745.7" cy="413.7" r="7"/><circle cx="608.0" cy="551.9" r="7"/><circle cx="648.1" cy="240.8" r="7"/><circle cx="440.8" cy="717.3" r="7"/><circle cx="782.9" cy="766.2" r="7"/><circle cx="447.5" cy="357.7" r="7"/><circle cx="908.7" cy="942.0" r="7"/><circle cx="426.7" cy="261.7" r="7"/><circle cx="1013.5" cy="320.8" r="7"/><circle cx="330.0" cy="292.8" r="7"/><circle cx="813.8" cy="925.3" r="7"/><circle cx="811.1" cy="300.9" r="7"/><circle cx="1093.1" cy="492.2" r="7"/><circle cx="1069.2" cy="490.1" r="7"/><circle cx="625.7" cy="241.4" r="7"/></g><g fill="#9dc8e0"><circle cx="414.8" cy="279.1" r="7"/><circle cx="782.3" cy="309.4" r="7"/><circle cx="406.2" cy="242.8" r="7"/><circle cx="610.1" cy="526.7" r="7"/><circle cx="700.4" cy="438.8" r="7"/><circle cx="428.4" cy="719.4" r="7"/><circle cx="1062.6" cy="489.3" r="7"/><circle cx="431.5" cy="719.0" r="7"/><circle cx="208.1" cy="417.3" r="7"/><circle cx="895.9" cy="644.0" r="7"/><circle cx="581.7" cy="919.3" r="7"/><circle cx="548.9" cy="436.1" r="7"/><circle cx="618.1" cy="497.0" r="7"/><circle cx="967.1" cy="419.2" r="7"/><circle cx="423.9" cy="319.1" r="7"/><circle cx="922.1" cy="792.3" r="7"/></g><g fill="#97c5de"><circle cx="478.9" cy="334.7" r="7"/><circle cx="525.7" cy="318.4" r="7"/><circle cx="555.8" cy="924.3" r="7"/><circle cx="957.1" cy="801.3" r="7"/><circle cx="922.5" cy="785.2" r="7"/><circle cx="444.6" cy="436.4" r="7"/></g><g fill="#92c1dd"><circle cx="824.0" cy="789.2" r="7"/><circle cx="770.8" cy="723.3" r="7"/><circle cx="915.5" cy="838.5" r="7"/><circle cx="828.0" cy="935.7" r="7"/><circle cx="943.4" cy="307.3" r="7"/><circle cx="682.1" cy="460.0" r="7"/><circle cx="501.3" cy="755.2" r="7"/><circle cx="765.6" cy="283.2" r="7"/><circle cx="1071.5" cy="357.0" r="7"/><circle cx="294.3" cy="319.7" r="7"/><circle cx="219.0" cy="414.7" r="7"/><circle cx="851.4" cy="821.5" r="7"/><circle cx="801.8" cy="325.1" r="7"/><circle cx="331.9" cy="457.5" r="7"/><circle cx="891.1" cy="829.2" r="7"/><circle cx="445.7" cy="705.5" r="7"/></g><g fill="#8cbedb"><circle cx="486.3" cy="395.9" r="7"/><circle cx="393.4" cy="260.1" r="7"/><circle cx="453.9" cy="355.7" r="7"/><circle cx="585.9" cy="1024.2" r="7"/><circle cx="689.6" cy="458.2" r="7"/><circle cx="603.3" cy="920.0" r="7"/><circle cx="893.7" cy="932.2" r="7"/><circle cx="624.7" cy="305.0" r="7"/><circle cx="842.5" cy="875.2" r="7"/><circle cx="404.0" cy="298.2" r="7"/><circle cx="775.0" cy="880.6" r="7"/><circle cx="830.6" cy="958.8" r="7"/><circle cx="801.5" cy="842.9" r="7"/><circle cx="738.4" cy="248.6" r="7"/><circle cx="319.8" cy="321.6" r="7"/><circle cx="466.1" cy="234.6" r="7"/><circle cx="327.0" cy="302.0" r="7"/><circle cx="793.1" cy="823.8" r="7"/><circle cx="811.0" cy="966.2" r="7"/><circle cx="570.0" cy="231.1" r="7"/></g><g fill="#86bad9"><circle cx="902.8" cy="786.5" r="7"/><circle cx="337.1" cy="375.4" r="7"/><circle cx="970.8" cy="313.7" r="7"/><circle cx="412.2" cy="355.7" r="7"/><circle cx="504.6" cy="987.0" r="7"/><circle cx="610.6" cy="221.3" r="7"/><circle cx="728.3" cy="255.7" r="7"/><circle cx="931.0" cy="794.9" r="7"/><circle cx="760.0" cy="270.3" r="7"/><circle cx="481.3" cy="418.6" r="7"/><circle cx="403.1" cy="296.5" r="7"/><circle cx="628.7" cy="483.3" r="7"/><circle cx="309.7" cy="401.5" r="7"/><circle cx="389.7" cy="291.8" r="7"/><circle cx="773.2" cy="461.8" r="7"/><circle cx="628.3" cy="1007.5" r="7"/><circle cx="329.0" cy="421.5" r="7"/><circle cx="468.3" cy="372.0" r="7"/></g><g fill="#81b7d7"><circle cx="491.8" cy="760.1" r="7"/><circle cx="314.2" cy="442.5" r="7"/><circle cx="1028.7" cy="348.5" r="7"/><circle cx="530.2" cy="936.9" r="7"/><circle cx="520.3" cy="964.4" r="7"/><circle cx="766.9" cy="757.9" r="7"/><circle cx="922.2" cy="850.5" r="7"/><circle cx="908.0" cy="908.6" r="7"/><circle cx="287.0" cy="405.2" r="7"/><circle cx="494.0" cy="354.7" r="7"/><circle cx="614.9" cy="568.0" r="7"/><circle cx="744.8" cy="1025.9" r="7"/><circle cx="371.8" cy="548.0" r="7"/><circle cx="677.6" cy="320.0" r="7"/><circle cx="927.8" cy="915.3" r="7"/><circle cx="595.7" cy="898.4" r="7"/><circle cx="803.6" cy="861.7" r="7"/><circle cx="1021.8" cy="272.7" r="7"/><circle cx="614.1" cy="1047.9" r="7"/></g><g fill="#7bb3d5"><circle cx="894.2" cy="656.1" r="7"/><circle cx="274.5" cy="367.3" r="7"/><circle cx="750.8" cy="1033.2" r="7"/><circle cx="357.4" cy="289.9" r="7"/><circle cx="890.5" cy="845.1" r="7"/><circle cx="331.0" cy="328.1" r="7"/><circle cx="348.5" cy="362.6" r="7"/><circle cx="487.3" cy="243.6" r="7"/><circle cx="986.9" cy="798.4" r="7"/><circle cx="352.6" cy="534.9" r="7"/><circle cx="343.7" cy="368.3" r="7"/><circle cx="683.2" cy="360.9" r="7"/><circle cx="798.2" cy="313.6" r="7"/><circle cx="948.0" cy="338.7" r="7"/></g><g fill="#79b0d3"><circle cx="576.3" cy="1024.7" r="7"/><circle cx="878.4" cy="932.9" r="7"/><circle cx="983.1" cy="808.5" r="7"/><circle cx="554.7" cy="976.9" r="7"/><circle cx="329.5" cy="391.8" r="7"/><circle cx="838.4" cy="919.9" r="7"/><circle cx="996.4" cy="780.3" r="7"/><circle cx="389.9" cy="483.9" r="7"/><circle cx="546.1" cy="965.3" r="7"/><circle cx="838.5" cy="927.2" r="7"/><circle cx="988.4" cy="451.3" r="7"/><circle cx="669.5" cy="361.9" r="7"/><circle cx="379.8" cy="461.0" r="7"/><circle cx="866.0" cy="890.2" r="7"/></g><g fill="#77add2"><circle cx="666.0" cy="322.6" r="7"/><circle cx="521.4" cy="206.5" r="7"/><circle cx="637.9" cy="988.6" r="7"/><circle cx="689.1" cy="963.0" r="7"/><circle cx="951.6" cy="867.0" r="7"/><circle cx="886.7" cy="930.2" r="7"/><circle cx="771.9" cy="625.9" r="7"/><circle cx="317.1" cy="439.2" r="7"/><circle cx="309.4" cy="459.6" r="7"/><circle cx="590.2" cy="1028.6" r="7"/><circle cx="516.4" cy="915.8" r="7"/><circle cx="379.4" cy="379.9" r="7"/><circle cx="363.5" cy="438.7" r="7"/><circle cx="894.2" cy="835.4" r="7"/><circle cx="633.8" cy="932.7" r="7"/><circle cx="766.4" cy="516.8" r="7"/></g><g fill="#74aad0"><circle cx="668.6" cy="1018.7" r="7"/><circle cx="711.7" cy="369.3" r="7"/><circle cx="1006.7" cy="844.4" r="7"/><circle cx="490.2" cy="234.4" r="7"/><circle cx="316.3" cy="430.9" r="7"/><circle cx="775.6" cy="659.0" r="7"/><circle cx="454.0" cy="225.1" r="7"/><circle cx="974.8" cy="806.1" r="7"/><circle cx="393.6" cy="440.5" r="7"/><circle cx="350.4" cy="550.1" r="7"/><circle cx="989.4" cy="849.1" r="7"/><circle cx="361.5" cy="817.4" r="7"/><circle cx="358.2" cy="571.3" r="7"/><circle cx="571.3" cy="1029.9" r="7"/><circle cx="584.3" cy="1052.5" r="7"/><circle cx="1006.7" cy="483.3" r="7"/><circle cx="597.4" cy="998.5" r="7"/><circle cx="746.5" cy="634.8" r="7"/><circle cx="781.9" cy="511.1" r="7"/><circle cx="800.8" cy="620.8" r="7"/><circle cx="345.9" cy="413.5" r="7"/><circle cx="851.5" cy="429.5" r="7"/></g><g fill="#72a7cf"><circle cx="291.3" cy="415.2" r="7"/><circle cx="350.0" cy="421.9" r="7"/><circle cx="348.8" cy="819.4" r="7"/><circle cx="596.0" cy="989.1" r="7"/><circle cx="980.8" cy="430.0" r="7"/><circle cx="700.7" cy="465.2" r="7"/><circle cx="893.4" cy="923.7" r="7"/><circle cx="337.2" cy="556.4" r="7"/><circle cx="669.2" cy="966.4" r="7"/><circle cx="720.3" cy="459.4" r="7"/><circle cx="738.9" cy="453.3" r="7"/><circle cx="981.0" cy="810.5" r="7"/><circle cx="489.9" cy="693.4" r="7"/></g><g fill="#70a4cd"><circle cx="287.1" cy="405.4" r="7"/><circle cx="910.4" cy="862.5" r="7"/><circle cx="675.2" cy="311.9" r="7"/><circle cx="536.4" cy="200.2" r="7"/><circle cx="311.8" cy="390.0" r="7"/><circle cx="387.0" cy="429.8" r="7"/><circle cx="1005.1" cy="808.0" r="7"/><circle cx="311.8" cy="469.0" r="7"/><circle cx="1002.0" cy="443.3" r="7"/><circle cx="506.8" cy="987.8" r="7"/><circle cx="603.7" cy="1045.4" r="7"/><circle cx="924.0" cy="330.4" r="7"/><circle cx="332.5" cy="490.1" r="7"/></g><g fill="#6da0cb"><circle cx="548.7" cy="1019.0" r="7"/><circle cx="309.8" cy="540.4" r="7"/><circle cx="713.4" cy="1045.2" r="7"/><circle cx="320.3" cy="454.6" r="7"/><circle cx="631.9" cy="1024.3" r="7"/><circle cx="286.9" cy="443.2" r="7"/><circle cx="697.5" cy="1067.1" r="7"/><circle cx="336.5" cy="440.3" r="7"/><circle cx="326.5" cy="417.5" r="7"/><circle cx="691.7" cy="1058.3" r="7"/><circle cx="376.3" cy="540.8" r="7"/><circle cx="735.7" cy="1046.3" r="7"/><circle cx="935.1" cy="338.6" r="7"/></g><g fill="#6b9dca"><circle cx="802.8" cy="713.4" r="7"/><circle cx="295.7" cy="406.4" r="7"/><circle cx="608.0" cy="1024.3" r="7"/><circle cx="638.6" cy="1038.4" r="7"/><circle cx="785.5" cy="698.1" r="7"/><circle cx="358.2" cy="521.9" r="7"/><circle cx="755.8" cy="492.3" r="7"/><circle cx="724.7" cy="1054.2" r="7"/></g><g fill="#689ac8"><circle cx="308.8" cy="495.8" r="7"/><circle cx="800.2" cy="624.4" r="7"/><circle cx="798.4" cy="482.1" r="7"/><circle cx="899.8" cy="948.9" r="7"/><circle cx="755.4" cy="449.0" r="7"/><circle cx="434.6" cy="806.3" r="7"/><circle cx="640.8" cy="1059.4" r="7"/><circle cx="778.8" cy="528.6" r="7"/><circle cx="660.9" cy="500.6" r="7"/><circle cx="373.9" cy="813.5" r="7"/></g><g fill="#6697c7"><circle cx="753.1" cy="502.8" r="7"/><circle cx="760.1" cy="555.6" r="7"/><circle cx="767.2" cy="487.3" r="7"/><circle cx="572.0" cy="991.8" r="7"/><circle cx="786.9" cy="454.5" r="7"/><circle cx="1101.9" cy="482.7" r="7"/><circle cx="341.8" cy="442.2" r="7"/><circle cx="686.5" cy="1043.9" r="7"/><circle cx="361.3" cy="793.3" r="7"/></g><g fill="#6494c5"><circle cx="743.3" cy="497.9" r="7"/><circle cx="776.3" cy="466.2" r="7"/><circle cx="348.9" cy="824.9" r="7"/><circle cx="743.6" cy="504.5" r="7"/><circle cx="944.0" cy="857.9" r="7"/></g><g fill="#6290c0"><circle cx="392.8" cy="799.0" r="7"/><circle cx="414.5" cy="849.6" r="7"/><circle cx="412.1" cy="547.5" r="7"/></g><g fill="#608cba"><circle cx="760.3" cy="697.3" r="7"/><circle cx="372.0" cy="532.2" r="7"/><circle cx="348.9" cy="832.6" r="7"/><circle cx="343.9" cy="828.8" r="7"/></g><g fill="#5e89b5"><circle cx="361.2" cy="810.5" r="7"/><circle cx="391.1" cy="834.5" r="7"/></g><g fill="#608cba"><circle cx="301.2" cy="406.7" r="7"/><circle cx="409.0" cy="844.1" r="7"/></g><g fill="#6290c0"><circle cx="772.2" cy="508.1" r="7"/></g><g fill="#6494c5"><circle cx="413.0" cy="816.8" r="7"/><circle cx="359.2" cy="837.2" r="7"/><circle cx="349.4" cy="456.5" r="7"/><circle cx="784.0" cy="501.1" r="7"/><circle cx="302.3" cy="444.4" r="7"/></g><g fill="#6697c7"><circle cx="371.0" cy="816.1" r="7"/><circle cx="793.7" cy="462.8" r="7"/><circle cx="394.9" cy="797.8" r="7"/><circle cx="335.2" cy="794.7" r="7"/></g><g fill="#689ac8"><circle cx="412.8" cy="551.5" r="7"/><circle cx="682.0" cy="1053.1" r="7"/><circle cx="356.5" cy="461.4" r="7"/><circle cx="823.5" cy="710.7" r="7"/><circle cx="330.8" cy="434.3" r="7"/><circle cx="746.7" cy="537.7" r="7"/><circle cx="697.0" cy="1044.7" r="7"/></g><g fill="#6b9dca"><circle cx="771.6" cy="692.4" r="7"/><circle cx="778.4" cy="513.7" r="7"/><circle cx="717.2" cy="1055.6" r="7"/><circle cx="963.6" cy="890.1" r="7"/><circle cx="333.1" cy="803.7" r="7"/><circle cx="342.9" cy="556.8" r="7"/><circle cx="320.5" cy="439.8" r="7"/><circle cx="735.0" cy="715.6" r="7"/></g><g fill="#6da0cb"><circle cx="724.2" cy="1007.9" r="7"/><circle cx="348.2" cy="792.5" r="7"/><circle cx="642.4" cy="1066.5" r="7"/><circle cx="352.1" cy="814.0" r="7"/><circle cx="328.9" cy="812.0" r="7"/><circle cx="554.4" cy="1040.2" r="7"/><circle cx="426.3" cy="414.1" r="7"/><circle cx="671.4" cy="1080.0" r="7"/></g><g fill="#70a4cd"><circle cx="368.7" cy="797.9" r="7"/><circle cx="338.4" cy="571.7" r="7"/><circle cx="692.4" cy="1005.1" r="7"/><circle cx="662.9" cy="1014.0" r="7"/><circle cx="431.5" cy="800.4" r="7"/><circle cx="293.3" cy="466.4" r="7"/><circle cx="968.0" cy="861.1" r="7"/><circle cx="818.0" cy="615.1" r="7"/><circle cx="345.5" cy="475.2" r="7"/><circle cx="904.2" cy="437.3" r="7"/><circle cx="317.5" cy="475.9" r="7"/><circle cx="394.9" cy="490.9" r="7"/></g><g fill="#72a7cf"><circle cx="669.7" cy="221.1" r="7"/><circle cx="228.5" cy="379.2" r="7"/><circle cx="587.5" cy="1067.6" r="7"/><circle cx="564.7" cy="805.2" r="7"/><circle cx="684.7" cy="1005.6" r="7"/><circle cx="563.1" cy="1001.1" r="7"/><circle cx="916.5" cy="334.0" r="7"/><circle cx="1116.8" cy="509.2" r="7"/><circle cx="273.3" cy="406.6" r="7"/><circle cx="357.7" cy="442.6" r="7"/><circle cx="913.6" cy="430.4" r="7"/><circle cx="694.5" cy="1041.0" r="7"/><circle cx="370.2" cy="403.7" r="7"/></g><g fill="#74aad0"><circle cx="792.6" cy="476.7" r="7"/><circle cx="949.9" cy="856.2" r="7"/><circle cx="374.7" cy="429.8" r="7"/><circle cx="339.6" cy="515.3" r="7"/><circle cx="611.8" cy="961.6" r="7"/><circle cx="938.5" cy="878.9" r="7"/><circle cx="380.1" cy="791.2" r="7"/><circle cx="1011.2" cy="821.6" r="7"/><circle cx="564.4" cy="996.2" r="7"/><circle cx="700.1" cy="1027.5" r="7"/><circle cx="345.3" cy="443.6" r="7"/><circle cx="287.4" cy="490.8" r="7"/><circle cx="839.7" cy="568.8" r="7"/><circle cx="347.3" cy="408.0" r="7"/><circle cx="1026.4" cy="479.3" r="7"/><circle cx="933.4" cy="907.1" r="7"/><circle cx="712.4" cy="372.3" r="7"/><circle cx="970.6" cy="439.2" r="7"/><circle cx="352.9" cy="487.4" r="7"/><circle cx="755.6" cy="702.2" r="7"/></g><g fill="#77add2"><circle cx="1010.1" cy="456.3" r="7"/><circle cx="341.4" cy="362.3" r="7"/><circle cx="1014.8" cy="440.4" r="7"/><circle cx="668.2" cy="487.7" r="7"/><circle cx="780.9" cy="623.4" r="7"/><circle cx="522.8" cy="209.5" r="7"/><circle cx="578.7" cy="985.3" r="7"/><circle cx="811.6" cy="782.5" r="7"/><circle cx="347.7" cy="379.9" r="7"/><circle cx="990.2" cy="452.9" r="7"/><circle cx="940.5" cy="397.3" r="7"/><circle cx="397.9" cy="285.3" r="7"/><circle cx="713.5" cy="657.1" r="7"/><circle cx="868.0" cy="847.4" r="7"/><circle cx="968.7" cy="786.9" r="7"/><circle cx="680.6" cy="361.4" r="7"/><circle cx="803.3" cy="754.8" r="7"/><circle cx="991.1" cy="419.6" r="7"/><circle cx="398.6" cy="381.1" r="7"/><circle cx="366.8" cy="488.5" r="7"/></g><g fill="#79b0d3"><circle cx="427.0" cy="717.7" r="7"/><circle cx="660.1" cy="1021.3" r="7"/><circle cx="354.5" cy="817.6" r="7"/><circle cx="638.8" cy="981.6" r="7"/><circle cx="337.7" cy="381.6" r="7"/><circle cx="374.5" cy="512.0" r="7"/><circle cx="627.2" cy="955.7" r="7"/><circle cx="963.0" cy="807.1" r="7"/><circle cx="889.8" cy="888.3" r="7"/><circle cx="787.8" cy="276.8" r="7"/><circle cx="507.1" cy="746.2" r="7"/><circle cx="549.6" cy="1038.2" r="7"/><circle cx="476.2" cy="409.9" r="7"/><circle cx="353.0" cy="483.7" r="7"/><circle cx="873.4" cy="827.8" r="7"/><circle cx="409.7" cy="392.9" r="7"/><circle cx="493.9" cy="234.4" r="7"/></g><g fill="#7bb3d5"><circle cx="897.6" cy="921.2" r="7"/><circle cx="958.9" cy="311.0" r="7"/><circle cx="741.1" cy="713.0" r="7"/><circle cx="631.5" cy="932.2" r="7"/><circle cx="666.1" cy="310.3" r="7"/><circle cx="883.4" cy="629.2" r="7"/><circle cx="244.4" cy="305.2" r="7"/><circle cx="447.2" cy="348.4" r="7"/><circle cx="423.9" cy="374.4" r="7"/><circle cx="675.2" cy="314.4" r="7"/><circle cx="415.3" cy="438.5" r="7"/><circle cx="532.3" cy="1010.7" r="7"/><circle cx="1113.4" cy="507.9" r="7"/><circle cx="1025.9" cy="291.7" r="7"/><circle cx="908.3" cy="939.2" r="7"/><circle cx="902.1" cy="923.9" r="7"/><circle cx="521.7" cy="540.9" r="7"/></g><g fill="#81b7d7"><circle cx="693.9" cy="959.3" r="7"/><circle cx="868.1" cy="421.6" r="7"/><circle cx="464.3" cy="352.6" r="7"/><circle cx="325.8" cy="347.5" r="7"/><circle cx="419.7" cy="287.4" r="7"/><circle cx="533.0" cy="324.8" r="7"/><circle cx="894.9" cy="929.6" r="7"/><circle cx="364.3" cy="358.0" r="7"/><circle cx="356.4" cy="348.2" r="7"/><circle cx="503.4" cy="228.3" r="7"/><circle cx="478.3" cy="357.6" r="7"/><circle cx="652.9" cy="225.2" r="7"/><circle cx="281.2" cy="384.3" r="7"/><circle cx="440.5" cy="339.5" r="7"/><circle cx="960.8" cy="829.3" r="7"/><circle cx="235.3" cy="339.5" r="7"/><circle cx="660.3" cy="224.1" r="7"/><circle cx="912.9" cy="782.2" r="7"/><circle cx="710.1" cy="264.6" r="7"/><circle cx="309.6" cy="285.9" r="7"/></g><g fill="#86bad9"><circle cx="748.0" cy="715.2" r="7"/><circle cx="700.2" cy="370.5" r="7"/><circle cx="591.0" cy="410.4" r="7"/><circle cx="677.7" cy="356.3" r="7"/><circle cx="413.7" cy="350.5" r="7"/><circle cx="760.5" cy="256.8" r="7"/><circle cx="1014.7" cy="268.3" r="7"/><circle cx="528.9" cy="444.9" r="7"/><circle cx="637.9" cy="979.4" r="7"/><circle cx="427.6" cy="761.7" r="7"/><circle cx="703.5" cy="451.6" r="7"/><circle cx="440.4" cy="720.2" r="7"/><circle cx="821.6" cy="943.5" r="7"/><circle cx="567.3" cy="904.0" r="7"/><circle cx="250.6" cy="317.8" r="7"/><circle cx="512.3" cy="460.1" r="7"/><circle cx="499.3" cy="338.4" r="7"/><circle cx="533.5" cy="887.0" r="7"/><circle cx="881.6" cy="850.9" r="7"/><circle cx="738.3" cy="689.3" r="7"/><circle cx="866.2" cy="921.6" r="7"/><circle cx="506.5" cy="694.2" r="7"/><circle cx="578.3" cy="934.4" r="7"/></g><g fill="#8cbedb"><circle cx="853.2" cy="833.1" r="7"/><circle cx="969.5" cy="333.0" r="7"/><circle cx="1042.9" cy="324.8" r="7"/><circle cx="637.1" cy="521.4" r="7"/><circle cx="287.5" cy="368.4" r="7"/><circle cx="645.6" cy="453.5" r="7"/><circle cx="824.8" cy="945.2" r="7"/><circle cx="929.4" cy="869.7" r="7"/><circle cx="680.3" cy="479.7" r="7"/><circle cx="493.9" cy="738.7" r="7"/><circle cx="218.3" cy="453.8" r="7"/><circle cx="276.4" cy="303.1" r="7"/><circle cx="875.1" cy="816.0" r="7"/><circle cx="928.7" cy="798.5" r="7"/><circle cx="1024.3" cy="307.0" r="7"/><circle cx="740.2" cy="725.3" r="7"/><circle cx="909.1" cy="394.2" r="7"/></g><g fill="#92c1dd"><circle cx="350.6" cy="347.1" r="7"/><circle cx="929.6" cy="822.0" r="7"/><circle cx="625.0" cy="215.2" r="7"/><circle cx="806.8" cy="899.4" r="7"/><circle cx="661.5" cy="468.2" r="7"/><circle cx="479.2" cy="754.8" r="7"/><circle cx="548.0" cy="904.9" r="7"/><circle cx="750.8" cy="310.2" r="7"/><circle cx="707.2" cy="636.2" r="7"/><circle cx="754.4" cy="262.9" r="7"/><circle cx="571.8" cy="407.4" r="7"/><circle cx="850.6" cy="934.3" r="7"/><circle cx="352.7" cy="390.3" r="7"/><circle cx="594.5" cy="456.9" r="7"/><circle cx="1006.0" cy="473.8" r="7"/><circle cx="520.3" cy="453.3" r="7"/><circle cx="850.8" cy="799.4" r="7"/><circle cx="620.8" cy="271.3" r="7"/><circle cx="776.4" cy="268.1" r="7"/><circle cx="760.2" cy="714.3" r="7"/><circle cx="983.1" cy="444.0" r="7"/><circle cx="503.2" cy="241.5" r="7"/><circle cx="928.0" cy="794.4" r="7"/><circle cx="584.9" cy="461.9" r="7"/><circle cx="871.7" cy="640.2" r="7"/><circle cx="423.2" cy="395.7" r="7"/><circle cx="288.6" cy="294.1" r="7"/><circle cx="356.5" cy="568.5" r="7"/><circle cx="500.2" cy="365.9" r="7"/><circle cx="781.5" cy="287.0" r="7"/><circle cx="887.4" cy="795.5" r="7"/><circle cx="930.9" cy="413.6" r="7"/><circle cx="909.2" cy="856.8" r="7"/></g><g fill="#97c5de"><circle cx="556.4" cy="1057.3" r="7"/><circle cx="362.2" cy="291.6" r="7"/><circle cx="575.2" cy="986.2" r="7"/><circle cx="774.6" cy="633.6" r="7"/><circle cx="732.2" cy="881.1" r="7"/><circle cx="900.8" cy="845.0" r="7"/><circle cx="671.5" cy="359.0" r="7"/><circle cx="335.3" cy="399.8" r="7"/><circle cx="550.3" cy="313.0" r="7"/><circle cx="487.6" cy="345.2" r="7"/><circle cx="705.5" cy="358.7" r="7"/><circle cx="452.8" cy="373.1" r="7"/><circle cx="634.6" cy="917.1" r="7"/><circle cx="694.4" cy="650.4" r="7"/></g><g fill="#9dc8e0"><circle cx="808.6" cy="919.3" r="7"/><circle cx="872.2" cy="929.9" r="7"/><circle cx="397.0" cy="755.4" r="7"/><circle cx="915.9" cy="431.6" r="7"/><circle cx="791.4" cy="301.3" r="7"/><circle cx="1054.8" cy="314.9" r="7"/><circle cx="752.3" cy="268.3" r="7"/><circle cx="538.9" cy="901.2" r="7"/><circle cx="738.9" cy="704.2" r="7"/><circle cx="556.8" cy="957.6" r="7"/><circle cx="643.1" cy="301.7" r="7"/><circle cx="756.1" cy="632.4" r="7"/><circle cx="945.7" cy="883.0" r="7"/></g><g fill="#a2cce2"><circle cx="815.2" cy="964.8" r="7"/><circle cx="407.1" cy="405.9" r="7"/><circle cx="690.3" cy="471.2" r="7"/><circle cx="542.9" cy="293.7" r="7"/><circle cx="690.5" cy="891.7" r="7"/><circle cx="1066.7" cy="495.0" r="7"/><circle cx="412.3" cy="349.3" r="7"/><circle cx="752.3" cy="329.0" r="7"/><circle cx="524.4" cy="755.3" r="7"/><circle cx="1061.7" cy="469.5" r="7"/><circle cx="555.0" cy="954.9" r="7"/><circle cx="688.1" cy="271.3" r="7"/><circle cx="464.5" cy="399.4" r="7"/><circle cx="1096.8" cy="488.4" r="7"/><circle cx="882.4" cy="875.9" r="7"/><circle cx="874.5" cy="651.4" r="7"/><circle cx="626.3" cy="543.8" r="7"/></g><g fill="#a8cfe4"><circle cx="359.2" cy="740.8" r="7"/><circle cx="607.4" cy="225.4" r="7"/><circle cx="583.2" cy="437.6" r="7"/><circle cx="553.9" cy="445.9" r="7"/><circle cx="842.1" cy="355.3" r="7"/><circle cx="787.8" cy="847.3" r="7"/><circle cx="568.2" cy="319.3" r="7"/><circle cx="717.7" cy="657.3" r="7"/><circle cx="462.1" cy="376.4" r="7"/><circle cx="783.1" cy="899.0" r="7"/></g><g fill="#add3e6"><circle cx="785.5" cy="933.1" r="7"/><circle cx="458.7" cy="276.9" r="7"/><circle cx="874.7" cy="804.9" r="7"/><circle cx="432.6" cy="294.9" r="7"/><circle cx="217.7" cy="390.0" r="7"/><circle cx="474.0" cy="259.1" r="7"/><circle cx="410.3" cy="316.9" r="7"/><circle cx="555.4" cy="568.4" r="7"/><circle cx="636.5" cy="268.5" r="7"/><circle cx="610.3" cy="480.8" r="7"/><circle cx="783.8" cy="276.0" r="7"/><circle cx="578.3" cy="740.6" r="7"/><circle cx="595.6" cy="232.7" r="7"/><circle cx="669.4" cy="716.0" r="7"/><circle cx="876.1" cy="628.2" r="7"/><circle cx="424.7" cy="720.5" r="7"/><circle cx="448.4" cy="300.1" r="7"/></g><g fill="#b3d6e8"><circle cx="467.6" cy="237.4" r="7"/><circle cx="789.8" cy="627.2" r="7"/><circle cx="698.9" cy="250.9" r="7"/><circle cx="584.3" cy="479.9" r="7"/><circle cx="577.8" cy="431.2" r="7"/><circle cx="556.3" cy="310.4" r="7"/><circle cx="696.4" cy="283.3" r="7"/><circle cx="625.6" cy="462.1" r="7"/><circle cx="697.3" cy="691.7" r="7"/><circle cx="628.4" cy="515.2" r="7"/><circle cx="558.2" cy="896.2" r="7"/><circle cx="639.8" cy="262.5" r="7"/></g><g fill="#b7d9e9"><circle cx="476.0" cy="327.9" r="7"/><circle cx="424.2" cy="274.5" r="7"/><circle cx="859.7" cy="387.3" r="7"/><circle cx="898.1" cy="503.0" r="7"/><circle cx="827.4" cy="338.8" r="7"/><circle cx="637.2" cy="292.9" r="7"/><circle cx="482.3" cy="710.3" r="7"/><circle cx="550.1" cy="454.5" r="7"/><circle cx="221.7" cy="424.8" r="7"/><circle cx="332.4" cy="289.9" r="7"/></g><g fill="#bcdbea"><circle cx="561.4" cy="545.0" r="7"/><circle cx="1078.9" cy="485.6" r="7"/><circle cx="941.4" cy="402.7" r="7"/><circle cx="685.5" cy="645.8" r="7"/><circle cx="615.1" cy="262.0" r="7"/><circle cx="566.4" cy="468.6" r="7"/><circle cx="615.1" cy="473.0" r="7"/><circle cx="1031.7" cy="325.6" r="7"/></g><g fill="#c0ddec"><circle cx="968.7" cy="417.8" r="7"/><circle cx="692.2" cy="801.9" r="7"/><circle cx="779.2" cy="850.3" r="7"/><circle cx="780.5" cy="847.6" r="7"/><circle cx="600.0" cy="463.9" r="7"/><circle cx="720.2" cy="874.3" r="7"/></g><g fill="#c4dfed"><circle cx="910.7" cy="292.4" r="7"/><circle cx="542.6" cy="534.7" r="7"/><circle cx="627.5" cy="253.7" r="7"/><circle cx="715.8" cy="732.7" r="7"/><circle cx="880.1" cy="497.0" r="7"/><circle cx="777.9" cy="736.8" r="7"/><circle cx="654.6" cy="773.6" r="7"/><circle cx="659.0" cy="874.7" r="7"/><circle cx="869.6" cy="510.0" r="7"/><circle cx="579.3" cy="308.4" r="7"/></g><g fill="#c9e2ee"><circle cx="564.9" cy="522.1" r="7"/><circle cx="860.2" cy="531.2" r="7"/><circle cx="543.8" cy="813.7" r="7"/><circle cx="882.7" cy="411.0" r="7"/><circle cx="859.2" cy="590.0" r="7"/><circle cx="634.4" cy="739.9" r="7"/></g><g fill="#cde4ef"><circle cx="1047.0" cy="474.2" r="7"/><circle cx="699.6" cy="882.0" r="7"/><circle cx="595.1" cy="833.5" r="7"/><circle cx="694.0" cy="866.7" r="7"/><circle cx="710.3" cy="717.5" r="7"/><circle cx="875.3" cy="395.7" r="7"/><circle cx="705.0" cy="747.0" r="7"/></g><g fill="#d2e6f1"><circle cx="731.9" cy="824.0" r="7"/><circle cx="648.8" cy="827.7" r="7"/><circle cx="619.4" cy="690.2" r="7"/><circle cx="548.6" cy="296.0" r="7"/></g><g fill="#d6e8f2"><circle cx="624.7" cy="780.9" r="7"/><circle cx="737.5" cy="832.8" r="7"/><circle cx="774.3" cy="802.3" r="7"/><circle cx="581.7" cy="760.4" r="7"/></g><g fill="#daebf3"><circle cx="979.4" cy="667.8" r="7"/><circle cx="532.7" cy="874.5" r="7"/><circle cx="543.4" cy="511.9" r="7"/><circle cx="613.7" cy="445.3" r="7"/><circle cx="626.3" cy="721.9" r="7"/><circle cx="713.8" cy="727.2" r="7"/></g><g fill="#dfedf4"><circle cx="582.9" cy="504.5" r="7"/><circle cx="739.0" cy="758.9" r="7"/><circle cx="579.3" cy="807.6" r="7"/><circle cx="866.0" cy="385.2" r="7"/></g><g fill="#e1eef5"><circle cx="554.2" cy="828.9" r="7"/><circle cx="694.1" cy="836.8" r="7"/><circle cx="654.6" cy="693.0" r="7"/><circle cx="870.2" cy="580.5" r="7"/><circle cx="697.5" cy="751.7" r="7"/></g><g fill="#e4eff5"><circle cx="733.4" cy="757.0" r="7"/><circle cx="645.5" cy="799.5" r="7"/><circle cx="613.0" cy="752.3" r="7"/></g><g fill="#e7f1f6"><circle cx="604.5" cy="854.6" r="7"/><circle cx="716.1" cy="852.5" r="7"/><circle cx="595.0" cy="758.7" r="7"/><circle cx="973.6" cy="645.4" r="7"/></g><g fill="#e9f2f6"><circle cx="970.9" cy="649.3" r="7"/><circle cx="654.1" cy="840.6" r="7"/><circle cx="739.1" cy="850.2" r="7"/><circle cx="590.7" cy="731.0" r="7"/></g><g fill="#ecf3f7"><circle cx="513.2" cy="506.4" r="7"/><circle cx="676.6" cy="725.4" r="7"/><circle cx="659.9" cy="802.7" r="7"/><circle cx="962.3" cy="652.1" r="7"/></g><g fill="#f1f6f8"><circle cx="602.3" cy="708.1" r="7"/><circle cx="615.2" cy="686.0" r="7"/></g><g fill="#f4f7f8"><circle cx="722.0" cy="765.3" r="7"/><circle cx="605.8" cy="724.9" r="7"/><circle cx="703.2" cy="759.4" r="7"/></g><g fill="#f9f9f9"><circle cx="640.1" cy="797.0" r="7"/><circle cx="603.4" cy="753.4" r="7"/></g><g fill="#faf5f3"><circle cx="612.1" cy="696.4" r="7"/></g><g fill="#fcf0e9"><circle cx="621.5" cy="694.8" r="7"/></g><g fill="#faf5f3"><circle cx="690.0" cy="833.4" r="7"/></g><g fill="#faf7f6"><circle cx="613.0" cy="691.2" r="7"/></g><g fill="#f9f9f9"><circle cx="638.3" cy="733.6" r="7"/></g><g fill="#f7f8f9"><circle cx="609.4" cy="696.4" r="7"/></g><g fill="#f4f7f8"><circle cx="772.1" cy="790.0" r="7"/></g><g fill="#f1f6f8"><circle cx="651.3" cy="765.5" r="7"/><circle cx="723.7" cy="832.3" r="7"/></g><g fill="#eff4f7"><circle cx="664.2" cy="841.3" r="7"/><circle cx="657.7" cy="745.2" r="7"/></g><g fill="#ecf3f7"><circle cx="605.8" cy="798.8" r="7"/></g><g fill="#e9f2f6"><circle cx="676.8" cy="815.6" r="7"/><circle cx="957.0" cy="494.6" r="7"/><circle cx="934.8" cy="589.1" r="7"/></g><g fill="#e7f1f6"><circle cx="776.6" cy="910.3" r="7"/><circle cx="723.4" cy="730.0" r="7"/></g><g fill="#e4eff5"><circle cx="544.9" cy="845.7" r="7"/><circle cx="660.3" cy="829.8" r="7"/></g><g fill="#e1eef5"><circle cx="604.4" cy="788.5" r="7"/><circle cx="609.7" cy="742.7" r="7"/><circle cx="947.6" cy="658.0" r="7"/><circle cx="736.3" cy="836.0" r="7"/><circle cx="719.1" cy="830.0" r="7"/></g><g fill="#dfedf4"><circle cx="662.0" cy="743.1" r="7"/><circle cx="940.7" cy="591.5" r="7"/></g><g fill="#daebf3"><circle cx="607.4" cy="790.1" r="7"/></g><g fill="#d6e8f2"><circle cx="634.3" cy="716.5" r="7"/><circle cx="735.4" cy="833.4" r="7"/><circle cx="465.0" cy="268.0" r="7"/><circle cx="905.7" cy="644.3" r="7"/><circle cx="700.8" cy="851.0" r="7"/><circle cx="687.2" cy="887.4" r="7"/><circle cx="943.6" cy="648.6" r="7"/></g><g fill="#d2e6f1"><circle cx="688.7" cy="787.6" r="7"/><circle cx="611.2" cy="709.5" r="7"/><circle cx="608.0" cy="831.3" r="7"/><circle cx="522.3" cy="518.6" r="7"/><circle cx="635.1" cy="264.4" r="7"/><circle cx="718.3" cy="850.7" r="7"/><circle cx="956.4" cy="489.2" r="7"/></g><g fill="#cde4ef"><circle cx="562.6" cy="838.8" r="7"/><circle cx="795.4" cy="737.0" r="7"/><circle cx="583.8" cy="739.9" r="7"/><circle cx="640.3" cy="244.7" r="7"/><circle cx="883.1" cy="521.1" r="7"/><circle cx="599.6" cy="275.1" r="7"/><circle cx="752.8" cy="413.0" r="7"/><circle cx="867.4" cy="383.2" r="7"/><circle cx="613.1" cy="769.8" r="7"/><circle cx="541.5" cy="503.1" r="7"/><circle cx="809.7" cy="796.3" r="7"/></g><g fill="#c9e2ee"><circle cx="536.7" cy="281.8" r="7"/><circle cx="640.2" cy="862.7" r="7"/><circle cx="769.9" cy="810.1" r="7"/><circle cx="750.8" cy="736.5" r="7"/><circle cx="735.0" cy="821.8" r="7"/><circle cx="642.8" cy="785.9" r="7"/><circle cx="464.2" cy="280.5" r="7"/><circle cx="720.9" cy="855.2" r="7"/><circle cx="553.4" cy="833.3" r="7"/></g><g fill="#c4dfed"><circle cx="748.4" cy="765.6" r="7"/><circle cx="537.7" cy="545.0" r="7"/><circle cx="739.0" cy="751.5" r="7"/><circle cx="627.6" cy="807.0" r="7"/></g><g fill="#c0ddec"><circle cx="752.5" cy="748.0" r="7"/><circle cx="556.9" cy="811.0" r="7"/><circle cx="554.1" cy="459.7" r="7"/><circle cx="931.3" cy="402.1" r="7"/><circle cx="920.6" cy="525.0" r="7"/><circle cx="647.0" cy="802.9" r="7"/><circle cx="683.0" cy="885.4" r="7"/><circle cx="1008.6" cy="455.7" r="7"/><circle cx="864.0" cy="398.6" r="7"/><circle cx="758.2" cy="426.4" r="7"/></g><g fill="#bcdbea"><circle cx="721.7" cy="772.2" r="7"/><circle cx="755.2" cy="743.4" r="7"/><circle cx="560.5" cy="800.8" r="7"/><circle cx="297.7" cy="307.3" r="7"/><circle cx="357.9" cy="747.8" r="7"/><circle cx="575.7" cy="524.3" r="7"/><circle cx="588.1" cy="922.6" r="7"/><circle cx="745.0" cy="887.4" r="7"/><circle cx="420.6" cy="300.9" r="7"/></g><g fill="#b7d9e9"><circle cx="579.3" cy="544.2" r="7"/><circle cx="917.2" cy="682.7" r="7"/><circle cx="775.4" cy="737.5" r="7"/><circle cx="583.8" cy="896.0" r="7"/><circle cx="515.4" cy="477.8" r="7"/><circle cx="441.3" cy="278.4" r="7"/><circle cx="573.9" cy="760.8" r="7"/><circle cx="788.0" cy="919.5" r="7"/><circle cx="505.0" cy="276.2" r="7"/><circle cx="672.7" cy="776.9" r="7"/><circle cx="442.5" cy="319.7" r="7"/><circle cx="547.5" cy="510.6" r="7"/><circle cx="795.2" cy="932.9" r="7"/></g><g fill="#b3d6e8"><circle cx="278.3" cy="295.8" r="7"/><circle cx="416.5" cy="263.0" r="7"/><circle cx="846.7" cy="796.2" r="7"/><circle cx="769.2" cy="694.9" r="7"/><circle cx="688.3" cy="283.4" r="7"/><circle cx="733.8" cy="288.5" r="7"/><circle cx="940.1" cy="791.0" r="7"/><circle cx="636.8" cy="1025.3" r="7"/><circle cx="801.0" cy="440.5" r="7"/><circle cx="343.6" cy="268.8" r="7"/><circle cx="657.9" cy="716.1" r="7"/></g><g fill="#add3e6"><circle cx="598.7" cy="479.3" r="7"/><circle cx="840.6" cy="575.0" r="7"/><circle cx="583.2" cy="469.9" r="7"/><circle cx="676.7" cy="681.3" r="7"/><circle cx="380.3" cy="472.6" r="7"/><circle cx="975.7" cy="433.0" r="7"/><circle cx="506.0" cy="311.7" r="7"/><circle cx="578.8" cy="911.3" r="7"/><circle cx="615.4" cy="245.9" r="7"/><circle cx="561.9" cy="242.6" r="7"/><circle cx="581.4" cy="283.6" r="7"/><circle cx="545.7" cy="543.2" r="7"/><circle cx="597.3" cy="889.5" r="7"/></g><g fill="#a8cfe4"><circle cx="682.5" cy="236.0" r="7"/><circle cx="602.8" cy="497.9" r="7"/><circle cx="493.7" cy="272.6" r="7"/><circle cx="955.5" cy="321.6" r="7"/><circle cx="371.1" cy="721.5" r="7"/><circle cx="798.5" cy="430.8" r="7"/><circle cx="631.2" cy="443.5" r="7"/></g><g fill="#a2cce2"><circle cx="870.3" cy="657.6" r="7"/><circle cx="508.6" cy="752.0" r="7"/><circle cx="451.5" cy="734.6" r="7"/><circle cx="756.7" cy="274.6" r="7"/><circle cx="634.8" cy="517.0" r="7"/><circle cx="531.5" cy="905.9" r="7"/><circle cx="692.1" cy="430.1" r="7"/><circle cx="478.4" cy="719.3" r="7"/><circle cx="548.5" cy="309.4" r="7"/><circle cx="482.3" cy="382.4" r="7"/><circle cx="618.6" cy="473.7" r="7"/><circle cx="702.7" cy="664.7" r="7"/><circle cx="367.8" cy="290.4" r="7"/><circle cx="1043.8" cy="315.6" r="7"/><circle cx="597.1" cy="541.3" r="7"/><circle cx="423.0" cy="725.1" r="7"/><circle cx="292.4" cy="314.3" r="7"/><circle cx="539.7" cy="577.4" r="7"/><circle cx="465.0" cy="270.5" r="7"/><circle cx="224.9" cy="383.3" r="7"/></g><g fill="#9dc8e0"><circle cx="768.4" cy="275.2" r="7"/><circle cx="846.5" cy="878.4" r="7"/><circle cx="620.8" cy="281.6" r="7"/><circle cx="404.1" cy="314.4" r="7"/><circle cx="492.2" cy="742.6" r="7"/><circle cx="888.9" cy="674.1" r="7"/><circle cx="550.8" cy="947.3" r="7"/><circle cx="1025.3" cy="455.3" r="7"/><circle cx="366.4" cy="252.6" r="7"/><circle cx="466.0" cy="314.1" r="7"/><circle cx="1029.5" cy="320.1" r="7"/></g><g fill="#97c5de"><circle cx="1085.7" cy="496.5" r="7"/><circle cx="667.8" cy="478.9" r="7"/><circle cx="1022.7" cy="286.9" r="7"/><circle cx="776.2" cy="669.2" r="7"/><circle cx="497.7" cy="354.0" r="7"/><circle cx="419.6" cy="259.9" r="7"/><circle cx="347.5" cy="306.3" r="7"/><circle cx="872.2" cy="637.2" r="7"/><circle cx="787.4" cy="636.1" r="7"/><circle cx="315.0" cy="326.8" r="7"/><circle cx="791.7" cy="830.2" r="7"/><circle cx="600.3" cy="568.9" r="7"/><circle cx="499.9" cy="934.5" r="7"/><circle cx="902.5" cy="663.0" r="7"/></g><g fill="#92c1dd"><circle cx="919.7" cy="804.8" r="7"/><circle cx="824.5" cy="902.0" r="7"/><circle cx="729.4" cy="625.7" r="7"/><circle cx="733.8" cy="278.6" r="7"/><circle cx="378.8" cy="301.9" r="7"/><circle cx="551.8" cy="427.3" r="7"/><circle cx="293.0" cy="411.1" r="7"/><circle cx="812.0" cy="903.7" r="7"/><circle cx="393.4" cy="735.1" r="7"/><circle cx="1034.3" cy="473.3" r="7"/><circle cx="599.0" cy="409.4" r="7"/><circle cx="663.5" cy="262.3" r="7"/><circle cx="625.5" cy="212.5" r="7"/><circle cx="1025.2" cy="489.9" r="7"/><circle cx="827.9" cy="847.7" r="7"/><circle cx="936.5" cy="831.2" r="7"/></g><g fill="#8cbedb"><circle cx="546.5" cy="1014.9" r="7"/><circle cx="803.0" cy="858.5" r="7"/><circle cx="1031.0" cy="295.9" r="7"/><circle cx="221.5" cy="385.0" r="7"/><circle cx="870.0" cy="616.4" r="7"/><circle cx="786.8" cy="622.2" r="7"/><circle cx="914.4" cy="783.6" r="7"/><circle cx="727.9" cy="281.4" r="7"/><circle cx="363.3" cy="350.1" r="7"/><circle cx="785.5" cy="828.1" r="7"/><circle cx="394.4" cy="332.1" r="7"/><circle cx="998.8" cy="286.6" r="7"/><circle cx="959.4" cy="837.8" r="7"/><circle cx="911.2" cy="868.4" r="7"/><circle cx="942.7" cy="855.8" r="7"/><circle cx="981.1" cy="820.8" r="7"/><circle cx="1068.2" cy="309.6" r="7"/><circle cx="848.6" cy="933.5" r="7"/><circle cx="823.2" cy="846.7" r="7"/><circle cx="981.7" cy="833.6" r="7"/><circle cx="985.7" cy="782.3" r="7"/><circle cx="912.4" cy="792.7" r="7"/><circle cx="886.3" cy="933.6" r="7"/><circle cx="526.1" cy="226.2" r="7"/></g><g fill="#86bad9"><circle cx="879.7" cy="900.7" r="7"/><circle cx="492.1" cy="341.4" r="7"/><circle cx="541.1" cy="570.6" r="7"/><circle cx="387.4" cy="358.4" r="7"/><circle cx="844.9" cy="889.1" r="7"/><circle cx="813.0" cy="957.6" r="7"/><circle cx="515.4" cy="446.3" r="7"/><circle cx="673.3" cy="462.5" r="7"/><circle cx="889.9" cy="826.6" r="7"/><circle cx="805.0" cy="436.2" r="7"/><circle cx="905.7" cy="325.1" r="7"/><circle cx="807.6" cy="320.1" r="7"/><circle cx="703.6" cy="271.5" r="7"/><circle cx="289.8" cy="359.0" r="7"/><circle cx="524.1" cy="1005.1" r="7"/><circle cx="841.2" cy="507.4" r="7"/><circle cx="869.8" cy="929.0" r="7"/><circle cx="475.5" cy="342.0" r="7"/><circle cx="987.1" cy="810.5" r="7"/><circle cx="932.9" cy="812.4" r="7"/></g><g fill="#81b7d7"><circle cx="607.0" cy="1016.1" r="7"/><circle cx="628.4" cy="983.9" r="7"/><circle cx="921.2" cy="936.1" r="7"/><circle cx="678.3" cy="986.9" r="7"/><circle cx="814.9" cy="703.3" r="7"/><circle cx="750.2" cy="630.9" r="7"/><circle cx="1060.0" cy="366.6" r="7"/><circle cx="934.7" cy="877.1" r="7"/><circle cx="1018.8" cy="471.7" r="7"/><circle cx="648.0" cy="934.9" r="7"/><circle cx="958.7" cy="316.7" r="7"/><circle cx="876.0" cy="924.7" r="7"/><circle cx="962.9" cy="824.4" r="7"/><circle cx="912.1" cy="333.2" r="7"/><circle cx="292.8" cy="382.3" r="7"/><circle cx="265.3" cy="352.9" r="7"/><circle cx="539.5" cy="215.2" r="7"/><circle cx="828.9" cy="871.9" r="7"/></g><g fill="#7bb3d5"><circle cx="611.5" cy="1026.1" r="7"/><circle cx="820.9" cy="306.9" r="7"/><circle cx="442.8" cy="227.8" r="7"/><circle cx="671.2" cy="224.1" r="7"/><circle cx="546.9" cy="932.0" r="7"/><circle cx="340.7" cy="354.9" r="7"/><circle cx="390.8" cy="370.2" r="7"/><circle cx="698.3" cy="1053.9" r="7"/><circle cx="719.8" cy="309.8" r="7"/><circle cx="405.4" cy="268.5" r="7"/><circle cx="782.2" cy="618.0" r="7"/><circle cx="834.2" cy="951.0" r="7"/><circle cx="376.6" cy="553.1" r="7"/><circle cx="362.4" cy="483.0" r="7"/><circle cx="601.7" cy="969.7" r="7"/><circle cx="895.7" cy="836.4" r="7"/></g><g fill="#79b0d3"><circle cx="393.2" cy="464.2" r="7"/><circle cx="870.4" cy="871.3" r="7"/><circle cx="903.9" cy="427.0" r="7"/><circle cx="837.5" cy="431.2" r="7"/><circle cx="265.8" cy="338.2" r="7"/><circle cx="921.1" cy="833.6" r="7"/><circle cx="1026.6" cy="463.5" r="7"/><circle cx="956.9" cy="873.8" r="7"/><circle cx="791.7" cy="664.3" r="7"/><circle cx="653.5" cy="319.9" r="7"/><circle cx="306.2" cy="359.9" r="7"/><circle cx="237.1" cy="412.1" r="7"/><circle cx="958.6" cy="812.4" r="7"/><circle cx="946.6" cy="871.7" r="7"/><circle cx="989.4" cy="833.9" r="7"/><circle cx="339.8" cy="408.4" r="7"/><circle cx="353.3" cy="547.4" r="7"/></g><g fill="#77add2"><circle cx="661.2" cy="1048.8" r="7"/><circle cx="312.7" cy="399.6" r="7"/><circle cx="627.7" cy="1059.0" r="7"/><circle cx="669.8" cy="997.6" r="7"/><circle cx="949.9" cy="336.0" r="7"/><circle cx="254.3" cy="341.1" r="7"/><circle cx="418.6" cy="238.8" r="7"/><circle cx="1011.5" cy="489.5" r="7"/><circle cx="362.7" cy="537.5" r="7"/><circle cx="522.8" cy="955.1" r="7"/><circle cx="539.6" cy="961.0" r="7"/><circle cx="871.9" cy="919.3" r="7"/><circle cx="999.7" cy="847.5" r="7"/><circle cx="1038.1" cy="299.9" r="7"/><circle cx="485.2" cy="749.3" r="7"/><circle cx="892.5" cy="428.0" r="7"/><circle cx="676.0" cy="468.4" r="7"/><circle cx="680.5" cy="954.1" r="7"/><circle cx="850.3" cy="886.7" r="7"/></g><g fill="#74aad0"><circle cx="886.1" cy="422.6" r="7"/><circle cx="982.6" cy="872.4" r="7"/><circle cx="909.7" cy="827.1" r="7"/><circle cx="918.3" cy="428.7" r="7"/><circle cx="328.8" cy="397.5" r="7"/><circle cx="255.2" cy="337.2" r="7"/><circle cx="213.8" cy="392.8" r="7"/><circle cx="530.2" cy="219.9" r="7"/><circle cx="971.3" cy="876.1" r="7"/><circle cx="931.9" cy="317.1" r="7"/><circle cx="729.8" cy="632.0" r="7"/><circle cx="978.6" cy="450.9" r="7"/><circle cx="404.2" cy="377.0" r="7"/><circle cx="573.7" cy="397.9" r="7"/><circle cx="840.4" cy="435.1" r="7"/><circle cx="522.6" cy="997.6" r="7"/><circle cx="993.9" cy="861.9" r="7"/><circle cx="617.6" cy="942.7" r="7"/><circle cx="383.9" cy="471.3" r="7"/><circle cx="270.2" cy="327.3" r="7"/><circle cx="374.5" cy="446.0" r="7"/><circle cx="337.4" cy="484.5" r="7"/><circle cx="891.5" cy="323.8" r="7"/></g><g fill="#72a7cf"><circle cx="391.1" cy="482.3" r="7"/><circle cx="676.5" cy="949.2" r="7"/><circle cx="591.7" cy="1026.7" r="7"/><circle cx="577.5" cy="1015.8" r="7"/><circle cx="343.2" cy="528.4" r="7"/><circle cx="307.2" cy="458.6" r="7"/><circle cx="992.1" cy="787.3" r="7"/><circle cx="575.2" cy="987.0" r="7"/><circle cx="986.8" cy="423.2" r="7"/></g><g fill="#70a4cd"><circle cx="333.0" cy="478.1" r="7"/><circle cx="331.1" cy="427.0" r="7"/><circle cx="361.6" cy="447.3" r="7"/><circle cx="872.8" cy="330.6" r="7"/><circle cx="637.1" cy="1078.4" r="7"/><circle cx="699.3" cy="1017.9" r="7"/><circle cx="890.8" cy="917.9" r="7"/><circle cx="566.2" cy="1031.8" r="7"/><circle cx="409.0" cy="428.3" r="7"/><circle cx="981.7" cy="447.5" r="7"/></g><g fill="#6da0cb"><circle cx="735.7" cy="1029.4" r="7"/><circle cx="409.6" cy="776.7" r="7"/><circle cx="781.1" cy="713.6" r="7"/><circle cx="650.6" cy="1052.9" r="7"/><circle cx="327.4" cy="502.7" r="7"/><circle cx="782.2" cy="533.4" r="7"/><circle cx="695.3" cy="1050.9" r="7"/><circle cx="357.5" cy="443.3" r="7"/><circle cx="356.1" cy="505.2" r="7"/><circle cx="321.0" cy="451.2" r="7"/><circle cx="619.9" cy="922.0" r="7"/><circle cx="697.1" cy="1060.9" r="7"/><circle cx="329.0" cy="551.7" r="7"/><circle cx="428.8" cy="542.8" r="7"/></g><g fill="#6b9dca"><circle cx="932.7" cy="337.8" r="7"/><circle cx="644.2" cy="985.8" r="7"/><circle cx="359.5" cy="806.8" r="7"/></g><g fill="#689ac8"><circle cx="386.7" cy="460.5" r="7"/><circle cx="329.0" cy="562.3" r="7"/><circle cx="601.2" cy="1075.7" r="7"/><circle cx="780.5" cy="465.9" r="7"/><circle cx="720.0" cy="1035.9" r="7"/><circle cx="287.4" cy="393.5" r="7"/><circle cx="774.0" cy="685.8" r="7"/><circle cx="307.7" cy="408.6" r="7"/></g><g fill="#6697c7"><circle cx="745.9" cy="468.0" r="7"/><circle cx="355.9" cy="475.7" r="7"/><circle cx="1064.5" cy="447.8" r="7"/><circle cx="633.0" cy="948.4" r="7"/><circle cx="316.5" cy="479.5" r="7"/><circle cx="383.7" cy="816.6" r="7"/><circle cx="344.6" cy="578.9" r="7"/></g><g fill="#6494c5"><circle cx="749.0" cy="524.3" r="7"/><circle cx="1014.7" cy="808.1" r="7"/><circle cx="314.6" cy="440.7" r="7"/><circle cx="679.1" cy="1045.9" r="7"/><circle cx="412.0" cy="845.9" r="7"/><circle cx="368.5" cy="528.7" r="7"/><circle cx="356.1" cy="808.3" r="7"/></g><g fill="#6290c0"><circle cx="327.9" cy="565.8" r="7"/><circle cx="374.0" cy="834.3" r="7"/></g><g fill="#608cba"><circle cx="298.7" cy="474.0" r="7"/><circle cx="771.0" cy="488.4" r="7"/><circle cx="412.9" cy="851.5" r="7"/><circle cx="775.6" cy="522.7" r="7"/><circle cx="419.5" cy="798.3" r="7"/></g><g fill="#5e89b5"><circle cx="392.4" cy="836.1" r="7"/><circle cx="385.3" cy="792.3" r="7"/><circle cx="388.2" cy="829.6" r="7"/></g><g fill="#54769b"><circle cx="430.4" cy="544.4" r="7"/></g><g fill="#5c85b0"><circle cx="791.4" cy="461.2" r="7"/><circle cx="282.4" cy="473.4" r="7"/></g><g fill="#5e89b5"><circle cx="743.9" cy="466.6" r="7"/></g><g fill="#608cba"><circle cx="933.5" cy="322.1" r="7"/><circle cx="773.0" cy="490.7" r="7"/><circle cx="411.1" cy="832.1" r="7"/><circle cx="372.6" cy="827.1" r="7"/></g><g fill="#6290c0"><circle cx="687.9" cy="1058.2" r="7"/><circle cx="762.6" cy="487.9" r="7"/><circle cx="681.5" cy="405.5" r="7"/></g><g fill="#6494c5"><circle cx="755.0" cy="471.1" r="7"/><circle cx="606.6" cy="1050.0" r="7"/><circle cx="304.5" cy="486.2" r="7"/><circle cx="397.2" cy="824.1" r="7"/><circle cx="392.9" cy="539.7" r="7"/></g><g fill="#689ac8"><circle cx="345.7" cy="832.5" r="7"/><circle cx="374.2" cy="418.6" r="7"/><circle cx="324.0" cy="526.9" r="7"/></g><g fill="#6b9dca"><circle cx="328.4" cy="494.2" r="7"/><circle cx="329.1" cy="801.2" r="7"/><circle cx="990.1" cy="463.0" r="7"/><circle cx="596.9" cy="985.4" r="7"/><circle cx="351.2" cy="834.4" r="7"/><circle cx="750.7" cy="1023.4" r="7"/><circle cx="331.4" cy="797.9" r="7"/><circle cx="882.5" cy="320.9" r="7"/><circle cx="343.9" cy="569.9" r="7"/><circle cx="676.1" cy="954.4" r="7"/><circle cx="419.1" cy="813.7" r="7"/><circle cx="602.6" cy="1051.3" r="7"/><circle cx="823.1" cy="619.5" r="7"/><circle cx="654.2" cy="313.3" r="7"/><circle cx="932.6" cy="863.9" r="7"/></g><g fill="#6da0cb"><circle cx="308.4" cy="402.0" r="7"/><circle cx="615.6" cy="1034.4" r="7"/><circle cx="691.9" cy="996.4" r="7"/><circle cx="966.7" cy="835.0" r="7"/><circle cx="959.1" cy="883.7" r="7"/><circle cx="390.3" cy="463.9" r="7"/><circle cx="742.8" cy="696.0" r="7"/><circle cx="328.8" cy="484.9" r="7"/><circle cx="933.4" cy="852.0" r="7"/><circle cx="748.7" cy="515.1" r="7"/></g><g fill="#70a4cd"><circle cx="849.5" cy="428.1" r="7"/><circle cx="904.2" cy="435.8" r="7"/><circle cx="334.6" cy="458.4" r="7"/><circle cx="622.2" cy="978.1" r="7"/><circle cx="368.6" cy="403.9" r="7"/><circle cx="934.7" cy="336.0" r="7"/><circle cx="989.4" cy="824.1" r="7"/><circle cx="724.3" cy="457.4" r="7"/><circle cx="503.7" cy="979.7" r="7"/><circle cx="985.8" cy="787.3" r="7"/><circle cx="337.7" cy="515.9" r="7"/><circle cx="757.5" cy="458.6" r="7"/><circle cx="969.4" cy="790.4" r="7"/><circle cx="939.2" cy="809.0" r="7"/></g><g fill="#72a7cf"><circle cx="386.0" cy="550.5" r="7"/><circle cx="680.2" cy="1055.0" r="7"/><circle cx="392.4" cy="392.9" r="7"/><circle cx="332.7" cy="354.0" r="7"/><circle cx="325.5" cy="521.7" r="7"/><circle cx="552.0" cy="1036.5" r="7"/><circle cx="349.4" cy="458.2" r="7"/><circle cx="344.4" cy="411.3" r="7"/><circle cx="916.0" cy="901.5" r="7"/><circle cx="344.7" cy="496.6" r="7"/><circle cx="541.5" cy="1023.1" r="7"/><circle cx="275.5" cy="383.3" r="7"/></g><g fill="#74aad0"><circle cx="348.1" cy="456.6" r="7"/><circle cx="408.8" cy="784.6" r="7"/><circle cx="929.1" cy="908.2" r="7"/><circle cx="501.8" cy="976.1" r="7"/><circle cx="329.3" cy="570.8" r="7"/><circle cx="330.6" cy="498.6" r="7"/><circle cx="639.5" cy="1073.0" r="7"/><circle cx="1060.7" cy="450.1" r="7"/><circle cx="337.1" cy="577.9" r="7"/><circle cx="338.0" cy="510.1" r="7"/><circle cx="620.4" cy="943.1" r="7"/><circle cx="920.2" cy="316.3" r="7"/><circle cx="911.9" cy="893.4" r="7"/><circle cx="636.8" cy="543.7" r="7"/><circle cx="502.8" cy="724.7" r="7"/><circle cx="996.1" cy="427.3" r="7"/><circle cx="340.3" cy="377.5" r="7"/><circle cx="352.2" cy="413.0" r="7"/><circle cx="999.8" cy="453.2" r="7"/><circle cx="960.2" cy="824.6" r="7"/><circle cx="600.7" cy="1024.3" r="7"/><circle cx="913.9" cy="878.8" r="7"/><circle cx="788.4" cy="476.8" r="7"/><circle cx="324.3" cy="509.0" r="7"/></g><g fill="#77add2"><circle cx="519.7" cy="948.7" r="7"/><circle cx="607.6" cy="1002.5" r="7"/><circle cx="969.4" cy="816.1" r="7"/><circle cx="624.2" cy="1062.1" r="7"/><circle cx="920.8" cy="886.4" r="7"/><circle cx="565.5" cy="1039.1" r="7"/><circle cx="592.2" cy="973.2" r="7"/><circle cx="354.8" cy="440.6" r="7"/><circle cx="961.6" cy="891.9" r="7"/><circle cx="516.0" cy="970.6" r="7"/><circle cx="652.1" cy="508.0" r="7"/><circle cx="662.5" cy="356.2" r="7"/><circle cx="232.7" cy="412.7" r="7"/></g><g fill="#79b0d3"><circle cx="362.8" cy="476.9" r="7"/><circle cx="910.1" cy="318.8" r="7"/><circle cx="530.3" cy="944.7" r="7"/><circle cx="337.9" cy="439.6" r="7"/><circle cx="276.0" cy="356.7" r="7"/><circle cx="989.0" cy="846.3" r="7"/><circle cx="504.5" cy="353.6" r="7"/><circle cx="372.4" cy="578.0" r="7"/><circle cx="391.6" cy="436.3" r="7"/><circle cx="350.7" cy="279.7" r="7"/><circle cx="933.7" cy="883.1" r="7"/><circle cx="293.9" cy="388.7" r="7"/><circle cx="751.3" cy="246.7" r="7"/></g><g fill="#7bb3d5"><circle cx="348.5" cy="566.1" r="7"/><circle cx="841.1" cy="934.5" r="7"/><circle cx="1107.8" cy="508.5" r="7"/><circle cx="909.4" cy="435.1" r="7"/><circle cx="367.2" cy="550.7" r="7"/><circle cx="416.9" cy="403.7" r="7"/><circle cx="594.3" cy="997.5" r="7"/><circle cx="338.2" cy="493.5" r="7"/><circle cx="1050.6" cy="312.5" r="7"/><circle cx="818.3" cy="776.1" r="7"/><circle cx="619.1" cy="492.9" r="7"/><circle cx="369.7" cy="311.9" r="7"/><circle cx="1109.8" cy="496.8" r="7"/><circle cx="536.1" cy="973.4" r="7"/><circle cx="992.4" cy="832.4" r="7"/></g><g fill="#81b7d7"><circle cx="1003.7" cy="805.5" r="7"/><circle cx="829.5" cy="503.7" r="7"/><circle cx="608.2" cy="949.5" r="7"/><circle cx="298.1" cy="329.8" r="7"/><circle cx="540.3" cy="423.2" r="7"/><circle cx="443.8" cy="410.6" r="7"/><circle cx="214.8" cy="402.8" r="7"/><circle cx="923.6" cy="864.4" r="7"/><circle cx="480.5" cy="751.9" r="7"/><circle cx="334.7" cy="495.4" r="7"/><circle cx="820.3" cy="771.9" r="7"/><circle cx="828.0" cy="329.2" r="7"/><circle cx="907.5" cy="853.4" r="7"/><circle cx="377.3" cy="418.2" r="7"/><circle cx="357.2" cy="353.8" r="7"/><circle cx="527.1" cy="936.7" r="7"/><circle cx="757.3" cy="272.0" r="7"/><circle cx="311.1" cy="318.4" r="7"/></g><g fill="#86bad9"><circle cx="579.6" cy="987.8" r="7"/><circle cx="443.1" cy="241.2" r="7"/><circle cx="650.3" cy="946.3" r="7"/><circle cx="707.4" cy="291.7" r="7"/><circle cx="680.5" cy="1073.5" r="7"/><circle cx="349.7" cy="366.2" r="7"/><circle cx="755.3" cy="659.5" r="7"/><circle cx="867.8" cy="844.4" r="7"/><circle cx="628.7" cy="296.2" r="7"/><circle cx="533.1" cy="328.2" r="7"/><circle cx="721.4" cy="638.7" r="7"/><circle cx="1033.0" cy="288.8" r="7"/><circle cx="423.1" cy="386.3" r="7"/><circle cx="823.0" cy="285.5" r="7"/><circle cx="958.9" cy="851.8" r="7"/><circle cx="505.6" cy="244.5" r="7"/><circle cx="851.2" cy="813.8" r="7"/><circle cx="496.2" cy="228.1" r="7"/><circle cx="219.3" cy="384.9" r="7"/><circle cx="344.8" cy="310.3" r="7"/></g><g fill="#8cbedb"><circle cx="775.6" cy="676.1" r="7"/><circle cx="589.8" cy="540.1" r="7"/><circle cx="854.5" cy="877.0" r="7"/><circle cx="880.0" cy="839.8" r="7"/><circle cx="597.1" cy="1008.8" r="7"/><circle cx="365.4" cy="362.7" r="7"/><circle cx="777.7" cy="318.0" r="7"/><circle cx="1028.9" cy="820.4" r="7"/><circle cx="391.0" cy="267.5" r="7"/><circle cx="511.1" cy="1000.4" r="7"/><circle cx="795.6" cy="283.8" r="7"/><circle cx="355.4" cy="305.1" r="7"/><circle cx="856.1" cy="837.5" r="7"/><circle cx="799.8" cy="877.2" r="7"/><circle cx="583.2" cy="906.2" r="7"/><circle cx="949.2" cy="816.1" r="7"/><circle cx="409.6" cy="243.2" r="7"/><circle cx="795.9" cy="972.9" r="7"/><circle cx="636.6" cy="930.7" r="7"/><circle cx="610.8" cy="474.6" r="7"/><circle cx="404.2" cy="274.1" r="7"/><circle cx="805.2" cy="423.7" r="7"/><circle cx="606.9" cy="983.0" r="7"/></g><g fill="#92c1dd"><circle cx="563.8" cy="197.3" r="7"/><circle cx="540.2" cy="454.8" r="7"/><circle cx="418.1" cy="386.7" r="7"/><circle cx="776.1" cy="297.0" r="7"/><circle cx="994.9" cy="816.4" r="7"/><circle cx="882.0" cy="825.0" r="7"/><circle cx="880.1" cy="914.5" r="7"/><circle cx="942.0" cy="407.3" r="7"/><circle cx="845.6" cy="855.5" r="7"/><circle cx="498.9" cy="342.6" r="7"/><circle cx="340.8" cy="350.1" r="7"/><circle cx="332.6" cy="330.6" r="7"/><circle cx="872.6" cy="938.0" r="7"/><circle cx="755.2" cy="719.5" r="7"/><circle cx="516.8" cy="444.4" r="7"/><circle cx="849.0" cy="539.3" r="7"/><circle cx="1008.4" cy="785.7" r="7"/><circle cx="742.4" cy="241.4" r="7"/><circle cx="802.5" cy="340.1" r="7"/><circle cx="636.3" cy="1008.4" r="7"/><circle cx="922.5" cy="911.7" r="7"/><circle cx="746.7" cy="876.5" r="7"/></g><g fill="#97c5de"><circle cx="483.2" cy="239.6" r="7"/><circle cx="692.5" cy="451.2" r="7"/><circle cx="358.7" cy="328.1" r="7"/><circle cx="813.1" cy="948.9" r="7"/><circle cx="622.3" cy="536.2" r="7"/><circle cx="503.2" cy="736.4" r="7"/><circle cx="515.8" cy="458.1" r="7"/><circle cx="439.9" cy="347.0" r="7"/><circle cx="749.6" cy="688.9" r="7"/><circle cx="364.9" cy="297.1" r="7"/><circle cx="607.2" cy="304.6" r="7"/><circle cx="904.0" cy="883.3" r="7"/><circle cx="1017.1" cy="284.5" r="7"/><circle cx="529.8" cy="992.9" r="7"/><circle cx="330.7" cy="311.8" r="7"/><circle cx="781.5" cy="698.0" r="7"/><circle cx="608.5" cy="444.3" r="7"/><circle cx="584.7" cy="921.0" r="7"/><circle cx="699.2" cy="1050.6" r="7"/><circle cx="426.3" cy="265.6" r="7"/><circle cx="616.3" cy="508.1" r="7"/><circle cx="856.9" cy="433.2" r="7"/><circle cx="733.4" cy="256.6" r="7"/><circle cx="684.4" cy="253.3" r="7"/><circle cx="824.0" cy="280.9" r="7"/><circle cx="513.7" cy="1011.5" r="7"/><circle cx="631.7" cy="893.3" r="7"/><circle cx="942.8" cy="822.8" r="7"/><circle cx="745.3" cy="259.1" r="7"/></g><g fill="#9dc8e0"><circle cx="579.2" cy="453.4" r="7"/><circle cx="502.7" cy="350.3" r="7"/><circle cx="732.1" cy="269.0" r="7"/><circle cx="613.1" cy="895.8" r="7"/><circle cx="704.5" cy="255.2" r="7"/><circle cx="828.7" cy="921.8" r="7"/><circle cx="487.0" cy="245.5" r="7"/><circle cx="533.9" cy="427.6" r="7"/><circle cx="666.3" cy="326.6" r="7"/><circle cx="1020.7" cy="490.1" r="7"/><circle cx="383.2" cy="320.0" r="7"/><circle cx="775.8" cy="852.8" r="7"/><circle cx="527.2" cy="244.0" r="7"/><circle cx="546.5" cy="447.0" r="7"/><circle cx="695.5" cy="653.1" r="7"/></g><g fill="#a2cce2"><circle cx="814.5" cy="736.2" r="7"/><circle cx="914.0" cy="432.5" r="7"/><circle cx="769.9" cy="304.0" r="7"/><circle cx="742.7" cy="266.9" r="7"/><circle cx="667.3" cy="267.4" r="7"/><circle cx="417.6" cy="379.4" r="7"/><circle cx="816.4" cy="814.6" r="7"/><circle cx="529.2" cy="925.0" r="7"/><circle cx="1013.8" cy="796.8" r="7"/><circle cx="791.3" cy="951.8" r="7"/></g><g fill="#a8cfe4"><circle cx="535.3" cy="291.6" r="7"/><circle cx="483.9" cy="256.0" r="7"/><circle cx="674.5" cy="686.9" r="7"/><circle cx="608.4" cy="975.9" r="7"/><circle cx="705.1" cy="676.0" r="7"/><circle cx="672.5" cy="233.0" r="7"/><circle cx="491.7" cy="254.1" r="7"/><circle cx="786.4" cy="857.0" r="7"/><circle cx="390.8" cy="345.5" r="7"/><circle cx="867.9" cy="874.1" r="7"/><circle cx="471.0" cy="292.5" r="7"/><circle cx="546.9" cy="556.1" r="7"/><circle cx="412.0" cy="271.2" r="7"/><circle cx="596.1" cy="271.7" r="7"/><circle cx="722.7" cy="302.2" r="7"/><circle cx="524.7" cy="535.1" r="7"/><circle cx="692.1" cy="667.4" r="7"/><circle cx="438.7" cy="365.0" r="7"/><circle cx="615.9" cy="891.0" r="7"/></g><g fill="#add3e6"><circle cx="512.2" cy="757.0" r="7"/><circle cx="985.8" cy="316.5" r="7"/><circle cx="512.5" cy="257.6" r="7"/><circle cx="432.1" cy="309.2" r="7"/><circle cx="910.3" cy="679.5" r="7"/><circle cx="768.8" cy="875.0" r="7"/><circle cx="341.0" cy="271.1" r="7"/><circle cx="528.1" cy="542.4" r="7"/><circle cx="622.3" cy="893.8" r="7"/><circle cx="461.9" cy="321.2" r="7"/></g><g fill="#b3d6e8"><circle cx="747.6" cy="436.6" r="7"/><circle cx="913.6" cy="791.3" r="7"/><circle cx="533.9" cy="254.4" r="7"/><circle cx="494.1" cy="724.0" r="7"/><circle cx="678.0" cy="1004.7" r="7"/><circle cx="811.9" cy="731.6" r="7"/><circle cx="430.5" cy="263.3" r="7"/><circle cx="480.6" cy="259.1" r="7"/><circle cx="502.1" cy="289.1" r="7"/><circle cx="519.8" cy="896.8" r="7"/><circle cx="840.9" cy="333.1" r="7"/></g><g fill="#b7d9e9"><circle cx="687.7" cy="796.4" r="7"/><circle cx="617.8" cy="899.5" r="7"/><circle cx="506.4" cy="897.4" r="7"/><circle cx="437.4" cy="264.2" r="7"/><circle cx="533.6" cy="231.9" r="7"/><circle cx="977.1" cy="298.0" r="7"/><circle cx="602.5" cy="879.0" r="7"/><circle cx="604.7" cy="445.3" r="7"/></g><g fill="#bcdbea"><circle cx="735.8" cy="789.8" r="7"/><circle cx="592.3" cy="544.0" r="7"/><circle cx="727.4" cy="719.2" r="7"/><circle cx="639.9" cy="288.3" r="7"/><circle cx="719.4" cy="434.6" r="7"/><circle cx="750.2" cy="430.8" r="7"/><circle cx="785.0" cy="413.9" r="7"/><circle cx="762.2" cy="827.4" r="7"/><circle cx="580.4" cy="476.4" r="7"/><circle cx="923.5" cy="410.8" r="7"/><circle cx="721.1" cy="863.3" r="7"/><circle cx="533.1" cy="261.5" r="7"/><circle cx="598.3" cy="296.3" r="7"/></g><g fill="#c0ddec"><circle cx="383.2" cy="739.6" r="7"/><circle cx="770.0" cy="758.6" r="7"/><circle cx="748.2" cy="795.8" r="7"/><circle cx="920.0" cy="667.4" r="7"/><circle cx="769.7" cy="429.1" r="7"/><circle cx="527.4" cy="472.9" r="7"/></g><g fill="#c4dfed"><circle cx="782.1" cy="677.2" r="7"/><circle cx="739.3" cy="790.1" r="7"/><circle cx="666.1" cy="811.9" r="7"/><circle cx="453.7" cy="318.7" r="7"/><circle cx="538.0" cy="507.5" r="7"/><circle cx="520.6" cy="265.2" r="7"/><circle cx="720.5" cy="876.6" r="7"/><circle cx="636.6" cy="248.6" r="7"/></g><g fill="#c9e2ee"><circle cx="545.2" cy="811.2" r="7"/><circle cx="766.2" cy="679.4" r="7"/><circle cx="764.3" cy="759.2" r="7"/><circle cx="544.0" cy="577.1" r="7"/><circle cx="532.3" cy="539.8" r="7"/><circle cx="1041.2" cy="458.7" r="7"/><circle cx="927.6" cy="510.4" r="7"/><circle cx="577.2" cy="489.1" r="7"/><circle cx="645.5" cy="274.2" r="7"/><circle cx="767.8" cy="772.7" r="7"/><circle cx="757.2" cy="848.8" r="7"/></g><g fill="#cde4ef"><circle cx="543.5" cy="479.5" r="7"/><circle cx="771.4" cy="807.1" r="7"/><circle cx="792.5" cy="274.6" r="7"/><circle cx="870.8" cy="533.1" r="7"/><circle cx="756.3" cy="807.4" r="7"/><circle cx="474.1" cy="308.7" r="7"/></g><g fill="#d2e6f1"><circle cx="656.3" cy="868.3" r="7"/><circle cx="676.5" cy="846.7" r="7"/><circle cx="638.3" cy="770.2" r="7"/><circle cx="926.9" cy="637.5" r="7"/></g><g fill="#d6e8f2"><circle cx="558.0" cy="861.3" r="7"/><circle cx="690.3" cy="783.9" r="7"/><circle cx="694.5" cy="813.5" r="7"/><circle cx="653.2" cy="743.6" r="7"/></g><g fill="#daebf3"><circle cx="641.3" cy="867.5" r="7"/><circle cx="593.8" cy="793.6" r="7"/><circle cx="574.4" cy="814.0" r="7"/></g><g fill="#dfedf4"><circle cx="697.9" cy="824.7" r="7"/><circle cx="657.4" cy="769.1" r="7"/><circle cx="562.1" cy="807.0" r="7"/></g><g fill="#e1eef5"><circle cx="639.2" cy="739.9" r="7"/><circle cx="680.5" cy="721.7" r="7"/><circle cx="647.8" cy="854.5" r="7"/><circle cx="608.5" cy="881.6" r="7"/></g><g fill="#e4eff5"><circle cx="720.1" cy="852.1" r="7"/><circle cx="641.3" cy="810.3" r="7"/><circle cx="656.7" cy="778.5" r="7"/><circle cx="706.7" cy="854.7" r="7"/><circle cx="754.7" cy="802.9" r="7"/><circle cx="939.4" cy="641.3" r="7"/></g><g fill="#e7f1f6"><circle cx="584.2" cy="828.9" r="7"/><circle cx="690.3" cy="734.2" r="7"/><circle cx="956.4" cy="648.3" r="7"/><circle cx="692.0" cy="771.8" r="7"/><circle cx="748.0" cy="749.1" r="7"/><circle cx="602.1" cy="728.1" r="7"/></g><g fill="#e9f2f6"><circle cx="1050.2" cy="492.4" r="7"/></g><g fill="#ecf3f7"><circle cx="875.3" cy="566.1" r="7"/><circle cx="693.6" cy="763.1" r="7"/></g><g fill="#eff4f7"><circle cx="629.3" cy="845.5" r="7"/><circle cx="733.8" cy="802.8" r="7"/><circle cx="687.2" cy="762.7" r="7"/><circle cx="552.6" cy="866.3" r="7"/><circle cx="748.0" cy="761.0" r="7"/></g><g fill="#f4f7f8"><circle cx="597.0" cy="758.4" r="7"/><circle cx="608.3" cy="843.7" r="7"/><circle cx="599.6" cy="778.1" r="7"/></g><g fill="#fbf4ef"><circle cx="678.5" cy="787.5" r="7"/></g><g fill="#fbf2ec"><circle cx="629.7" cy="786.9" r="7"/></g><g fill="#fde8db"><circle cx="716.4" cy="752.1" r="7"/></g><g fill="#fceee5"><circle cx="719.7" cy="802.7" r="7"/></g><g fill="#fcf0e9"><circle cx="717.6" cy="736.9" r="7"/></g><g fill="#faf5f3"><circle cx="703.9" cy="766.9" r="7"/></g><g fill="#f1f6f8"><circle cx="709.8" cy="808.7" r="7"/><circle cx="657.5" cy="783.6" r="7"/></g><g fill="#eff4f7"><circle cx="977.2" cy="664.4" r="7"/><circle cx="645.7" cy="828.6" r="7"/></g><g fill="#ecf3f7"><circle cx="588.3" cy="820.3" r="7"/></g><g fill="#e9f2f6"><circle cx="693.9" cy="796.1" r="7"/><circle cx="866.4" cy="551.9" r="7"/><circle cx="968.2" cy="641.2" r="7"/></g><g fill="#e7f1f6"><circle cx="705.5" cy="779.8" r="7"/><circle cx="642.7" cy="803.8" r="7"/><circle cx="708.5" cy="837.5" r="7"/><circle cx="698.8" cy="682.5" r="7"/><circle cx="626.2" cy="709.7" r="7"/></g><g fill="#e4eff5"><circle cx="958.9" cy="660.2" r="7"/><circle cx="532.5" cy="265.2" r="7"/><circle cx="602.1" cy="812.1" r="7"/></g><g fill="#e1eef5"><circle cx="646.7" cy="813.1" r="7"/><circle cx="523.9" cy="508.0" r="7"/><circle cx="702.7" cy="793.2" r="7"/></g><g fill="#dfedf4"><circle cx="916.1" cy="593.2" r="7"/><circle cx="631.5" cy="276.1" r="7"/><circle cx="650.1" cy="715.0" r="7"/><circle cx="629.2" cy="828.9" r="7"/><circle cx="643.3" cy="739.0" r="7"/></g><g fill="#daebf3"><circle cx="781.7" cy="802.1" r="7"/><circle cx="564.3" cy="812.0" r="7"/><circle cx="601.2" cy="795.2" r="7"/><circle cx="820.4" cy="779.1" r="7"/><circle cx="534.4" cy="475.5" r="7"/><circle cx="740.2" cy="834.6" r="7"/><circle cx="600.8" cy="744.4" r="7"/><circle cx="524.5" cy="483.4" r="7"/></g><g fill="#d6e8f2"><circle cx="829.7" cy="892.0" r="7"/><circle cx="704.6" cy="823.6" r="7"/><circle cx="361.1" cy="748.5" r="7"/><circle cx="342.5" cy="252.0" r="7"/><circle cx="985.1" cy="491.7" r="7"/></g><g fill="#d2e6f1"><circle cx="729.9" cy="824.3" r="7"/><circle cx="708.3" cy="691.5" r="7"/><circle cx="697.3" cy="715.2" r="7"/><circle cx="667.2" cy="805.3" r="7"/><circle cx="773.5" cy="435.9" r="7"/><circle cx="635.3" cy="737.9" r="7"/><circle cx="407.0" cy="719.7" r="7"/><circle cx="742.0" cy="722.1" r="7"/></g><g fill="#cde4ef"><circle cx="628.2" cy="873.5" r="7"/><circle cx="458.2" cy="357.2" r="7"/><circle cx="762.3" cy="793.7" r="7"/></g><g fill="#c9e2ee"><circle cx="730.1" cy="693.5" r="7"/><circle cx="866.1" cy="523.6" r="7"/><circle cx="649.9" cy="807.1" r="7"/></g><g fill="#c4dfed"><circle cx="955.1" cy="589.2" r="7"/><circle cx="733.2" cy="752.6" r="7"/><circle cx="541.1" cy="468.2" r="7"/><circle cx="591.3" cy="528.6" r="7"/><circle cx="606.3" cy="883.1" r="7"/><circle cx="586.6" cy="499.6" r="7"/><circle cx="751.2" cy="771.9" r="7"/></g><g fill="#c0ddec"><circle cx="595.2" cy="866.5" r="7"/><circle cx="736.6" cy="853.3" r="7"/><circle cx="604.6" cy="880.8" r="7"/><circle cx="610.8" cy="263.1" r="7"/><circle cx="558.4" cy="915.0" r="7"/><circle cx="623.1" cy="249.1" r="7"/><circle cx="961.4" cy="678.3" r="7"/><circle cx="533.5" cy="793.4" r="7"/><circle cx="572.3" cy="262.1" r="7"/><circle cx="657.3" cy="754.4" r="7"/><circle cx="858.0" cy="353.7" r="7"/><circle cx="615.2" cy="894.1" r="7"/><circle cx="714.3" cy="722.2" r="7"/><circle cx="588.2" cy="455.7" r="7"/></g><g fill="#bcdbea"><circle cx="574.2" cy="885.1" r="7"/><circle cx="732.6" cy="736.5" r="7"/><circle cx="763.0" cy="422.2" r="7"/><circle cx="538.9" cy="280.0" r="7"/><circle cx="578.5" cy="447.0" r="7"/><circle cx="433.1" cy="277.9" r="7"/><circle cx="1085.0" cy="494.1" r="7"/><circle cx="547.8" cy="484.5" r="7"/><circle cx="509.1" cy="920.8" r="7"/><circle cx="600.3" cy="498.2" r="7"/><circle cx="871.3" cy="506.5" r="7"/><circle cx="882.6" cy="390.3" r="7"/><circle cx="945.9" cy="417.6" r="7"/><circle cx="656.7" cy="853.2" r="7"/></g><g fill="#b7d9e9"><circle cx="466.0" cy="281.9" r="7"/><circle cx="534.4" cy="449.1" r="7"/><circle cx="739.8" cy="866.1" r="7"/><circle cx="688.1" cy="651.9" r="7"/><circle cx="431.2" cy="268.9" r="7"/><circle cx="748.7" cy="424.4" r="7"/><circle cx="1015.7" cy="318.7" r="7"/><circle cx="729.9" cy="423.1" r="7"/><circle cx="880.4" cy="658.2" r="7"/></g><g fill="#b3d6e8"><circle cx="441.3" cy="728.3" r="7"/><circle cx="556.9" cy="474.5" r="7"/><circle cx="775.6" cy="684.1" r="7"/><circle cx="550.3" cy="299.9" r="7"/><circle cx="780.0" cy="764.4" r="7"/><circle cx="519.1" cy="883.2" r="7"/><circle cx="727.5" cy="296.0" r="7"/><circle cx="579.8" cy="264.6" r="7"/><circle cx="560.9" cy="557.2" r="7"/><circle cx="562.3" cy="896.9" r="7"/><circle cx="1099.2" cy="504.3" r="7"/><circle cx="474.3" cy="272.2" r="7"/><circle cx="418.0" cy="345.2" r="7"/><circle cx="808.3" cy="311.5" r="7"/><circle cx="625.3" cy="233.0" r="7"/><circle cx="761.1" cy="440.7" r="7"/><circle cx="728.9" cy="418.4" r="7"/></g><g fill="#add3e6"><circle cx="566.8" cy="461.1" r="7"/><circle cx="786.8" cy="789.5" r="7"/><circle cx="885.8" cy="399.2" r="7"/><circle cx="480.0" cy="291.4" r="7"/><circle cx="542.3" cy="550.3" r="7"/><circle cx="782.5" cy="862.5" r="7"/><circle cx="491.6" cy="362.9" r="7"/><circle cx="583.1" cy="749.1" r="7"/><circle cx="409.1" cy="300.7" r="7"/><circle cx="733.4" cy="869.2" r="7"/><circle cx="279.6" cy="327.4" r="7"/><circle cx="472.9" cy="306.5" r="7"/><circle cx="547.5" cy="268.4" r="7"/><circle cx="491.8" cy="273.3" r="7"/></g><g fill="#a8cfe4"><circle cx="1023.6" cy="346.2" r="7"/><circle cx="589.2" cy="257.0" r="7"/><circle cx="1046.5" cy="488.4" r="7"/><circle cx="617.6" cy="555.2" r="7"/><circle cx="460.3" cy="332.1" r="7"/><circle cx="372.2" cy="737.8" r="7"/><circle cx="515.3" cy="528.8" r="7"/><circle cx="772.0" cy="863.7" r="7"/><circle cx="535.8" cy="283.7" r="7"/></g><g fill="#a2cce2"><circle cx="554.8" cy="325.5" r="7"/><circle cx="757.9" cy="303.6" r="7"/><circle cx="1075.5" cy="465.8" r="7"/><circle cx="834.7" cy="547.3" r="7"/><circle cx="829.1" cy="864.7" r="7"/><circle cx="484.0" cy="372.9" r="7"/><circle cx="421.8" cy="325.4" r="7"/><circle cx="700.4" cy="445.4" r="7"/><circle cx="410.1" cy="354.1" r="7"/><circle cx="828.5" cy="301.7" r="7"/><circle cx="590.4" cy="483.8" r="7"/><circle cx="859.8" cy="495.9" r="7"/><circle cx="533.0" cy="915.5" r="7"/><circle cx="781.3" cy="442.5" r="7"/><circle cx="520.8" cy="930.7" r="7"/><circle cx="842.0" cy="359.1" r="7"/><circle cx="597.2" cy="556.4" r="7"/><circle cx="553.0" cy="275.1" r="7"/></g><g fill="#9dc8e0"><circle cx="669.6" cy="268.8" r="7"/><circle cx="798.6" cy="975.7" r="7"/><circle cx="390.1" cy="372.8" r="7"/><circle cx="673.4" cy="227.8" r="7"/><circle cx="597.2" cy="899.7" r="7"/><circle cx="805.6" cy="702.9" r="7"/><circle cx="675.4" cy="220.3" r="7"/><circle cx="917.0" cy="825.2" r="7"/><circle cx="368.9" cy="372.6" r="7"/><circle cx="463.0" cy="705.1" r="7"/><circle cx="543.1" cy="326.0" r="7"/><circle cx="463.2" cy="292.2" r="7"/><circle cx="988.3" cy="309.0" r="7"/><circle cx="651.3" cy="1000.0" r="7"/><circle cx="435.5" cy="270.7" r="7"/><circle cx="714.0" cy="269.5" r="7"/><circle cx="659.4" cy="728.4" r="7"/><circle cx="624.8" cy="892.3" r="7"/></g><g fill="#97c5de"><circle cx="491.7" cy="701.7" r="7"/><circle cx="697.3" cy="645.0" r="7"/><circle cx="461.9" cy="391.7" r="7"/><circle cx="365.3" cy="542.0" r="7"/><circle cx="754.6" cy="675.5" r="7"/><circle cx="376.7" cy="297.1" r="7"/><circle cx="515.2" cy="960.6" r="7"/><circle cx="499.2" cy="725.3" r="7"/><circle cx="511.6" cy="455.5" r="7"/><circle cx="687.3" cy="287.2" r="7"/><circle cx="829.7" cy="326.3" r="7"/><circle cx="315.1" cy="448.6" r="7"/></g><g fill="#92c1dd"><circle cx="550.1" cy="970.5" r="7"/><circle cx="244.5" cy="311.4" r="7"/><circle cx="394.4" cy="273.3" r="7"/><circle cx="884.9" cy="843.3" r="7"/><circle cx="525.3" cy="772.6" r="7"/><circle cx="679.9" cy="441.0" r="7"/><circle cx="948.8" cy="885.7" r="7"/><circle cx="490.3" cy="364.4" r="7"/><circle cx="925.7" cy="392.4" r="7"/><circle cx="610.0" cy="1023.7" r="7"/><circle cx="861.0" cy="887.8" r="7"/><circle cx="834.9" cy="897.9" r="7"/><circle cx="670.5" cy="1002.2" r="7"/><circle cx="812.5" cy="844.4" r="7"/><circle cx="378.6" cy="283.5" r="7"/><circle cx="1010.0" cy="828.2" r="7"/><circle cx="692.8" cy="299.7" r="7"/><circle cx="961.5" cy="845.8" r="7"/><circle cx="1012.0" cy="826.5" r="7"/><circle cx="603.4" cy="460.7" r="7"/><circle cx="831.3" cy="897.4" r="7"/><circle cx="689.7" cy="679.7" r="7"/><circle cx="1029.9" cy="468.6" r="7"/></g><g fill="#8cbedb"><circle cx="776.3" cy="469.4" r="7"/><circle cx="497.0" cy="744.8" r="7"/><circle cx="491.8" cy="705.0" r="7"/><circle cx="963.5" cy="792.7" r="7"/><circle cx="454.6" cy="251.6" r="7"/><circle cx="983.1" cy="790.3" r="7"/><circle cx="380.5" cy="388.3" r="7"/><circle cx="433.2" cy="406.7" r="7"/><circle cx="488.2" cy="705.6" r="7"/><circle cx="522.5" cy="308.3" r="7"/><circle cx="805.2" cy="822.0" r="7"/><circle cx="848.1" cy="505.0" r="7"/><circle cx="818.8" cy="956.8" r="7"/><circle cx="505.2" cy="237.9" r="7"/><circle cx="545.6" cy="987.6" r="7"/><circle cx="900.8" cy="805.4" r="7"/><circle cx="716.5" cy="664.2" r="7"/></g><g fill="#86bad9"><circle cx="528.7" cy="564.3" r="7"/><circle cx="890.5" cy="820.6" r="7"/><circle cx="624.9" cy="1005.1" r="7"/><circle cx="823.7" cy="884.3" r="7"/><circle cx="815.0" cy="929.7" r="7"/><circle cx="640.7" cy="301.8" r="7"/><circle cx="640.6" cy="537.9" r="7"/><circle cx="658.8" cy="1074.9" r="7"/><circle cx="378.2" cy="360.8" r="7"/><circle cx="673.3" cy="470.0" r="7"/><circle cx="724.2" cy="309.7" r="7"/><circle cx="282.9" cy="493.0" r="7"/><circle cx="606.9" cy="935.1" r="7"/><circle cx="801.8" cy="970.6" r="7"/><circle cx="660.4" cy="454.4" r="7"/><circle cx="360.3" cy="372.8" r="7"/><circle cx="593.3" cy="1047.0" r="7"/><circle cx="784.7" cy="768.8" r="7"/><circle cx="314.3" cy="312.3" r="7"/><circle cx="529.3" cy="1030.6" r="7"/><circle cx="1033.4" cy="299.3" r="7"/><circle cx="358.1" cy="557.4" r="7"/></g><g fill="#81b7d7"><circle cx="829.2" cy="894.8" r="7"/><circle cx="1005.7" cy="289.5" r="7"/><circle cx="748.1" cy="672.8" r="7"/><circle cx="643.3" cy="994.8" r="7"/><circle cx="337.0" cy="394.4" r="7"/><circle cx="386.1" cy="250.7" r="7"/><circle cx="1011.8" cy="265.1" r="7"/><circle cx="413.3" cy="288.5" r="7"/><circle cx="349.4" cy="373.6" r="7"/><circle cx="257.1" cy="346.8" r="7"/><circle cx="476.8" cy="360.4" r="7"/><circle cx="353.0" cy="354.1" r="7"/><circle cx="919.7" cy="332.8" r="7"/><circle cx="500.5" cy="240.1" r="7"/><circle cx="870.3" cy="933.4" r="7"/><circle cx="379.6" cy="437.0" r="7"/><circle cx="1022.6" cy="454.4" r="7"/></g><g fill="#7bb3d5"><circle cx="602.7" cy="958.5" r="7"/><circle cx="941.8" cy="342.3" r="7"/><circle cx="829.5" cy="868.8" r="7"/><circle cx="233.0" cy="379.1" r="7"/><circle cx="639.7" cy="933.7" r="7"/><circle cx="533.0" cy="221.8" r="7"/><circle cx="488.9" cy="361.5" r="7"/><circle cx="963.0" cy="311.6" r="7"/><circle cx="672.2" cy="316.8" r="7"/><circle cx="629.7" cy="1026.2" r="7"/><circle cx="915.7" cy="833.0" r="7"/><circle cx="439.5" cy="705.0" r="7"/><circle cx="657.2" cy="272.3" r="7"/><circle cx="508.9" cy="727.8" r="7"/><circle cx="728.8" cy="1041.2" r="7"/><circle cx="317.5" cy="355.2" r="7"/><circle cx="662.2" cy="213.6" r="7"/><circle cx="911.7" cy="808.1" r="7"/><circle cx="638.1" cy="502.9" r="7"/><circle cx="636.8" cy="971.0" r="7"/></g><g fill="#79b0d3"><circle cx="632.4" cy="482.9" r="7"/><circle cx="817.2" cy="731.2" r="7"/><circle cx="505.3" cy="342.1" r="7"/><circle cx="938.3" cy="837.6" r="7"/><circle cx="289.1" cy="322.8" r="7"/><circle cx="664.7" cy="460.0" r="7"/><circle cx="549.4" cy="1032.1" r="7"/><circle cx="879.0" cy="652.5" r="7"/><circle cx="763.9" cy="251.7" r="7"/><circle cx="785.9" cy="474.2" r="7"/><circle cx="475.0" cy="399.1" r="7"/><circle cx="373.9" cy="536.1" r="7"/><circle cx="756.3" cy="1029.5" r="7"/><circle cx="972.8" cy="819.8" r="7"/><circle cx="561.5" cy="201.7" r="7"/><circle cx="559.6" cy="437.1" r="7"/><circle cx="455.2" cy="435.7" r="7"/><circle cx="799.8" cy="770.4" r="7"/><circle cx="870.8" cy="439.0" r="7"/><circle cx="368.4" cy="553.0" r="7"/></g><g fill="#77add2"><circle cx="267.0" cy="327.5" r="7"/><circle cx="844.5" cy="539.9" r="7"/><circle cx="964.8" cy="809.2" r="7"/><circle cx="759.2" cy="684.9" r="7"/><circle cx="707.7" cy="1068.5" r="7"/><circle cx="912.3" cy="326.7" r="7"/><circle cx="686.0" cy="371.7" r="7"/><circle cx="311.5" cy="485.9" r="7"/><circle cx="898.0" cy="885.5" r="7"/><circle cx="602.4" cy="1020.0" r="7"/><circle cx="845.2" cy="902.8" r="7"/><circle cx="365.6" cy="568.8" r="7"/></g><g fill="#74aad0"><circle cx="219.5" cy="396.9" r="7"/><circle cx="307.8" cy="394.8" r="7"/><circle cx="943.1" cy="785.5" r="7"/><circle cx="322.9" cy="336.5" r="7"/><circle cx="593.4" cy="1038.2" r="7"/><circle cx="335.5" cy="403.2" r="7"/><circle cx="382.9" cy="542.9" r="7"/><circle cx="707.0" cy="366.0" r="7"/><circle cx="338.8" cy="353.4" r="7"/><circle cx="911.8" cy="440.6" r="7"/><circle cx="566.6" cy="961.8" r="7"/><circle cx="342.1" cy="444.1" r="7"/><circle cx="290.7" cy="371.9" r="7"/><circle cx="1021.7" cy="474.9" r="7"/><circle cx="675.7" cy="985.3" r="7"/><circle cx="380.3" cy="478.3" r="7"/><circle cx="545.1" cy="1011.5" r="7"/><circle cx="631.0" cy="965.3" r="7"/><circle cx="594.1" cy="1033.9" r="7"/><circle cx="307.8" cy="321.1" r="7"/><circle cx="322.2" cy="522.1" r="7"/></g><g fill="#72a7cf"><circle cx="923.7" cy="325.2" r="7"/><circle cx="636.9" cy="1005.7" r="7"/><circle cx="1009.3" cy="457.7" r="7"/><circle cx="368.6" cy="477.0" r="7"/><circle cx="495.0" cy="215.9" r="7"/><circle cx="838.2" cy="563.1" r="7"/><circle cx="429.9" cy="803.8" r="7"/><circle cx="361.6" cy="518.7" r="7"/><circle cx="650.5" cy="468.8" r="7"/><circle cx="1006.6" cy="809.4" r="7"/><circle cx="1009.6" cy="807.3" r="7"/></g><g fill="#70a4cd"><circle cx="565.6" cy="1010.2" r="7"/><circle cx="680.6" cy="1076.4" r="7"/><circle cx="331.9" cy="553.4" r="7"/><circle cx="346.5" cy="519.0" r="7"/><circle cx="666.4" cy="1002.6" r="7"/><circle cx="746.4" cy="627.9" r="7"/><circle cx="342.9" cy="572.6" r="7"/><circle cx="822.7" cy="629.5" r="7"/><circle cx="618.1" cy="1036.3" r="7"/><circle cx="690.0" cy="992.7" r="7"/><circle cx="377.1" cy="502.2" r="7"/><circle cx="282.1" cy="452.5" r="7"/><circle cx="704.7" cy="392.1" r="7"/><circle cx="516.5" cy="998.6" r="7"/><circle cx="376.9" cy="515.1" r="7"/></g><g fill="#6da0cb"><circle cx="846.8" cy="835.9" r="7"/><circle cx="493.0" cy="697.5" r="7"/><circle cx="631.8" cy="951.9" r="7"/><circle cx="761.6" cy="462.5" r="7"/><circle cx="685.1" cy="399.2" r="7"/><circle cx="605.1" cy="1024.3" r="7"/><circle cx="918.9" cy="324.7" r="7"/><circle cx="402.0" cy="541.2" r="7"/><circle cx="363.9" cy="506.9" r="7"/><circle cx="312.5" cy="420.9" r="7"/></g><g fill="#6b9dca"><circle cx="677.5" cy="1063.7" r="7"/><circle cx="845.3" cy="439.1" r="7"/><circle cx="742.9" cy="1039.0" r="7"/><circle cx="341.6" cy="447.0" r="7"/><circle cx="395.9" cy="484.0" r="7"/><circle cx="829.6" cy="629.4" r="7"/><circle cx="422.1" cy="788.4" r="7"/><circle cx="763.4" cy="469.1" r="7"/><circle cx="831.7" cy="429.2" r="7"/><circle cx="702.8" cy="389.1" r="7"/><circle cx="758.4" cy="481.6" r="7"/></g><g fill="#689ac8"><circle cx="651.8" cy="957.0" r="7"/><circle cx="786.0" cy="514.8" r="7"/><circle cx="905.0" cy="872.6" r="7"/><circle cx="739.1" cy="512.4" r="7"/></g><g fill="#6697c7"><circle cx="317.6" cy="497.1" r="7"/><circle cx="709.4" cy="385.6" r="7"/><circle cx="391.0" cy="806.4" r="7"/><circle cx="340.1" cy="796.0" r="7"/><circle cx="704.3" cy="458.4" r="7"/></g><g fill="#6494c5"><circle cx="777.3" cy="510.1" r="7"/><circle cx="567.9" cy="1019.2" r="7"/><circle cx="405.0" cy="552.7" r="7"/><circle cx="400.8" cy="819.5" r="7"/><circle cx="619.1" cy="1027.1" r="7"/><circle cx="772.8" cy="516.2" r="7"/></g><g fill="#6290c0"><circle cx="710.5" cy="1036.6" r="7"/><circle cx="705.8" cy="1028.8" r="7"/><circle cx="655.0" cy="1056.1" r="7"/></g><g fill="#608cba"><circle cx="700.7" cy="1013.7" r="7"/><circle cx="388.0" cy="819.5" r="7"/></g><g fill="#5e89b5"><circle cx="335.1" cy="480.1" r="7"/><circle cx="769.5" cy="544.3" r="7"/></g><g fill="#5a81ab"><circle cx="586.0" cy="1013.2" r="7"/></g><g fill="#5c85b0"><circle cx="822.5" cy="405.0" r="7"/></g><g fill="#5e89b5"><circle cx="466.2" cy="813.8" r="7"/></g><g fill="#608cba"><circle cx="527.5" cy="820.0" r="7"/></g><g fill="#6290c0"><circle cx="972.5" cy="750.0" r="7"/><circle cx="578.8" cy="662.0" r="7"/><circle cx="576.2" cy="655.0" r="7"/></g><g fill="#6494c5"><circle cx="572.5" cy="657.0" r="7"/><circle cx="986.2" cy="763.8" r="7"/><circle cx="830.0" cy="607.5" r="7"/><circle cx="816.2" cy="557.5" r="7"/><circle cx="835.0" cy="615.0" r="7"/></g><g fill="#6697c7"><circle cx="832.5" cy="625.0" r="7"/></g><g fill="#689ac8"><circle cx="713.8" cy="513.8" r="7"/><circle cx="691.2" cy="581.2" r="7"/><circle cx="845.0" cy="715.0" r="7"/><circle cx="468.8" cy="857.5" r="7"/><circle cx="762.5" cy="886.2" r="7"/><circle cx="692.5" cy="560.0" r="7"/><circle cx="840.0" cy="630.0" r="7"/></g><g fill="#6b9dca"><circle cx="740.0" cy="377.5" r="7"/><circle cx="1086.2" cy="445.0" r="7"/><circle cx="832.5" cy="562.5" r="7"/></g><g fill="#6da0cb"><circle cx="417.5" cy="745.0" r="7"/><circle cx="650.0" cy="361.2" r="7"/><circle cx="852.5" cy="710.0" r="7"/><circle cx="836.2" cy="570.0" r="7"/><circle cx="723.8" cy="948.8" r="7"/><circle cx="880.0" cy="455.0" r="7"/></g><g fill="#70a4cd"><circle cx="423.8" cy="476.2" r="7"/><circle cx="880.0" cy="351.2" r="7"/><circle cx="517.5" cy="422.5" r="7"/><circle cx="832.5" cy="695.0" r="7"/><circle cx="510.0" cy="698.8" r="7"/><circle cx="783.8" cy="1007.5" r="7"/></g><g fill="#72a7cf"><circle cx="697.5" cy="927.5" r="7"/><circle cx="517.5" cy="432.5" r="7"/><circle cx="837.5" cy="707.5" r="7"/><circle cx="703.8" cy="930.0" r="7"/><circle cx="516.2" cy="710.0" r="7"/><circle cx="540.0" cy="398.8" r="7"/><circle cx="860.0" cy="721.2" r="7"/></g><g fill="#74aad0"><circle cx="531.2" cy="387.5" r="7"/><circle cx="432.5" cy="446.2" r="7"/><circle cx="481.2" cy="856.2" r="7"/><circle cx="732.5" cy="987.5" r="7"/><circle cx="578.8" cy="370.0" r="7"/></g><g fill="#77add2"><circle cx="536.2" cy="703.8" r="7"/><circle cx="841.2" cy="640.0" r="7"/><circle cx="1118.8" cy="498.8" r="7"/><circle cx="746.2" cy="350.5" r="7"/><circle cx="751.2" cy="952.5" r="7"/><circle cx="632.5" cy="385.0" r="7"/><circle cx="502.5" cy="422.5" r="7"/><circle cx="867.5" cy="487.5" r="7"/><circle cx="750.0" cy="982.5" r="7"/><circle cx="833.8" cy="525.0" r="7"/><circle cx="917.5" cy="543.8" r="7"/><circle cx="827.5" cy="527.5" r="7"/><circle cx="853.8" cy="455.0" r="7"/><circle cx="437.5" cy="842.5" r="7"/></g><g fill="#79b0d3"><circle cx="540.0" cy="357.5" r="7"/><circle cx="862.5" cy="483.8" r="7"/><circle cx="452.5" cy="435.0" r="7"/><circle cx="436.2" cy="815.0" r="7"/><circle cx="590.0" cy="352.0" r="7"/><circle cx="632.0" cy="372.0" r="7"/><circle cx="735.0" cy="1005.0" r="7"/></g><g fill="#7bb3d5"><circle cx="851.2" cy="372.5" r="7"/><circle cx="800.0" cy="470.0" r="7"/><circle cx="846.2" cy="321.2" r="7"/><circle cx="357.5" cy="923.8" r="7"/><circle cx="452.5" cy="413.8" r="7"/><circle cx="490.0" cy="892.5" r="7"/><circle cx="501.2" cy="432.5" r="7"/><circle cx="355.0" cy="935.0" r="7"/><circle cx="928.8" cy="518.8" r="7"/><circle cx="527.5" cy="710.0" r="7"/><circle cx="575.0" cy="368.0" r="7"/><circle cx="585.0" cy="351.2" r="7"/><circle cx="822.5" cy="420.0" r="7"/><circle cx="365.0" cy="933.8" r="7"/><circle cx="457.5" cy="466.2" r="7"/><circle cx="762.5" cy="957.5" r="7"/></g><g fill="#81b7d7"><circle cx="721.2" cy="995.0" r="7"/><circle cx="632.5" cy="355.0" r="7"/><circle cx="610.0" cy="345.0" r="7"/><circle cx="1035.0" cy="373.8" r="7"/></g><g fill="#86bad9"><circle cx="650.0" cy="337.5" r="7"/><circle cx="765.0" cy="993.8" r="7"/><circle cx="365.0" cy="942.5" r="7"/><circle cx="525.0" cy="350.0" r="7"/><circle cx="837.5" cy="501.2" r="7"/><circle cx="572.5" cy="351.2" r="7"/><circle cx="567.5" cy="693.8" r="7"/><circle cx="502.5" cy="885.0" r="7"/><circle cx="667.5" cy="435.0" r="7"/><circle cx="780.0" cy="967.5" r="7"/><circle cx="318.2" cy="881.2" r="7"/><circle cx="761.2" cy="942.5" r="7"/><circle cx="440.0" cy="410.0" r="7"/><circle cx="745.0" cy="348.8" r="7"/><circle cx="500.0" cy="442.5" r="7"/><circle cx="492.5" cy="992.5" r="7"/><circle cx="915.0" cy="753.8" r="7"/><circle cx="451.2" cy="512.5" r="7"/><circle cx="710.0" cy="918.8" r="7"/><circle cx="552.0" cy="352.0" r="7"/><circle cx="762.0" cy="900.6" r="7"/><circle cx="610.0" cy="355.0" r="7"/><circle cx="972.5" cy="478.8" r="7"/><circle cx="1028.8" cy="417.5" r="7"/><circle cx="433.8" cy="870.0" r="7"/><circle cx="473.8" cy="930.0" r="7"/><circle cx="477.5" cy="431.2" r="7"/></g><g fill="#8cbedb"><circle cx="638.8" cy="345.0" r="7"/><circle cx="540.0" cy="410.0" r="7"/><circle cx="990.0" cy="266.2" r="7"/><circle cx="512.5" cy="637.5" r="7"/><circle cx="430.0" cy="781.7" r="7"/><circle cx="487.5" cy="952.5" r="7"/><circle cx="244.5" cy="480.0" r="7"/><circle cx="465.0" cy="417.5" r="7"/><circle cx="598.0" cy="385.0" r="7"/><circle cx="727.7" cy="894.5" r="7"/><circle cx="452.2" cy="783.7" r="7"/><circle cx="762.5" cy="935.0" r="7"/><circle cx="507.5" cy="637.5" r="7"/><circle cx="442.5" cy="851.2" r="7"/><circle cx="557.5" cy="702.5" r="7"/><circle cx="493.8" cy="1002.5" r="7"/><circle cx="547.5" cy="345.0" r="7"/><circle cx="773.8" cy="960.0" r="7"/><circle cx="650.0" cy="380.0" r="7"/><circle cx="291.2" cy="916.2" r="7"/></g><g fill="#92c1dd"><circle cx="1020.0" cy="492.5" r="7"/><circle cx="820.0" cy="587.5" r="7"/><circle cx="560.0" cy="405.0" r="7"/><circle cx="585.0" cy="340.0" r="7"/><circle cx="517.5" cy="342.5" r="7"/><circle cx="434.0" cy="814.0" r="7"/><circle cx="695.0" cy="917.5" r="7"/><circle cx="471.2" cy="895.0" r="7"/><circle cx="830.0" cy="750.0" r="7"/><circle cx="1046.2" cy="411.2" r="7"/><circle cx="742.5" cy="908.8" r="7"/><circle cx="427.5" cy="848.8" r="7"/><circle cx="575.5" cy="693.8" r="7"/><circle cx="1107.5" cy="502.5" r="7"/><circle cx="733.8" cy="915.0" r="7"/><circle cx="925.0" cy="600.0" r="7"/><circle cx="428.8" cy="833.8" r="7"/><circle cx="907.5" cy="538.8" r="7"/><circle cx="627.5" cy="408.8" r="7"/><circle cx="655.0" cy="660.0" r="7"/><circle cx="752.0" cy="462.0" r="7"/><circle cx="603.8" cy="346.2" r="7"/><circle cx="717.5" cy="890.5" r="7"/><circle cx="752.5" cy="912.5" r="7"/><circle cx="461.2" cy="847.5" r="7"/><circle cx="458.3" cy="785.8" r="7"/><circle cx="444.0" cy="800.0" r="7"/></g><g fill="#97c5de"><circle cx="438.0" cy="792.0" r="7"/><circle cx="744.0" cy="902.7" r="7"/><circle cx="660.0" cy="410.0" r="7"/><circle cx="301.2" cy="916.2" r="7"/><circle cx="477.5" cy="983.8" r="7"/><circle cx="812.5" cy="427.5" r="7"/><circle cx="370.0" cy="955.0" r="7"/><circle cx="695.5" cy="578.8" r="7"/><circle cx="476.2" cy="412.5" r="7"/><circle cx="647.5" cy="626.2" r="7"/><circle cx="665.0" cy="648.8" r="7"/></g><g fill="#9dc8e0"><circle cx="710.0" cy="216.2" r="7"/><circle cx="662.5" cy="635.0" r="7"/><circle cx="440.0" cy="432.5" r="7"/><circle cx="445.0" cy="811.0" r="7"/><circle cx="297.5" cy="910.0" r="7"/><circle cx="292.5" cy="906.2" r="7"/><circle cx="483.8" cy="921.2" r="7"/><circle cx="448.8" cy="871.2" r="7"/><circle cx="650.0" cy="405.0" r="7"/><circle cx="533.8" cy="717.5" r="7"/><circle cx="756.0" cy="478.0" r="7"/><circle cx="418.8" cy="933.8" r="7"/><circle cx="622.5" cy="365.0" r="7"/><circle cx="830.0" cy="725.0" r="7"/><circle cx="862.5" cy="278.8" r="7"/><circle cx="966.2" cy="583.0" r="7"/><circle cx="962.5" cy="575.0" r="7"/><circle cx="935.0" cy="592.5" r="7"/><circle cx="1097.5" cy="513.8" r="7"/><circle cx="531.2" cy="380.0" r="7"/><circle cx="512.5" cy="375.0" r="7"/><circle cx="390.0" cy="963.0" r="7"/><circle cx="462.3" cy="802.0" r="7"/><circle cx="445.0" cy="813.8" r="7"/><circle cx="655.0" cy="567.5" r="7"/></g><g fill="#a2cce2"><circle cx="620.0" cy="387.5" r="7"/><circle cx="312.5" cy="910.0" r="7"/><circle cx="851.2" cy="335.0" r="7"/><circle cx="295.0" cy="900.0" r="7"/><circle cx="321.2" cy="917.5" r="7"/><circle cx="555.0" cy="371.2" r="7"/><circle cx="340.0" cy="927.5" r="7"/></g><g fill="#a8cfe4"><circle cx="768.0" cy="458.0" r="7"/><circle cx="1105.0" cy="493.8" r="7"/><circle cx="772.0" cy="467.0" r="7"/><circle cx="336.2" cy="925.0" r="7"/><circle cx="330.0" cy="923.8" r="7"/><circle cx="303.8" cy="908.8" r="7"/><circle cx="762.0" cy="451.0" r="7"/><circle cx="398.8" cy="938.8" r="7"/><circle cx="895.0" cy="300.0" r="7"/><circle cx="506.2" cy="843.8" r="7"/><circle cx="362.5" cy="950.0" r="7"/><circle cx="493.8" cy="910.0" r="7"/><circle cx="677.5" cy="560.0" r="7"/><circle cx="387.5" cy="928.8" r="7"/><circle cx="515.0" cy="360.0" r="7"/><circle cx="307.5" cy="905.0" r="7"/><circle cx="362.5" cy="962.5" r="7"/><circle cx="610.0" cy="617.5" r="7"/><circle cx="703.8" cy="215.0" r="7"/><circle cx="845.0" cy="565.0" r="7"/></g><g fill="#add3e6"><circle cx="582.5" cy="656.2" r="7"/><circle cx="895.0" cy="366.2" r="7"/><circle cx="311.2" cy="893.8" r="7"/><circle cx="790.4" cy="469.4" r="7"/><circle cx="350.0" cy="955.0" r="7"/><circle cx="685.0" cy="552.5" r="7"/><circle cx="408.0" cy="912.5" r="7"/><circle cx="789.0" cy="466.0" r="7"/><circle cx="782.0" cy="455.0" r="7"/><circle cx="360.0" cy="953.8" r="7"/><circle cx="367.5" cy="568.8" r="7"/><circle cx="520.0" cy="836.6" r="7"/><circle cx="590.0" cy="650.0" r="7"/><circle cx="890.0" cy="908.8" r="7"/><circle cx="685.8" cy="558.0" r="7"/><circle cx="346.2" cy="552.5" r="7"/><circle cx="441.2" cy="643.8" r="7"/><circle cx="299.2" cy="897.5" r="7"/><circle cx="346.2" cy="925.0" r="7"/><circle cx="377.5" cy="940.0" r="7"/></g><g fill="#b3d6e8"><circle cx="977.5" cy="307.5" r="7"/><circle cx="526.0" cy="860.0" r="7"/><circle cx="785.0" cy="368.8" r="7"/><circle cx="851.2" cy="537.5" r="7"/><circle cx="1047.5" cy="491.2" r="7"/><circle cx="355.0" cy="965.0" r="7"/><circle cx="510.0" cy="862.5" r="7"/><circle cx="890.0" cy="486.2" r="7"/><circle cx="852.5" cy="593.8" r="7"/><circle cx="933.8" cy="290.0" r="7"/><circle cx="496.0" cy="839.6" r="7"/><circle cx="967.5" cy="578.8" r="7"/><circle cx="672.5" cy="620.0" r="7"/><circle cx="965.0" cy="300.0" r="7"/><circle cx="847.5" cy="555.0" r="7"/><circle cx="728.8" cy="586.2" r="7"/><circle cx="488.8" cy="967.5" r="7"/><circle cx="837.5" cy="511.2" r="7"/><circle cx="905.0" cy="286.2" r="7"/><circle cx="835.0" cy="473.8" r="7"/><circle cx="1070.0" cy="492.5" r="7"/><circle cx="702.5" cy="912.5" r="7"/><circle cx="835.0" cy="287.5" r="7"/><circle cx="840.0" cy="577.5" r="7"/><circle cx="1092.5" cy="505.0" r="7"/><circle cx="852.5" cy="570.0" r="7"/><circle cx="767.5" cy="348.8" r="7"/><circle cx="837.5" cy="547.5" r="7"/><circle cx="496.0" cy="873.0" r="7"/><circle cx="830.0" cy="282.5" r="7"/><circle cx="741.2" cy="401.2" r="7"/><circle cx="508.0" cy="843.7" r="7"/><circle cx="376.2" cy="931.2" r="7"/></g><g fill="#b7d9e9"><circle cx="936.2" cy="301.2" r="7"/><circle cx="968.8" cy="820.0" r="7"/><circle cx="950.0" cy="290.0" r="7"/><circle cx="913.8" cy="287.0" r="7"/><circle cx="1090.0" cy="495.0" r="7"/><circle cx="513.0" cy="862.0" r="7"/><circle cx="893.8" cy="850.0" r="7"/></g><g fill="#bcdbea"><circle cx="830.0" cy="957.5" r="7"/><circle cx="961.2" cy="275.0" r="7"/><circle cx="368.8" cy="928.8" r="7"/><circle cx="853.8" cy="841.2" r="7"/><circle cx="905.0" cy="527.5" r="7"/><circle cx="855.0" cy="582.5" r="7"/><circle cx="537.5" cy="863.0" r="7"/><circle cx="820.0" cy="465.0" r="7"/><circle cx="850.0" cy="505.0" r="7"/><circle cx="462.5" cy="440.0" r="7"/><circle cx="398.8" cy="821.2" r="7"/><circle cx="917.5" cy="482.5" r="7"/><circle cx="865.0" cy="548.8" r="7"/><circle cx="890.0" cy="590.0" r="7"/><circle cx="925.0" cy="817.5" r="7"/><circle cx="845.0" cy="901.2" r="7"/><circle cx="486.2" cy="906.2" r="7"/><circle cx="496.2" cy="840.0" r="7"/><circle cx="407.5" cy="353.8" r="7"/></g><g fill="#c0ddec"><circle cx="357.5" cy="957.5" r="7"/><circle cx="427.5" cy="375.0" r="7"/><circle cx="951.2" cy="275.0" r="7"/><circle cx="955.0" cy="457.5" r="7"/><circle cx="741.2" cy="558.8" r="7"/><circle cx="670.0" cy="922.5" r="7"/><circle cx="845.0" cy="517.5" r="7"/><circle cx="496.2" cy="873.8" r="7"/></g><g fill="#c4dfed"><circle cx="880.0" cy="547.5" r="7"/><circle cx="943.8" cy="458.8" r="7"/><circle cx="890.0" cy="527.5" r="7"/><circle cx="852.5" cy="911.2" r="7"/><circle cx="852.5" cy="883.8" r="7"/><circle cx="985.0" cy="321.2" r="7"/><circle cx="453.8" cy="850.0" r="7"/><circle cx="853.8" cy="636.2" r="7"/><circle cx="855.0" cy="528.8" r="7"/></g><g fill="#c9e2ee"><circle cx="925.0" cy="507.5" r="7"/><circle cx="855.0" cy="562.5" r="7"/><circle cx="505.0" cy="465.0" r="7"/><circle cx="860.0" cy="515.0" r="7"/></g><g fill="#cde4ef"><circle cx="862.5" cy="500.0" r="7"/><circle cx="816.2" cy="511.2" r="7"/><circle cx="952.5" cy="493.8" r="7"/><circle cx="478.8" cy="895.0" r="7"/><circle cx="395.0" cy="933.8" r="7"/><circle cx="895.0" cy="517.5" r="7"/><circle cx="913.8" cy="521.2" r="7"/><circle cx="872.5" cy="528.8" r="7"/><circle cx="943.8" cy="576.2" r="7"/><circle cx="495.0" cy="412.5" r="7"/><circle cx="733.8" cy="532.5" r="7"/><circle cx="870.0" cy="508.8" r="7"/></g><g fill="#d2e6f1"><circle cx="890.0" cy="507.5" r="7"/><circle cx="437.5" cy="421.2" r="7"/></g><g fill="#d6e8f2"><circle cx="897.5" cy="497.5" r="7"/><circle cx="880.0" cy="518.8" r="7"/><circle cx="867.5" cy="585.0" r="7"/><circle cx="942.5" cy="497.5" r="7"/><circle cx="931.2" cy="493.8" r="7"/></g><g fill="#daebf3"><circle cx="882.5" cy="502.5" r="7"/><circle cx="916.2" cy="500.0" r="7"/></g><g fill="#dfedf4"><circle cx="432.5" cy="861.2" r="7"/><circle cx="380.0" cy="920.0" r="7"/><circle cx="955.0" cy="582.5" r="7"/><circle cx="865.0" cy="590.0" r="7"/></g><g fill="#e4eff5"><circle cx="948.8" cy="581.2" r="7"/><circle cx="860.0" cy="572.5" r="7"/><circle cx="820.0" cy="652.5" r="7"/><circle cx="1007.5" cy="491.2" r="7"/></g><g fill="#e7f1f6"><circle cx="862.5" cy="627.5" r="7"/><circle cx="876.2" cy="570.0" r="7"/></g><g fill="#e9f2f6"><circle cx="830.0" cy="652.5" r="7"/><circle cx="227.5" cy="467.5" r="7"/><circle cx="902.5" cy="628.8" r="7"/></g><g fill="#ecf3f7"><circle cx="863.8" cy="580.0" r="7"/><circle cx="871.2" cy="543.8" r="7"/><circle cx="265.0" cy="308.8" r="7"/><circle cx="868.8" cy="568.8" r="7"/></g><g fill="#eff4f7"><circle cx="972.5" cy="647.5" r="7"/><circle cx="960.0" cy="628.8" r="7"/><circle cx="223.8" cy="463.8" r="7"/><circle cx="876.2" cy="612.5" r="7"/><circle cx="872.5" cy="556.2" r="7"/><circle cx="575.0" cy="845.0" r="7"/></g><g fill="#f1f6f8"><circle cx="902.5" cy="656.2" r="7"/><circle cx="415.0" cy="928.8" r="7"/></g><g fill="#f4f7f8"><circle cx="562.5" cy="721.2" r="7"/><circle cx="951.2" cy="633.8" r="7"/><circle cx="983.8" cy="495.0" r="7"/><circle cx="551.2" cy="858.8" r="7"/><circle cx="842.5" cy="731.2" r="7"/></g><g fill="#f7f8f9"><circle cx="688.8" cy="877.5" r="7"/><circle cx="576.2" cy="820.0" r="7"/><circle cx="561.2" cy="822.5" r="7"/><circle cx="908.8" cy="616.2" r="7"/><circle cx="743.8" cy="872.5" r="7"/></g><g fill="#f9f9f9"><circle cx="753.8" cy="625.0" r="7"/><circle cx="725.0" cy="603.8" r="7"/><circle cx="892.5" cy="613.8" r="7"/><circle cx="718.8" cy="840.0" r="7"/><circle cx="981.2" cy="662.5" r="7"/><circle cx="921.2" cy="586.2" r="7"/></g><g fill="#faf5f3"><circle cx="843.8" cy="617.0" r="7"/><circle cx="661.2" cy="876.2" r="7"/><circle cx="667.5" cy="836.2" r="7"/></g><g fill="#fbf4ef"><circle cx="716.2" cy="685.0" r="7"/><circle cx="761.2" cy="625.0" r="7"/><circle cx="911.2" cy="605.0" r="7"/><circle cx="788.8" cy="615.0" r="7"/></g><g fill="#fbf2ec"><circle cx="666.2" cy="885.0" r="7"/><circle cx="688.8" cy="631.2" r="7"/><circle cx="681.2" cy="742.5" r="7"/><circle cx="965.0" cy="495.0" r="7"/><circle cx="570.0" cy="777.5" r="7"/></g><g fill="#fceee5"><circle cx="1082.5" cy="513.8" r="7"/><circle cx="746.2" cy="830.0" r="7"/><circle cx="840.0" cy="592.5" r="7"/><circle cx="702.5" cy="602.5" r="7"/><circle cx="967.5" cy="682.5" r="7"/><circle cx="661.2" cy="743.8" r="7"/></g><g fill="#fcece2"><circle cx="938.8" cy="581.2" r="7"/><circle cx="907.5" cy="596.2" r="7"/><circle cx="617.5" cy="831.2" r="7"/></g><g fill="#fdeadf"><circle cx="920.0" cy="596.2" r="7"/><circle cx="600.0" cy="765.0" r="7"/><circle cx="580.0" cy="783.8" r="7"/><circle cx="881.2" cy="592.5" r="7"/><circle cx="648.8" cy="861.2" r="7"/><circle cx="893.8" cy="600.0" r="7"/><circle cx="977.5" cy="673.8" r="7"/></g><g fill="#fde8db"><circle cx="902.5" cy="587.5" r="7"/><circle cx="926.2" cy="587.5" r="7"/></g><g fill="#fee6d8"><circle cx="606.2" cy="772.5" r="7"/><circle cx="782.5" cy="608.8" r="7"/></g><g fill="#fcdece"><circle cx="608.8" cy="757.5" r="7"/><circle cx="772.5" cy="611.2" r="7"/></g><g fill="#fad3c0"><circle cx="678.8" cy="706.2" r="7"/></g><g fill="#facfbb"><circle cx="615.0" cy="746.2" r="7"/></g><g fill="#f9c8b1"><circle cx="591.2" cy="801.2" r="7"/><circle cx="617.5" cy="778.8" r="7"/></g><g fill="#f7c0a8"><circle cx="690.0" cy="696.2" r="7"/><circle cx="583.8" cy="758.8" r="7"/><circle cx="1030.0" cy="493.8" r="7"/><circle cx="622.5" cy="802.5" r="7"/><circle cx="1078.8" cy="506.2" r="7"/></g><g fill="#f3b6a0"><circle cx="1057.5" cy="501.2" r="7"/></g><g fill="#f1b29c"><circle cx="678.8" cy="692.5" r="7"/></g><g fill="#efad99"><circle cx="621.2" cy="818.8" r="7"/></g><g fill="#eba391"><circle cx="621.2" cy="757.5" r="7"/><circle cx="676.2" cy="890.0" r="7"/></g><g fill="#e6998a"><circle cx="596.2" cy="777.5" r="7"/></g><g fill="#e29082"><circle cx="591.2" cy="770.0" r="7"/></g><g fill="#dd867e"><circle cx="672.5" cy="891.2" r="7"/></g><g fill="#db817b"><circle cx="768.8" cy="782.5" r="7"/></g><g fill="#d37174"><circle cx="581.2" cy="753.8" r="7"/></g><g fill="#cc626d"><circle cx="571.2" cy="767.5" r="7"/><circle cx="575.0" cy="753.8" r="7"/></g><g fill="#c95d6b"><circle cx="695.0" cy="833.8" r="7"/></g></g><g font-size="14.5" font-weight="bold" text-anchor="middle" fill="#000"><circle cx="371.25" cy="344.50" r="10.7" fill="#f0f4f9" stroke="#000" stroke-width="1"/><text x="371.25" y="349.50">1</text><circle cx="500.75" cy="736.40" r="10.7" fill="#f0f4f9" stroke="#000" stroke-width="1"/><text x="500.75" y="741.40">2</text><circle cx="890.00" cy="883.25" r="10.7" fill="#f0f4f9" stroke="#000" stroke-width="1"/><text x="890.00" y="888.25">3</text><circle cx="615.00" cy="487.00" r="10.7" fill="#f0f4f9" stroke="#000" stroke-width="1"/><text x="615.00" y="492.00">4</text><circle cx="574.75" cy="993.75" r="10.7" fill="#f0f4f9" stroke="#000" stroke-width="1"/><text x="574.75" y="998.75">5</text><circle cx="679.25" cy="265.00" r="10.7" fill="#f0f4f9" stroke="#000" stroke-width="1"/><text x="679.25" y="270.00">6</text><circle cx="979.00" cy="444.25" r="10.7" fill="#f0f4f9" stroke="#000" stroke-width="1"/><text x="979.00" y="449.25">7</text><circle cx="819.25" cy="623.00" r="10.7" fill="#f0f4f9" stroke="#000" stroke-width="1"/><text x="819.25" y="628.00">8</text><circle cx="1013.25" cy="310.50" r="10.7" fill="#f0f4f9" stroke="#000" stroke-width="1"/><text x="1013.25" y="315.50">9</text><circle cx="760.75" cy="514.25" r="10.7" fill="#f0f4f9" stroke="#000" stroke-width="1"/><text x="760.75" y="519.25">10</text></g><defs><linearGradient id="lg" x1="0" x2="1" y1="0" y2="0"><stop offset="0.0000" stop-color="#506e90"/><stop offset="0.1111" stop-color="#6494c5"/><stop offset="0.2222" stop-color="#7bb3d5"/><stop offset="0.3333" stop-color="#b3d6e8"/><stop offset="0.4444" stop-color="#dfedf4"/><stop offset="0.5556" stop-color="#f9f9f9"/><stop offset="0.6667" stop-color="#fee6d8"/><stop offset="0.7778" stop-color="#f7c0a8"/><stop offset="0.8889" stop-color="#e29082"/><stop offset="1.0000" stop-color="#c95d6b"/></linearGradient></defs><rect x="850.3" y="1134.0" width="300.2" height="14.7" fill="url(#lg)"/><g stroke="#000" stroke-width="1" font-size="11" text-anchor="middle" shape-rendering="crispEdges"><line x1="850.30" x2="850.30" y1="1134.0" y2="1148.7"/><text x="850.30" y="1163" stroke="none" fill="#000">0</text><line x1="883.66" x2="883.66" y1="1134.0" y2="1148.7"/><text x="883.66" y="1163" stroke="none" fill="#000">1</text><line x1="917.01" x2="917.01" y1="1134.0" y2="1148.7"/><text x="917.01" y="1163" stroke="none" fill="#000">2</text><line x1="950.37" x2="950.37" y1="1134.0" y2="1148.7"/><text x="950.37" y="1163" stroke="none" fill="#000">3</text><line x1="983.72" x2="983.72" y1="1134.0" y2="1148.7"/><text x="983.72" y="1163" stroke="none" fill="#000">4</text><line x1="1017.08" x2="1017.08" y1="1134.0" y2="1148.7"/><text x="1017.08" y="1163" stroke="none" fill="#000">5</text><line x1="1050.43" x2="1050.43" y1="1134.0" y2="1148.7"/><text x="1050.43" y="1163" stroke="none" fill="#000">6</text><line x1="1083.79" x2="1083.79" y1="1134.0" y2="1148.7"/><text x="1083.79" y="1163" stroke="none" fill="#000">7</text><line x1="1117.14" x2="1117.14" y1="1134.0" y2="1148.7"/><text x="1117.14" y="1163" stroke="none" fill="#000">8</text><line x1="1150.50" x2="1150.50" y1="1134.0" y2="1148.7"/><text x="1150.50" y="1163" stroke="none" fill="#000">9</text></g><text x="1031" y="1126.7" font-size="13" text-anchor="middle" fill="#000">Variance, Z-scaled</text></svg></body></html>
